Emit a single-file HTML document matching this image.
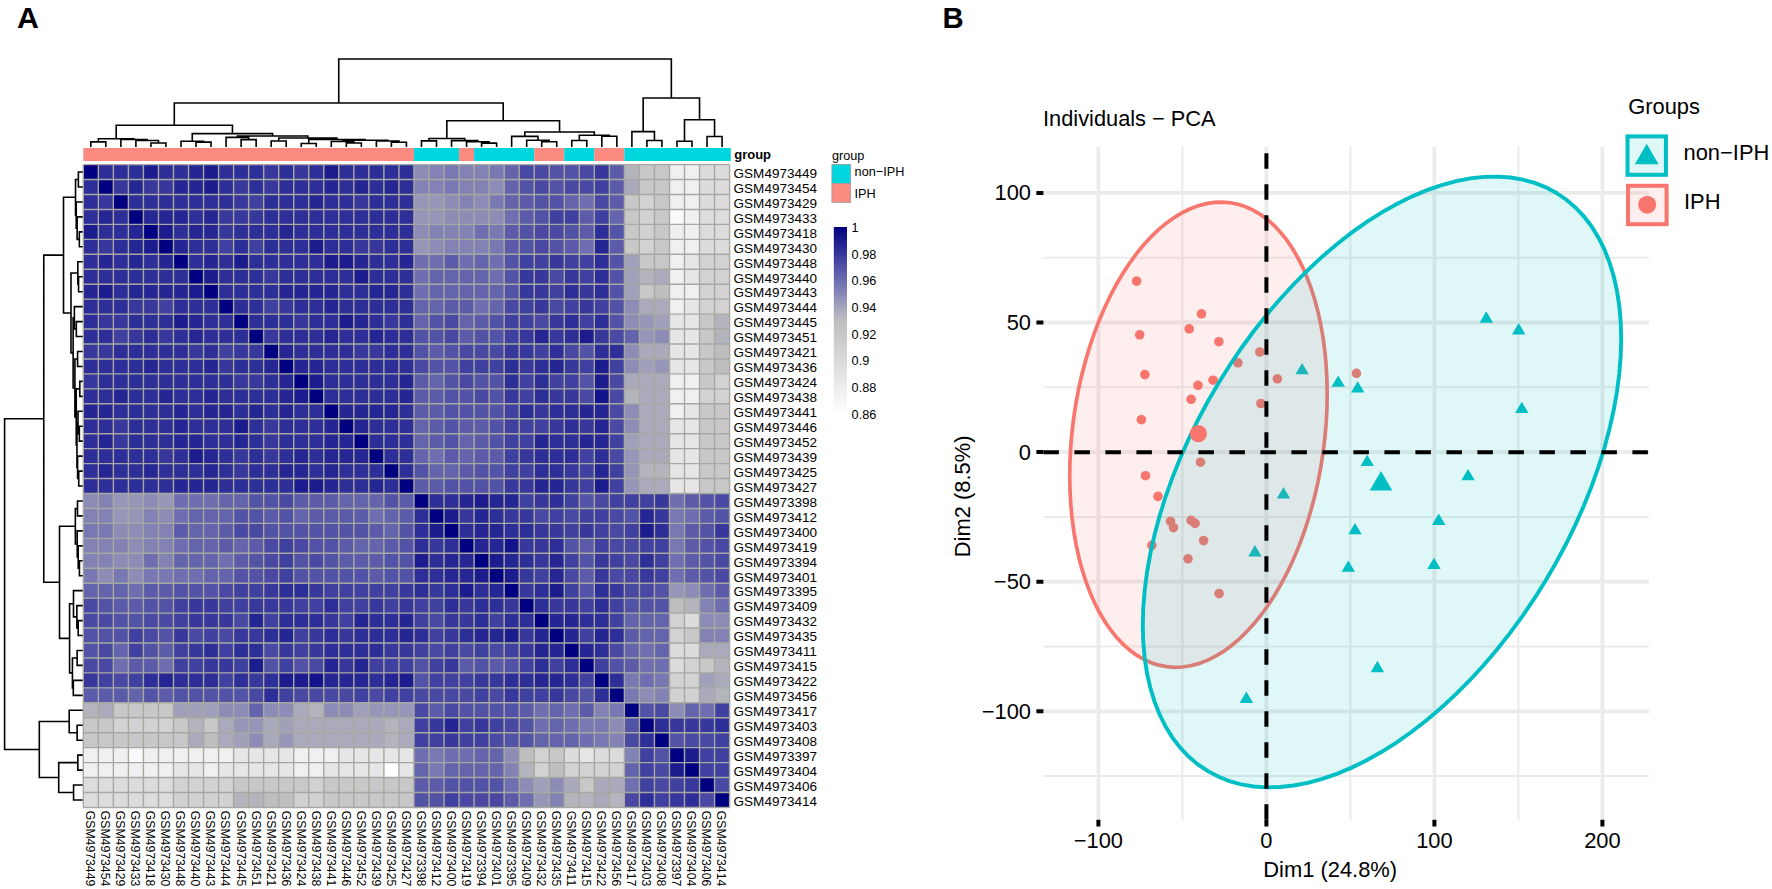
<!DOCTYPE html><html><head><meta charset="utf-8"><title>Figure</title><style>html,body{margin:0;padding:0;background:#fff;}svg{display:block;font-family:"Liberation Sans",Arial,sans-serif;}</style></head><body>
<svg width="1772" height="889" viewBox="0 0 1772 889">
<rect width="1772" height="889" fill="#fff"/>
<text x="17" y="28.1" font-size="30.3" font-weight="bold">A</text>
<text x="942.6" y="28.1" font-size="29.3" font-weight="bold">B</text>
<path d="M90.81 146.30V141.90M105.84 146.30V141.90M90.81 141.90H105.84M150.93 146.30V143.00M165.96 146.30V143.00M150.93 143.00H165.96M135.90 146.30V140.50M158.45 143.00V140.50M135.90 140.50H158.45M120.88 146.30V139.50M147.18 140.50V139.50M120.88 139.50H147.18M98.33 141.90V138.70M134.03 139.50V138.70M98.33 138.70H134.03M196.02 146.30V142.10M211.05 146.30V142.10M196.02 142.10H211.05M180.99 146.30V141.30M203.54 142.10V141.30M180.99 141.30H203.54M241.11 146.30V139.60M256.14 146.30V139.60M241.11 139.60H256.14M226.08 146.30V137.40M248.63 139.60V137.40M226.08 137.40H248.63M271.17 146.30V141.00M286.20 146.30V141.00M271.17 141.00H286.20M301.23 146.30V143.50M316.26 146.30V143.50M301.23 143.50H316.26M346.32 146.30V143.00M361.35 146.30V143.00M346.32 143.00H361.35M331.29 146.30V141.50M353.84 143.00V141.50M331.29 141.50H353.84M391.41 146.30V142.30M406.44 146.30V142.30M391.41 142.30H406.44M376.38 146.30V141.00M398.93 142.30V141.00M376.38 141.00H398.93M342.57 141.50V140.30M387.66 141.00V140.30M342.57 140.30H387.66M308.75 143.50V139.50M365.11 140.30V139.50M308.75 139.50H365.11M278.69 141.00V138.00M336.93 139.50V138.00M278.69 138.00H336.93M237.36 137.40V136.00M307.81 138.00V136.00M237.36 136.00H307.81M192.27 141.30V133.60M272.58 136.00V133.60M192.27 133.60H272.58M116.18 138.70V125.20M232.43 133.60V125.20M116.18 125.20H232.43M421.47 146.30V140.90M436.50 146.30V140.90M421.47 140.90H436.50M481.59 146.30V143.10M496.62 146.30V143.10M481.59 143.10H496.62M466.56 146.30V141.70M489.11 143.10V141.70M466.56 141.70H489.11M451.53 146.30V140.60M477.84 141.70V140.60M451.53 140.60H477.84M428.99 140.90V138.50M464.69 140.60V138.50M428.99 138.50H464.69M541.71 146.30V141.70M556.75 146.30V141.70M541.71 141.70H556.75M526.68 146.30V140.20M549.23 141.70V140.20M526.68 140.20H549.23M511.65 146.30V136.40M537.96 140.20V136.40M511.65 136.40H537.96M571.77 146.30V140.50M586.80 146.30V140.50M571.77 140.50H586.80M601.83 146.30V136.20M616.86 146.30V136.20M601.83 136.20H616.86M579.29 140.50V135.20M609.35 136.20V135.20M579.29 135.20H609.35M524.81 136.40V132.00M594.32 135.20V132.00M524.81 132.00H594.32M446.84 138.50V120.70M559.56 132.00V120.70M446.84 120.70H559.56M174.30 125.20V103.00M503.20 120.70V103.00M174.30 103.00H503.20M646.92 146.30V140.50M661.95 146.30V140.50M646.92 140.50H661.95M631.89 146.30V131.60M654.44 140.50V131.60M631.89 131.60H654.44M676.98 146.30V141.30M692.01 146.30V141.30M676.98 141.30H692.01M707.04 146.30V136.50M722.07 146.30V136.50M707.04 136.50H722.07M684.50 141.30V119.80M714.56 136.50V119.80M684.50 119.80H714.56M643.17 131.60V98.00M699.53 119.80V98.00M643.17 98.00H699.53M338.75 103.00V59.00M671.35 98.00V59.00M338.75 59.00H671.35" stroke="#000" stroke-width="1.6" fill="none" stroke-linecap="square"/>
<path d="M82.30 172.07H78.38M82.30 187.02H78.38M78.38 172.07V187.02M82.30 231.87H79.36M82.30 246.82H79.36M79.36 231.87V246.82M82.30 216.92H77.13M79.36 239.35H77.13M77.13 216.92V239.35M82.30 201.97H76.24M77.13 228.14H76.24M76.24 201.97V228.14M78.38 179.55H75.53M76.24 215.06H75.53M75.53 179.55V215.06M82.30 276.73H78.56M82.30 291.68H78.56M78.56 276.73V291.68M82.30 261.77H77.85M78.56 284.20H77.85M77.85 261.77V284.20M82.30 321.58H76.33M82.30 336.52H76.33M76.33 321.58V336.52M82.30 306.62H74.38M76.33 329.05H74.38M74.38 306.62V329.05M82.30 351.48H77.58M82.30 366.43H77.58M77.58 351.48V366.43M82.30 381.38H79.80M82.30 396.33H79.80M79.80 381.38V396.33M82.30 426.23H79.36M82.30 441.17H79.36M79.36 426.23V441.17M82.30 411.27H78.02M79.36 433.70H78.02M78.02 411.27V433.70M82.30 471.08H78.74M82.30 486.02H78.74M78.74 471.08V486.02M82.30 456.12H77.58M78.74 478.55H77.58M77.58 456.12V478.55M78.02 422.49H76.96M77.58 467.34H76.96M76.96 422.49V467.34M79.80 388.85H76.24M76.96 444.91H76.24M76.24 388.85V444.91M77.58 358.95H74.91M76.24 416.88H74.91M74.91 358.95V416.88M74.38 317.84H73.13M74.91 387.92H73.13M73.13 317.84V387.92M77.85 272.99H70.99M73.13 352.88H70.99M70.99 272.99V352.88M75.53 197.30H63.52M70.99 312.93H63.52M63.52 197.30V312.93M82.30 500.98H77.49M82.30 515.92H77.49M77.49 500.98V515.92M82.30 560.77H79.45M82.30 575.73H79.45M79.45 560.77V575.73M82.30 545.83H78.20M79.45 568.25H78.20M78.20 545.83V568.25M82.30 530.88H77.22M78.20 557.04H77.22M77.22 530.88V557.04M77.49 508.45H75.35M77.22 543.96H75.35M75.35 508.45V543.96M82.30 620.58H78.20M82.30 635.52H78.20M78.20 620.58V635.52M82.30 605.62H76.87M78.20 628.05H76.87M76.87 605.62V628.05M82.30 590.67H73.49M76.87 616.84H73.49M73.49 590.67V616.84M82.30 650.48H77.13M82.30 665.42H77.13M77.13 650.48V665.42M82.30 680.38H73.31M82.30 695.33H73.31M73.31 680.38V695.33M77.13 657.95H72.42M73.31 687.85H72.42M72.42 657.95V687.85M73.49 603.76H69.57M72.42 672.90H69.57M69.57 603.76V672.90M75.35 526.20H59.51M69.57 638.33H59.51M59.51 526.20V638.33M63.52 255.12H43.76M59.51 582.27H43.76M43.76 255.12V582.27M82.30 725.23H77.13M82.30 740.18H77.13M77.13 725.23V740.18M82.30 710.27H69.21M77.13 732.70H69.21M69.21 710.27V732.70M82.30 755.12H77.85M82.30 770.08H77.85M77.85 755.12V770.08M82.30 785.02H73.57M82.30 799.98H73.57M73.57 785.02V799.98M77.85 762.60H58.71M73.57 792.50H58.71M58.71 762.60V792.50M69.21 721.49H39.31M58.71 777.55H39.31M39.31 721.49V777.55M43.76 418.69H4.60M39.31 749.52H4.60M4.60 418.69V749.52" stroke="#000" stroke-width="1.6" fill="none" stroke-linecap="square"/>
<rect x="83.30" y="148.0" width="330.66" height="13.0" fill="#fb8a80"/>
<rect x="413.96" y="148.0" width="45.09" height="13.0" fill="#00d6de"/>
<rect x="459.05" y="148.0" width="15.03" height="13.0" fill="#fb8a80"/>
<rect x="474.08" y="148.0" width="60.12" height="13.0" fill="#00d6de"/>
<rect x="534.20" y="148.0" width="30.06" height="13.0" fill="#fb8a80"/>
<rect x="564.26" y="148.0" width="30.06" height="13.0" fill="#00d6de"/>
<rect x="594.32" y="148.0" width="30.06" height="13.0" fill="#fb8a80"/>
<rect x="624.38" y="148.0" width="106.41" height="13.0" fill="#00d6de"/>
<rect x="83.30" y="164.60" width="15.03" height="14.95" fill="#000080"/>
<rect x="98.33" y="164.60" width="15.03" height="14.95" fill="#2e2e98"/>
<rect x="113.36" y="164.60" width="15.03" height="14.95" fill="#2e2e98"/>
<rect x="128.39" y="164.60" width="15.03" height="14.95" fill="#2e2e98"/>
<rect x="143.42" y="164.60" width="15.03" height="14.95" fill="#1c1c8f"/>
<rect x="158.45" y="164.60" width="15.03" height="14.95" fill="#2e2e98"/>
<rect x="173.48" y="164.60" width="15.03" height="14.95" fill="#2e2e98"/>
<rect x="188.51" y="164.60" width="15.03" height="14.95" fill="#252594"/>
<rect x="203.54" y="164.60" width="15.03" height="14.95" fill="#1c1c8f"/>
<rect x="218.57" y="164.60" width="15.03" height="14.95" fill="#2e2e98"/>
<rect x="233.60" y="164.60" width="15.03" height="14.95" fill="#2e2e98"/>
<rect x="248.63" y="164.60" width="15.03" height="14.95" fill="#2e2e98"/>
<rect x="263.66" y="164.60" width="15.03" height="14.95" fill="#37379c"/>
<rect x="278.69" y="164.60" width="15.03" height="14.95" fill="#2e2e98"/>
<rect x="293.72" y="164.60" width="15.03" height="14.95" fill="#37379c"/>
<rect x="308.75" y="164.60" width="15.03" height="14.95" fill="#2e2e98"/>
<rect x="323.78" y="164.60" width="15.03" height="14.95" fill="#1c1c8f"/>
<rect x="338.81" y="164.60" width="15.03" height="14.95" fill="#2e2e98"/>
<rect x="353.84" y="164.60" width="15.03" height="14.95" fill="#2e2e98"/>
<rect x="368.87" y="164.60" width="15.03" height="14.95" fill="#2e2e98"/>
<rect x="383.90" y="164.60" width="15.03" height="14.95" fill="#2e2e98"/>
<rect x="398.93" y="164.60" width="15.03" height="14.95" fill="#2e2e98"/>
<rect x="413.96" y="164.60" width="15.03" height="14.95" fill="#8c8cb7"/>
<rect x="428.99" y="164.60" width="15.03" height="14.95" fill="#8282b5"/>
<rect x="444.02" y="164.60" width="15.03" height="14.95" fill="#7878b3"/>
<rect x="459.05" y="164.60" width="15.03" height="14.95" fill="#8282b5"/>
<rect x="474.08" y="164.60" width="15.03" height="14.95" fill="#8282b5"/>
<rect x="489.11" y="164.60" width="15.03" height="14.95" fill="#7878b3"/>
<rect x="504.14" y="164.60" width="15.03" height="14.95" fill="#6464ad"/>
<rect x="519.17" y="164.60" width="15.03" height="14.95" fill="#4949a4"/>
<rect x="534.20" y="164.60" width="15.03" height="14.95" fill="#4949a4"/>
<rect x="549.23" y="164.60" width="15.03" height="14.95" fill="#5252a7"/>
<rect x="564.26" y="164.60" width="15.03" height="14.95" fill="#5252a7"/>
<rect x="579.29" y="164.60" width="15.03" height="14.95" fill="#4949a4"/>
<rect x="594.32" y="164.60" width="15.03" height="14.95" fill="#37379c"/>
<rect x="609.35" y="164.60" width="15.03" height="14.95" fill="#5b5baa"/>
<rect x="624.38" y="164.60" width="15.03" height="14.95" fill="#b4b4bd"/>
<rect x="639.41" y="164.60" width="15.03" height="14.95" fill="#c8c8c8"/>
<rect x="654.44" y="164.60" width="15.03" height="14.95" fill="#c8c8c8"/>
<rect x="669.47" y="164.60" width="15.03" height="14.95" fill="#f0f0f0"/>
<rect x="684.50" y="164.60" width="15.03" height="14.95" fill="#f0f0f0"/>
<rect x="699.53" y="164.60" width="15.03" height="14.95" fill="#dcdcdc"/>
<rect x="714.56" y="164.60" width="15.03" height="14.95" fill="#dcdcdc"/>
<rect x="83.30" y="179.55" width="15.03" height="14.95" fill="#2e2e98"/>
<rect x="98.33" y="179.55" width="15.03" height="14.95" fill="#000080"/>
<rect x="113.36" y="179.55" width="15.03" height="14.95" fill="#37379c"/>
<rect x="128.39" y="179.55" width="15.03" height="14.95" fill="#252594"/>
<rect x="143.42" y="179.55" width="15.03" height="14.95" fill="#37379c"/>
<rect x="158.45" y="179.55" width="15.03" height="14.95" fill="#37379c"/>
<rect x="173.48" y="179.55" width="15.03" height="14.95" fill="#252594"/>
<rect x="188.51" y="179.55" width="15.03" height="14.95" fill="#252594"/>
<rect x="203.54" y="179.55" width="15.03" height="14.95" fill="#1c1c8f"/>
<rect x="218.57" y="179.55" width="15.03" height="14.95" fill="#2e2e98"/>
<rect x="233.60" y="179.55" width="15.03" height="14.95" fill="#37379c"/>
<rect x="248.63" y="179.55" width="15.03" height="14.95" fill="#2e2e98"/>
<rect x="263.66" y="179.55" width="15.03" height="14.95" fill="#37379c"/>
<rect x="278.69" y="179.55" width="15.03" height="14.95" fill="#2e2e98"/>
<rect x="293.72" y="179.55" width="15.03" height="14.95" fill="#2e2e98"/>
<rect x="308.75" y="179.55" width="15.03" height="14.95" fill="#2e2e98"/>
<rect x="323.78" y="179.55" width="15.03" height="14.95" fill="#252594"/>
<rect x="338.81" y="179.55" width="15.03" height="14.95" fill="#2e2e98"/>
<rect x="353.84" y="179.55" width="15.03" height="14.95" fill="#252594"/>
<rect x="368.87" y="179.55" width="15.03" height="14.95" fill="#2e2e98"/>
<rect x="383.90" y="179.55" width="15.03" height="14.95" fill="#252594"/>
<rect x="398.93" y="179.55" width="15.03" height="14.95" fill="#2e2e98"/>
<rect x="413.96" y="179.55" width="15.03" height="14.95" fill="#8282b5"/>
<rect x="428.99" y="179.55" width="15.03" height="14.95" fill="#8282b5"/>
<rect x="444.02" y="179.55" width="15.03" height="14.95" fill="#7878b3"/>
<rect x="459.05" y="179.55" width="15.03" height="14.95" fill="#8282b5"/>
<rect x="474.08" y="179.55" width="15.03" height="14.95" fill="#8282b5"/>
<rect x="489.11" y="179.55" width="15.03" height="14.95" fill="#8c8cb7"/>
<rect x="504.14" y="179.55" width="15.03" height="14.95" fill="#6464ad"/>
<rect x="519.17" y="179.55" width="15.03" height="14.95" fill="#5252a7"/>
<rect x="534.20" y="179.55" width="15.03" height="14.95" fill="#4949a4"/>
<rect x="549.23" y="179.55" width="15.03" height="14.95" fill="#5252a7"/>
<rect x="564.26" y="179.55" width="15.03" height="14.95" fill="#4949a4"/>
<rect x="579.29" y="179.55" width="15.03" height="14.95" fill="#4949a4"/>
<rect x="594.32" y="179.55" width="15.03" height="14.95" fill="#4040a0"/>
<rect x="609.35" y="179.55" width="15.03" height="14.95" fill="#5b5baa"/>
<rect x="624.38" y="179.55" width="15.03" height="14.95" fill="#aaaabc"/>
<rect x="639.41" y="179.55" width="15.03" height="14.95" fill="#c8c8c8"/>
<rect x="654.44" y="179.55" width="15.03" height="14.95" fill="#c8c8c8"/>
<rect x="669.47" y="179.55" width="15.03" height="14.95" fill="#f0f0f0"/>
<rect x="684.50" y="179.55" width="15.03" height="14.95" fill="#f0f0f0"/>
<rect x="699.53" y="179.55" width="15.03" height="14.95" fill="#dcdcdc"/>
<rect x="714.56" y="179.55" width="15.03" height="14.95" fill="#dcdcdc"/>
<rect x="83.30" y="194.50" width="15.03" height="14.95" fill="#2e2e98"/>
<rect x="98.33" y="194.50" width="15.03" height="14.95" fill="#37379c"/>
<rect x="113.36" y="194.50" width="15.03" height="14.95" fill="#000080"/>
<rect x="128.39" y="194.50" width="15.03" height="14.95" fill="#2e2e98"/>
<rect x="143.42" y="194.50" width="15.03" height="14.95" fill="#2e2e98"/>
<rect x="158.45" y="194.50" width="15.03" height="14.95" fill="#2e2e98"/>
<rect x="173.48" y="194.50" width="15.03" height="14.95" fill="#2e2e98"/>
<rect x="188.51" y="194.50" width="15.03" height="14.95" fill="#2e2e98"/>
<rect x="203.54" y="194.50" width="15.03" height="14.95" fill="#2e2e98"/>
<rect x="218.57" y="194.50" width="15.03" height="14.95" fill="#2e2e98"/>
<rect x="233.60" y="194.50" width="15.03" height="14.95" fill="#37379c"/>
<rect x="248.63" y="194.50" width="15.03" height="14.95" fill="#4040a0"/>
<rect x="263.66" y="194.50" width="15.03" height="14.95" fill="#2e2e98"/>
<rect x="278.69" y="194.50" width="15.03" height="14.95" fill="#2e2e98"/>
<rect x="293.72" y="194.50" width="15.03" height="14.95" fill="#2e2e98"/>
<rect x="308.75" y="194.50" width="15.03" height="14.95" fill="#252594"/>
<rect x="323.78" y="194.50" width="15.03" height="14.95" fill="#2e2e98"/>
<rect x="338.81" y="194.50" width="15.03" height="14.95" fill="#2e2e98"/>
<rect x="353.84" y="194.50" width="15.03" height="14.95" fill="#37379c"/>
<rect x="368.87" y="194.50" width="15.03" height="14.95" fill="#2e2e98"/>
<rect x="383.90" y="194.50" width="15.03" height="14.95" fill="#2e2e98"/>
<rect x="398.93" y="194.50" width="15.03" height="14.95" fill="#2e2e98"/>
<rect x="413.96" y="194.50" width="15.03" height="14.95" fill="#9696b9"/>
<rect x="428.99" y="194.50" width="15.03" height="14.95" fill="#9696b9"/>
<rect x="444.02" y="194.50" width="15.03" height="14.95" fill="#8c8cb7"/>
<rect x="459.05" y="194.50" width="15.03" height="14.95" fill="#8282b5"/>
<rect x="474.08" y="194.50" width="15.03" height="14.95" fill="#8c8cb7"/>
<rect x="489.11" y="194.50" width="15.03" height="14.95" fill="#7878b3"/>
<rect x="504.14" y="194.50" width="15.03" height="14.95" fill="#6464ad"/>
<rect x="519.17" y="194.50" width="15.03" height="14.95" fill="#5b5baa"/>
<rect x="534.20" y="194.50" width="15.03" height="14.95" fill="#5252a7"/>
<rect x="549.23" y="194.50" width="15.03" height="14.95" fill="#5252a7"/>
<rect x="564.26" y="194.50" width="15.03" height="14.95" fill="#6464ad"/>
<rect x="579.29" y="194.50" width="15.03" height="14.95" fill="#6e6eb0"/>
<rect x="594.32" y="194.50" width="15.03" height="14.95" fill="#4949a4"/>
<rect x="609.35" y="194.50" width="15.03" height="14.95" fill="#5b5baa"/>
<rect x="624.38" y="194.50" width="15.03" height="14.95" fill="#c8c8c8"/>
<rect x="639.41" y="194.50" width="15.03" height="14.95" fill="#d2d2d2"/>
<rect x="654.44" y="194.50" width="15.03" height="14.95" fill="#c8c8c8"/>
<rect x="669.47" y="194.50" width="15.03" height="14.95" fill="#f0f0f0"/>
<rect x="684.50" y="194.50" width="15.03" height="14.95" fill="#f0f0f0"/>
<rect x="699.53" y="194.50" width="15.03" height="14.95" fill="#dcdcdc"/>
<rect x="714.56" y="194.50" width="15.03" height="14.95" fill="#dcdcdc"/>
<rect x="83.30" y="209.45" width="15.03" height="14.95" fill="#2e2e98"/>
<rect x="98.33" y="209.45" width="15.03" height="14.95" fill="#252594"/>
<rect x="113.36" y="209.45" width="15.03" height="14.95" fill="#2e2e98"/>
<rect x="128.39" y="209.45" width="15.03" height="14.95" fill="#000080"/>
<rect x="143.42" y="209.45" width="15.03" height="14.95" fill="#252594"/>
<rect x="158.45" y="209.45" width="15.03" height="14.95" fill="#252594"/>
<rect x="173.48" y="209.45" width="15.03" height="14.95" fill="#252594"/>
<rect x="188.51" y="209.45" width="15.03" height="14.95" fill="#2e2e98"/>
<rect x="203.54" y="209.45" width="15.03" height="14.95" fill="#252594"/>
<rect x="218.57" y="209.45" width="15.03" height="14.95" fill="#37379c"/>
<rect x="233.60" y="209.45" width="15.03" height="14.95" fill="#37379c"/>
<rect x="248.63" y="209.45" width="15.03" height="14.95" fill="#37379c"/>
<rect x="263.66" y="209.45" width="15.03" height="14.95" fill="#2e2e98"/>
<rect x="278.69" y="209.45" width="15.03" height="14.95" fill="#2e2e98"/>
<rect x="293.72" y="209.45" width="15.03" height="14.95" fill="#2e2e98"/>
<rect x="308.75" y="209.45" width="15.03" height="14.95" fill="#2e2e98"/>
<rect x="323.78" y="209.45" width="15.03" height="14.95" fill="#2e2e98"/>
<rect x="338.81" y="209.45" width="15.03" height="14.95" fill="#2e2e98"/>
<rect x="353.84" y="209.45" width="15.03" height="14.95" fill="#2e2e98"/>
<rect x="368.87" y="209.45" width="15.03" height="14.95" fill="#2e2e98"/>
<rect x="383.90" y="209.45" width="15.03" height="14.95" fill="#2e2e98"/>
<rect x="398.93" y="209.45" width="15.03" height="14.95" fill="#2e2e98"/>
<rect x="413.96" y="209.45" width="15.03" height="14.95" fill="#9696b9"/>
<rect x="428.99" y="209.45" width="15.03" height="14.95" fill="#9696b9"/>
<rect x="444.02" y="209.45" width="15.03" height="14.95" fill="#8c8cb7"/>
<rect x="459.05" y="209.45" width="15.03" height="14.95" fill="#8c8cb7"/>
<rect x="474.08" y="209.45" width="15.03" height="14.95" fill="#8c8cb7"/>
<rect x="489.11" y="209.45" width="15.03" height="14.95" fill="#8c8cb7"/>
<rect x="504.14" y="209.45" width="15.03" height="14.95" fill="#6e6eb0"/>
<rect x="519.17" y="209.45" width="15.03" height="14.95" fill="#5b5baa"/>
<rect x="534.20" y="209.45" width="15.03" height="14.95" fill="#5252a7"/>
<rect x="549.23" y="209.45" width="15.03" height="14.95" fill="#4040a0"/>
<rect x="564.26" y="209.45" width="15.03" height="14.95" fill="#4040a0"/>
<rect x="579.29" y="209.45" width="15.03" height="14.95" fill="#5b5baa"/>
<rect x="594.32" y="209.45" width="15.03" height="14.95" fill="#4040a0"/>
<rect x="609.35" y="209.45" width="15.03" height="14.95" fill="#6464ad"/>
<rect x="624.38" y="209.45" width="15.03" height="14.95" fill="#c8c8c8"/>
<rect x="639.41" y="209.45" width="15.03" height="14.95" fill="#d2d2d2"/>
<rect x="654.44" y="209.45" width="15.03" height="14.95" fill="#c8c8c8"/>
<rect x="669.47" y="209.45" width="15.03" height="14.95" fill="#fafafa"/>
<rect x="684.50" y="209.45" width="15.03" height="14.95" fill="#f0f0f0"/>
<rect x="699.53" y="209.45" width="15.03" height="14.95" fill="#dcdcdc"/>
<rect x="714.56" y="209.45" width="15.03" height="14.95" fill="#dcdcdc"/>
<rect x="83.30" y="224.40" width="15.03" height="14.95" fill="#1c1c8f"/>
<rect x="98.33" y="224.40" width="15.03" height="14.95" fill="#2e2e98"/>
<rect x="113.36" y="224.40" width="15.03" height="14.95" fill="#2e2e98"/>
<rect x="128.39" y="224.40" width="15.03" height="14.95" fill="#252594"/>
<rect x="143.42" y="224.40" width="15.03" height="14.95" fill="#000080"/>
<rect x="158.45" y="224.40" width="15.03" height="14.95" fill="#1c1c8f"/>
<rect x="173.48" y="224.40" width="15.03" height="14.95" fill="#2e2e98"/>
<rect x="188.51" y="224.40" width="15.03" height="14.95" fill="#252594"/>
<rect x="203.54" y="224.40" width="15.03" height="14.95" fill="#252594"/>
<rect x="218.57" y="224.40" width="15.03" height="14.95" fill="#37379c"/>
<rect x="233.60" y="224.40" width="15.03" height="14.95" fill="#2e2e98"/>
<rect x="248.63" y="224.40" width="15.03" height="14.95" fill="#2e2e98"/>
<rect x="263.66" y="224.40" width="15.03" height="14.95" fill="#2e2e98"/>
<rect x="278.69" y="224.40" width="15.03" height="14.95" fill="#252594"/>
<rect x="293.72" y="224.40" width="15.03" height="14.95" fill="#2e2e98"/>
<rect x="308.75" y="224.40" width="15.03" height="14.95" fill="#2e2e98"/>
<rect x="323.78" y="224.40" width="15.03" height="14.95" fill="#2e2e98"/>
<rect x="338.81" y="224.40" width="15.03" height="14.95" fill="#2e2e98"/>
<rect x="353.84" y="224.40" width="15.03" height="14.95" fill="#2e2e98"/>
<rect x="368.87" y="224.40" width="15.03" height="14.95" fill="#2e2e98"/>
<rect x="383.90" y="224.40" width="15.03" height="14.95" fill="#2e2e98"/>
<rect x="398.93" y="224.40" width="15.03" height="14.95" fill="#2e2e98"/>
<rect x="413.96" y="224.40" width="15.03" height="14.95" fill="#8c8cb7"/>
<rect x="428.99" y="224.40" width="15.03" height="14.95" fill="#8282b5"/>
<rect x="444.02" y="224.40" width="15.03" height="14.95" fill="#8282b5"/>
<rect x="459.05" y="224.40" width="15.03" height="14.95" fill="#8282b5"/>
<rect x="474.08" y="224.40" width="15.03" height="14.95" fill="#6e6eb0"/>
<rect x="489.11" y="224.40" width="15.03" height="14.95" fill="#7878b3"/>
<rect x="504.14" y="224.40" width="15.03" height="14.95" fill="#5b5baa"/>
<rect x="519.17" y="224.40" width="15.03" height="14.95" fill="#5252a7"/>
<rect x="534.20" y="224.40" width="15.03" height="14.95" fill="#4949a4"/>
<rect x="549.23" y="224.40" width="15.03" height="14.95" fill="#4949a4"/>
<rect x="564.26" y="224.40" width="15.03" height="14.95" fill="#5252a7"/>
<rect x="579.29" y="224.40" width="15.03" height="14.95" fill="#5b5baa"/>
<rect x="594.32" y="224.40" width="15.03" height="14.95" fill="#2e2e98"/>
<rect x="609.35" y="224.40" width="15.03" height="14.95" fill="#5252a7"/>
<rect x="624.38" y="224.40" width="15.03" height="14.95" fill="#c8c8c8"/>
<rect x="639.41" y="224.40" width="15.03" height="14.95" fill="#d2d2d2"/>
<rect x="654.44" y="224.40" width="15.03" height="14.95" fill="#c8c8c8"/>
<rect x="669.47" y="224.40" width="15.03" height="14.95" fill="#f0f0f0"/>
<rect x="684.50" y="224.40" width="15.03" height="14.95" fill="#f0f0f0"/>
<rect x="699.53" y="224.40" width="15.03" height="14.95" fill="#dcdcdc"/>
<rect x="714.56" y="224.40" width="15.03" height="14.95" fill="#dcdcdc"/>
<rect x="83.30" y="239.35" width="15.03" height="14.95" fill="#2e2e98"/>
<rect x="98.33" y="239.35" width="15.03" height="14.95" fill="#37379c"/>
<rect x="113.36" y="239.35" width="15.03" height="14.95" fill="#2e2e98"/>
<rect x="128.39" y="239.35" width="15.03" height="14.95" fill="#252594"/>
<rect x="143.42" y="239.35" width="15.03" height="14.95" fill="#1c1c8f"/>
<rect x="158.45" y="239.35" width="15.03" height="14.95" fill="#000080"/>
<rect x="173.48" y="239.35" width="15.03" height="14.95" fill="#252594"/>
<rect x="188.51" y="239.35" width="15.03" height="14.95" fill="#2e2e98"/>
<rect x="203.54" y="239.35" width="15.03" height="14.95" fill="#2e2e98"/>
<rect x="218.57" y="239.35" width="15.03" height="14.95" fill="#4040a0"/>
<rect x="233.60" y="239.35" width="15.03" height="14.95" fill="#2e2e98"/>
<rect x="248.63" y="239.35" width="15.03" height="14.95" fill="#4040a0"/>
<rect x="263.66" y="239.35" width="15.03" height="14.95" fill="#2e2e98"/>
<rect x="278.69" y="239.35" width="15.03" height="14.95" fill="#2e2e98"/>
<rect x="293.72" y="239.35" width="15.03" height="14.95" fill="#2e2e98"/>
<rect x="308.75" y="239.35" width="15.03" height="14.95" fill="#1c1c8f"/>
<rect x="323.78" y="239.35" width="15.03" height="14.95" fill="#2e2e98"/>
<rect x="338.81" y="239.35" width="15.03" height="14.95" fill="#2e2e98"/>
<rect x="353.84" y="239.35" width="15.03" height="14.95" fill="#37379c"/>
<rect x="368.87" y="239.35" width="15.03" height="14.95" fill="#37379c"/>
<rect x="383.90" y="239.35" width="15.03" height="14.95" fill="#2e2e98"/>
<rect x="398.93" y="239.35" width="15.03" height="14.95" fill="#2e2e98"/>
<rect x="413.96" y="239.35" width="15.03" height="14.95" fill="#9696b9"/>
<rect x="428.99" y="239.35" width="15.03" height="14.95" fill="#8c8cb7"/>
<rect x="444.02" y="239.35" width="15.03" height="14.95" fill="#8282b5"/>
<rect x="459.05" y="239.35" width="15.03" height="14.95" fill="#8282b5"/>
<rect x="474.08" y="239.35" width="15.03" height="14.95" fill="#8282b5"/>
<rect x="489.11" y="239.35" width="15.03" height="14.95" fill="#7878b3"/>
<rect x="504.14" y="239.35" width="15.03" height="14.95" fill="#5b5baa"/>
<rect x="519.17" y="239.35" width="15.03" height="14.95" fill="#5252a7"/>
<rect x="534.20" y="239.35" width="15.03" height="14.95" fill="#4949a4"/>
<rect x="549.23" y="239.35" width="15.03" height="14.95" fill="#5252a7"/>
<rect x="564.26" y="239.35" width="15.03" height="14.95" fill="#5b5baa"/>
<rect x="579.29" y="239.35" width="15.03" height="14.95" fill="#6e6eb0"/>
<rect x="594.32" y="239.35" width="15.03" height="14.95" fill="#252594"/>
<rect x="609.35" y="239.35" width="15.03" height="14.95" fill="#5b5baa"/>
<rect x="624.38" y="239.35" width="15.03" height="14.95" fill="#c8c8c8"/>
<rect x="639.41" y="239.35" width="15.03" height="14.95" fill="#d2d2d2"/>
<rect x="654.44" y="239.35" width="15.03" height="14.95" fill="#c8c8c8"/>
<rect x="669.47" y="239.35" width="15.03" height="14.95" fill="#f0f0f0"/>
<rect x="684.50" y="239.35" width="15.03" height="14.95" fill="#f0f0f0"/>
<rect x="699.53" y="239.35" width="15.03" height="14.95" fill="#dcdcdc"/>
<rect x="714.56" y="239.35" width="15.03" height="14.95" fill="#dcdcdc"/>
<rect x="83.30" y="254.30" width="15.03" height="14.95" fill="#2e2e98"/>
<rect x="98.33" y="254.30" width="15.03" height="14.95" fill="#252594"/>
<rect x="113.36" y="254.30" width="15.03" height="14.95" fill="#2e2e98"/>
<rect x="128.39" y="254.30" width="15.03" height="14.95" fill="#252594"/>
<rect x="143.42" y="254.30" width="15.03" height="14.95" fill="#2e2e98"/>
<rect x="158.45" y="254.30" width="15.03" height="14.95" fill="#252594"/>
<rect x="173.48" y="254.30" width="15.03" height="14.95" fill="#000080"/>
<rect x="188.51" y="254.30" width="15.03" height="14.95" fill="#2e2e98"/>
<rect x="203.54" y="254.30" width="15.03" height="14.95" fill="#252594"/>
<rect x="218.57" y="254.30" width="15.03" height="14.95" fill="#2e2e98"/>
<rect x="233.60" y="254.30" width="15.03" height="14.95" fill="#1c1c8f"/>
<rect x="248.63" y="254.30" width="15.03" height="14.95" fill="#2e2e98"/>
<rect x="263.66" y="254.30" width="15.03" height="14.95" fill="#2e2e98"/>
<rect x="278.69" y="254.30" width="15.03" height="14.95" fill="#2e2e98"/>
<rect x="293.72" y="254.30" width="15.03" height="14.95" fill="#2e2e98"/>
<rect x="308.75" y="254.30" width="15.03" height="14.95" fill="#2e2e98"/>
<rect x="323.78" y="254.30" width="15.03" height="14.95" fill="#1c1c8f"/>
<rect x="338.81" y="254.30" width="15.03" height="14.95" fill="#1c1c8f"/>
<rect x="353.84" y="254.30" width="15.03" height="14.95" fill="#252594"/>
<rect x="368.87" y="254.30" width="15.03" height="14.95" fill="#2e2e98"/>
<rect x="383.90" y="254.30" width="15.03" height="14.95" fill="#2e2e98"/>
<rect x="398.93" y="254.30" width="15.03" height="14.95" fill="#252594"/>
<rect x="413.96" y="254.30" width="15.03" height="14.95" fill="#6e6eb0"/>
<rect x="428.99" y="254.30" width="15.03" height="14.95" fill="#6e6eb0"/>
<rect x="444.02" y="254.30" width="15.03" height="14.95" fill="#5b5baa"/>
<rect x="459.05" y="254.30" width="15.03" height="14.95" fill="#6e6eb0"/>
<rect x="474.08" y="254.30" width="15.03" height="14.95" fill="#6464ad"/>
<rect x="489.11" y="254.30" width="15.03" height="14.95" fill="#6e6eb0"/>
<rect x="504.14" y="254.30" width="15.03" height="14.95" fill="#5252a7"/>
<rect x="519.17" y="254.30" width="15.03" height="14.95" fill="#4040a0"/>
<rect x="534.20" y="254.30" width="15.03" height="14.95" fill="#4040a0"/>
<rect x="549.23" y="254.30" width="15.03" height="14.95" fill="#37379c"/>
<rect x="564.26" y="254.30" width="15.03" height="14.95" fill="#4040a0"/>
<rect x="579.29" y="254.30" width="15.03" height="14.95" fill="#4040a0"/>
<rect x="594.32" y="254.30" width="15.03" height="14.95" fill="#2e2e98"/>
<rect x="609.35" y="254.30" width="15.03" height="14.95" fill="#5252a7"/>
<rect x="624.38" y="254.30" width="15.03" height="14.95" fill="#a0a0bb"/>
<rect x="639.41" y="254.30" width="15.03" height="14.95" fill="#c8c8c8"/>
<rect x="654.44" y="254.30" width="15.03" height="14.95" fill="#c8c8c8"/>
<rect x="669.47" y="254.30" width="15.03" height="14.95" fill="#f0f0f0"/>
<rect x="684.50" y="254.30" width="15.03" height="14.95" fill="#e6e6e6"/>
<rect x="699.53" y="254.30" width="15.03" height="14.95" fill="#d2d2d2"/>
<rect x="714.56" y="254.30" width="15.03" height="14.95" fill="#d2d2d2"/>
<rect x="83.30" y="269.25" width="15.03" height="14.95" fill="#2e2e98"/>
<rect x="98.33" y="269.25" width="15.03" height="14.95" fill="#2e2e98"/>
<rect x="113.36" y="269.25" width="15.03" height="14.95" fill="#2e2e98"/>
<rect x="128.39" y="269.25" width="15.03" height="14.95" fill="#2e2e98"/>
<rect x="143.42" y="269.25" width="15.03" height="14.95" fill="#2e2e98"/>
<rect x="158.45" y="269.25" width="15.03" height="14.95" fill="#2e2e98"/>
<rect x="173.48" y="269.25" width="15.03" height="14.95" fill="#2e2e98"/>
<rect x="188.51" y="269.25" width="15.03" height="14.95" fill="#000080"/>
<rect x="203.54" y="269.25" width="15.03" height="14.95" fill="#1c1c8f"/>
<rect x="218.57" y="269.25" width="15.03" height="14.95" fill="#2e2e98"/>
<rect x="233.60" y="269.25" width="15.03" height="14.95" fill="#2e2e98"/>
<rect x="248.63" y="269.25" width="15.03" height="14.95" fill="#2e2e98"/>
<rect x="263.66" y="269.25" width="15.03" height="14.95" fill="#37379c"/>
<rect x="278.69" y="269.25" width="15.03" height="14.95" fill="#2e2e98"/>
<rect x="293.72" y="269.25" width="15.03" height="14.95" fill="#2e2e98"/>
<rect x="308.75" y="269.25" width="15.03" height="14.95" fill="#2e2e98"/>
<rect x="323.78" y="269.25" width="15.03" height="14.95" fill="#2e2e98"/>
<rect x="338.81" y="269.25" width="15.03" height="14.95" fill="#2e2e98"/>
<rect x="353.84" y="269.25" width="15.03" height="14.95" fill="#1c1c8f"/>
<rect x="368.87" y="269.25" width="15.03" height="14.95" fill="#2e2e98"/>
<rect x="383.90" y="269.25" width="15.03" height="14.95" fill="#2e2e98"/>
<rect x="398.93" y="269.25" width="15.03" height="14.95" fill="#2e2e98"/>
<rect x="413.96" y="269.25" width="15.03" height="14.95" fill="#6e6eb0"/>
<rect x="428.99" y="269.25" width="15.03" height="14.95" fill="#6464ad"/>
<rect x="444.02" y="269.25" width="15.03" height="14.95" fill="#6464ad"/>
<rect x="459.05" y="269.25" width="15.03" height="14.95" fill="#6464ad"/>
<rect x="474.08" y="269.25" width="15.03" height="14.95" fill="#6464ad"/>
<rect x="489.11" y="269.25" width="15.03" height="14.95" fill="#6e6eb0"/>
<rect x="504.14" y="269.25" width="15.03" height="14.95" fill="#5252a7"/>
<rect x="519.17" y="269.25" width="15.03" height="14.95" fill="#37379c"/>
<rect x="534.20" y="269.25" width="15.03" height="14.95" fill="#37379c"/>
<rect x="549.23" y="269.25" width="15.03" height="14.95" fill="#4949a4"/>
<rect x="564.26" y="269.25" width="15.03" height="14.95" fill="#37379c"/>
<rect x="579.29" y="269.25" width="15.03" height="14.95" fill="#4040a0"/>
<rect x="594.32" y="269.25" width="15.03" height="14.95" fill="#2e2e98"/>
<rect x="609.35" y="269.25" width="15.03" height="14.95" fill="#5252a7"/>
<rect x="624.38" y="269.25" width="15.03" height="14.95" fill="#a0a0bb"/>
<rect x="639.41" y="269.25" width="15.03" height="14.95" fill="#b4b4bd"/>
<rect x="654.44" y="269.25" width="15.03" height="14.95" fill="#aaaabc"/>
<rect x="669.47" y="269.25" width="15.03" height="14.95" fill="#f0f0f0"/>
<rect x="684.50" y="269.25" width="15.03" height="14.95" fill="#e6e6e6"/>
<rect x="699.53" y="269.25" width="15.03" height="14.95" fill="#d2d2d2"/>
<rect x="714.56" y="269.25" width="15.03" height="14.95" fill="#d2d2d2"/>
<rect x="83.30" y="284.20" width="15.03" height="14.95" fill="#252594"/>
<rect x="98.33" y="284.20" width="15.03" height="14.95" fill="#1c1c8f"/>
<rect x="113.36" y="284.20" width="15.03" height="14.95" fill="#2e2e98"/>
<rect x="128.39" y="284.20" width="15.03" height="14.95" fill="#252594"/>
<rect x="143.42" y="284.20" width="15.03" height="14.95" fill="#252594"/>
<rect x="158.45" y="284.20" width="15.03" height="14.95" fill="#252594"/>
<rect x="173.48" y="284.20" width="15.03" height="14.95" fill="#252594"/>
<rect x="188.51" y="284.20" width="15.03" height="14.95" fill="#1c1c8f"/>
<rect x="203.54" y="284.20" width="15.03" height="14.95" fill="#000080"/>
<rect x="218.57" y="284.20" width="15.03" height="14.95" fill="#2e2e98"/>
<rect x="233.60" y="284.20" width="15.03" height="14.95" fill="#2e2e98"/>
<rect x="248.63" y="284.20" width="15.03" height="14.95" fill="#2e2e98"/>
<rect x="263.66" y="284.20" width="15.03" height="14.95" fill="#2e2e98"/>
<rect x="278.69" y="284.20" width="15.03" height="14.95" fill="#252594"/>
<rect x="293.72" y="284.20" width="15.03" height="14.95" fill="#252594"/>
<rect x="308.75" y="284.20" width="15.03" height="14.95" fill="#252594"/>
<rect x="323.78" y="284.20" width="15.03" height="14.95" fill="#252594"/>
<rect x="338.81" y="284.20" width="15.03" height="14.95" fill="#2e2e98"/>
<rect x="353.84" y="284.20" width="15.03" height="14.95" fill="#2e2e98"/>
<rect x="368.87" y="284.20" width="15.03" height="14.95" fill="#252594"/>
<rect x="383.90" y="284.20" width="15.03" height="14.95" fill="#252594"/>
<rect x="398.93" y="284.20" width="15.03" height="14.95" fill="#2e2e98"/>
<rect x="413.96" y="284.20" width="15.03" height="14.95" fill="#6e6eb0"/>
<rect x="428.99" y="284.20" width="15.03" height="14.95" fill="#6464ad"/>
<rect x="444.02" y="284.20" width="15.03" height="14.95" fill="#6464ad"/>
<rect x="459.05" y="284.20" width="15.03" height="14.95" fill="#6464ad"/>
<rect x="474.08" y="284.20" width="15.03" height="14.95" fill="#6464ad"/>
<rect x="489.11" y="284.20" width="15.03" height="14.95" fill="#6464ad"/>
<rect x="504.14" y="284.20" width="15.03" height="14.95" fill="#5252a7"/>
<rect x="519.17" y="284.20" width="15.03" height="14.95" fill="#37379c"/>
<rect x="534.20" y="284.20" width="15.03" height="14.95" fill="#37379c"/>
<rect x="549.23" y="284.20" width="15.03" height="14.95" fill="#4040a0"/>
<rect x="564.26" y="284.20" width="15.03" height="14.95" fill="#2e2e98"/>
<rect x="579.29" y="284.20" width="15.03" height="14.95" fill="#37379c"/>
<rect x="594.32" y="284.20" width="15.03" height="14.95" fill="#2e2e98"/>
<rect x="609.35" y="284.20" width="15.03" height="14.95" fill="#5252a7"/>
<rect x="624.38" y="284.20" width="15.03" height="14.95" fill="#a0a0bb"/>
<rect x="639.41" y="284.20" width="15.03" height="14.95" fill="#c8c8c8"/>
<rect x="654.44" y="284.20" width="15.03" height="14.95" fill="#bebebe"/>
<rect x="669.47" y="284.20" width="15.03" height="14.95" fill="#f0f0f0"/>
<rect x="684.50" y="284.20" width="15.03" height="14.95" fill="#f0f0f0"/>
<rect x="699.53" y="284.20" width="15.03" height="14.95" fill="#d2d2d2"/>
<rect x="714.56" y="284.20" width="15.03" height="14.95" fill="#d2d2d2"/>
<rect x="83.30" y="299.15" width="15.03" height="14.95" fill="#2e2e98"/>
<rect x="98.33" y="299.15" width="15.03" height="14.95" fill="#2e2e98"/>
<rect x="113.36" y="299.15" width="15.03" height="14.95" fill="#2e2e98"/>
<rect x="128.39" y="299.15" width="15.03" height="14.95" fill="#37379c"/>
<rect x="143.42" y="299.15" width="15.03" height="14.95" fill="#37379c"/>
<rect x="158.45" y="299.15" width="15.03" height="14.95" fill="#4040a0"/>
<rect x="173.48" y="299.15" width="15.03" height="14.95" fill="#2e2e98"/>
<rect x="188.51" y="299.15" width="15.03" height="14.95" fill="#2e2e98"/>
<rect x="203.54" y="299.15" width="15.03" height="14.95" fill="#2e2e98"/>
<rect x="218.57" y="299.15" width="15.03" height="14.95" fill="#000080"/>
<rect x="233.60" y="299.15" width="15.03" height="14.95" fill="#2e2e98"/>
<rect x="248.63" y="299.15" width="15.03" height="14.95" fill="#2e2e98"/>
<rect x="263.66" y="299.15" width="15.03" height="14.95" fill="#4040a0"/>
<rect x="278.69" y="299.15" width="15.03" height="14.95" fill="#37379c"/>
<rect x="293.72" y="299.15" width="15.03" height="14.95" fill="#2e2e98"/>
<rect x="308.75" y="299.15" width="15.03" height="14.95" fill="#2e2e98"/>
<rect x="323.78" y="299.15" width="15.03" height="14.95" fill="#252594"/>
<rect x="338.81" y="299.15" width="15.03" height="14.95" fill="#2e2e98"/>
<rect x="353.84" y="299.15" width="15.03" height="14.95" fill="#2e2e98"/>
<rect x="368.87" y="299.15" width="15.03" height="14.95" fill="#2e2e98"/>
<rect x="383.90" y="299.15" width="15.03" height="14.95" fill="#2e2e98"/>
<rect x="398.93" y="299.15" width="15.03" height="14.95" fill="#2e2e98"/>
<rect x="413.96" y="299.15" width="15.03" height="14.95" fill="#6464ad"/>
<rect x="428.99" y="299.15" width="15.03" height="14.95" fill="#6464ad"/>
<rect x="444.02" y="299.15" width="15.03" height="14.95" fill="#5b5baa"/>
<rect x="459.05" y="299.15" width="15.03" height="14.95" fill="#5b5baa"/>
<rect x="474.08" y="299.15" width="15.03" height="14.95" fill="#6e6eb0"/>
<rect x="489.11" y="299.15" width="15.03" height="14.95" fill="#6464ad"/>
<rect x="504.14" y="299.15" width="15.03" height="14.95" fill="#4949a4"/>
<rect x="519.17" y="299.15" width="15.03" height="14.95" fill="#4040a0"/>
<rect x="534.20" y="299.15" width="15.03" height="14.95" fill="#37379c"/>
<rect x="549.23" y="299.15" width="15.03" height="14.95" fill="#4949a4"/>
<rect x="564.26" y="299.15" width="15.03" height="14.95" fill="#4040a0"/>
<rect x="579.29" y="299.15" width="15.03" height="14.95" fill="#37379c"/>
<rect x="594.32" y="299.15" width="15.03" height="14.95" fill="#4040a0"/>
<rect x="609.35" y="299.15" width="15.03" height="14.95" fill="#5252a7"/>
<rect x="624.38" y="299.15" width="15.03" height="14.95" fill="#8c8cb7"/>
<rect x="639.41" y="299.15" width="15.03" height="14.95" fill="#aaaabc"/>
<rect x="654.44" y="299.15" width="15.03" height="14.95" fill="#aaaabc"/>
<rect x="669.47" y="299.15" width="15.03" height="14.95" fill="#f0f0f0"/>
<rect x="684.50" y="299.15" width="15.03" height="14.95" fill="#e6e6e6"/>
<rect x="699.53" y="299.15" width="15.03" height="14.95" fill="#d2d2d2"/>
<rect x="714.56" y="299.15" width="15.03" height="14.95" fill="#d2d2d2"/>
<rect x="83.30" y="314.10" width="15.03" height="14.95" fill="#2e2e98"/>
<rect x="98.33" y="314.10" width="15.03" height="14.95" fill="#37379c"/>
<rect x="113.36" y="314.10" width="15.03" height="14.95" fill="#37379c"/>
<rect x="128.39" y="314.10" width="15.03" height="14.95" fill="#2e2e98"/>
<rect x="143.42" y="314.10" width="15.03" height="14.95" fill="#2e2e98"/>
<rect x="158.45" y="314.10" width="15.03" height="14.95" fill="#2e2e98"/>
<rect x="173.48" y="314.10" width="15.03" height="14.95" fill="#1c1c8f"/>
<rect x="188.51" y="314.10" width="15.03" height="14.95" fill="#252594"/>
<rect x="203.54" y="314.10" width="15.03" height="14.95" fill="#2e2e98"/>
<rect x="218.57" y="314.10" width="15.03" height="14.95" fill="#2e2e98"/>
<rect x="233.60" y="314.10" width="15.03" height="14.95" fill="#000080"/>
<rect x="248.63" y="314.10" width="15.03" height="14.95" fill="#2e2e98"/>
<rect x="263.66" y="314.10" width="15.03" height="14.95" fill="#2e2e98"/>
<rect x="278.69" y="314.10" width="15.03" height="14.95" fill="#2e2e98"/>
<rect x="293.72" y="314.10" width="15.03" height="14.95" fill="#37379c"/>
<rect x="308.75" y="314.10" width="15.03" height="14.95" fill="#2e2e98"/>
<rect x="323.78" y="314.10" width="15.03" height="14.95" fill="#2e2e98"/>
<rect x="338.81" y="314.10" width="15.03" height="14.95" fill="#1c1c8f"/>
<rect x="353.84" y="314.10" width="15.03" height="14.95" fill="#252594"/>
<rect x="368.87" y="314.10" width="15.03" height="14.95" fill="#2e2e98"/>
<rect x="383.90" y="314.10" width="15.03" height="14.95" fill="#37379c"/>
<rect x="398.93" y="314.10" width="15.03" height="14.95" fill="#2e2e98"/>
<rect x="413.96" y="314.10" width="15.03" height="14.95" fill="#6464ad"/>
<rect x="428.99" y="314.10" width="15.03" height="14.95" fill="#5252a7"/>
<rect x="444.02" y="314.10" width="15.03" height="14.95" fill="#4949a4"/>
<rect x="459.05" y="314.10" width="15.03" height="14.95" fill="#6464ad"/>
<rect x="474.08" y="314.10" width="15.03" height="14.95" fill="#5b5baa"/>
<rect x="489.11" y="314.10" width="15.03" height="14.95" fill="#5252a7"/>
<rect x="504.14" y="314.10" width="15.03" height="14.95" fill="#4040a0"/>
<rect x="519.17" y="314.10" width="15.03" height="14.95" fill="#4040a0"/>
<rect x="534.20" y="314.10" width="15.03" height="14.95" fill="#4949a4"/>
<rect x="549.23" y="314.10" width="15.03" height="14.95" fill="#37379c"/>
<rect x="564.26" y="314.10" width="15.03" height="14.95" fill="#2e2e98"/>
<rect x="579.29" y="314.10" width="15.03" height="14.95" fill="#4040a0"/>
<rect x="594.32" y="314.10" width="15.03" height="14.95" fill="#2e2e98"/>
<rect x="609.35" y="314.10" width="15.03" height="14.95" fill="#5252a7"/>
<rect x="624.38" y="314.10" width="15.03" height="14.95" fill="#8c8cb7"/>
<rect x="639.41" y="314.10" width="15.03" height="14.95" fill="#9696b9"/>
<rect x="654.44" y="314.10" width="15.03" height="14.95" fill="#a0a0bb"/>
<rect x="669.47" y="314.10" width="15.03" height="14.95" fill="#e6e6e6"/>
<rect x="684.50" y="314.10" width="15.03" height="14.95" fill="#e6e6e6"/>
<rect x="699.53" y="314.10" width="15.03" height="14.95" fill="#c8c8c8"/>
<rect x="714.56" y="314.10" width="15.03" height="14.95" fill="#b4b4bd"/>
<rect x="83.30" y="329.05" width="15.03" height="14.95" fill="#2e2e98"/>
<rect x="98.33" y="329.05" width="15.03" height="14.95" fill="#2e2e98"/>
<rect x="113.36" y="329.05" width="15.03" height="14.95" fill="#4040a0"/>
<rect x="128.39" y="329.05" width="15.03" height="14.95" fill="#37379c"/>
<rect x="143.42" y="329.05" width="15.03" height="14.95" fill="#2e2e98"/>
<rect x="158.45" y="329.05" width="15.03" height="14.95" fill="#37379c"/>
<rect x="173.48" y="329.05" width="15.03" height="14.95" fill="#2e2e98"/>
<rect x="188.51" y="329.05" width="15.03" height="14.95" fill="#252594"/>
<rect x="203.54" y="329.05" width="15.03" height="14.95" fill="#2e2e98"/>
<rect x="218.57" y="329.05" width="15.03" height="14.95" fill="#2e2e98"/>
<rect x="233.60" y="329.05" width="15.03" height="14.95" fill="#2e2e98"/>
<rect x="248.63" y="329.05" width="15.03" height="14.95" fill="#000080"/>
<rect x="263.66" y="329.05" width="15.03" height="14.95" fill="#37379c"/>
<rect x="278.69" y="329.05" width="15.03" height="14.95" fill="#2e2e98"/>
<rect x="293.72" y="329.05" width="15.03" height="14.95" fill="#2e2e98"/>
<rect x="308.75" y="329.05" width="15.03" height="14.95" fill="#2e2e98"/>
<rect x="323.78" y="329.05" width="15.03" height="14.95" fill="#252594"/>
<rect x="338.81" y="329.05" width="15.03" height="14.95" fill="#2e2e98"/>
<rect x="353.84" y="329.05" width="15.03" height="14.95" fill="#2e2e98"/>
<rect x="368.87" y="329.05" width="15.03" height="14.95" fill="#252594"/>
<rect x="383.90" y="329.05" width="15.03" height="14.95" fill="#2e2e98"/>
<rect x="398.93" y="329.05" width="15.03" height="14.95" fill="#2e2e98"/>
<rect x="413.96" y="329.05" width="15.03" height="14.95" fill="#5252a7"/>
<rect x="428.99" y="329.05" width="15.03" height="14.95" fill="#5252a7"/>
<rect x="444.02" y="329.05" width="15.03" height="14.95" fill="#4949a4"/>
<rect x="459.05" y="329.05" width="15.03" height="14.95" fill="#5b5baa"/>
<rect x="474.08" y="329.05" width="15.03" height="14.95" fill="#5252a7"/>
<rect x="489.11" y="329.05" width="15.03" height="14.95" fill="#5252a7"/>
<rect x="504.14" y="329.05" width="15.03" height="14.95" fill="#4040a0"/>
<rect x="519.17" y="329.05" width="15.03" height="14.95" fill="#37379c"/>
<rect x="534.20" y="329.05" width="15.03" height="14.95" fill="#252594"/>
<rect x="549.23" y="329.05" width="15.03" height="14.95" fill="#37379c"/>
<rect x="564.26" y="329.05" width="15.03" height="14.95" fill="#2e2e98"/>
<rect x="579.29" y="329.05" width="15.03" height="14.95" fill="#1c1c8f"/>
<rect x="594.32" y="329.05" width="15.03" height="14.95" fill="#37379c"/>
<rect x="609.35" y="329.05" width="15.03" height="14.95" fill="#4949a4"/>
<rect x="624.38" y="329.05" width="15.03" height="14.95" fill="#6464ad"/>
<rect x="639.41" y="329.05" width="15.03" height="14.95" fill="#9696b9"/>
<rect x="654.44" y="329.05" width="15.03" height="14.95" fill="#8c8cb7"/>
<rect x="669.47" y="329.05" width="15.03" height="14.95" fill="#e6e6e6"/>
<rect x="684.50" y="329.05" width="15.03" height="14.95" fill="#e6e6e6"/>
<rect x="699.53" y="329.05" width="15.03" height="14.95" fill="#c8c8c8"/>
<rect x="714.56" y="329.05" width="15.03" height="14.95" fill="#b4b4bd"/>
<rect x="83.30" y="344.00" width="15.03" height="14.95" fill="#37379c"/>
<rect x="98.33" y="344.00" width="15.03" height="14.95" fill="#37379c"/>
<rect x="113.36" y="344.00" width="15.03" height="14.95" fill="#2e2e98"/>
<rect x="128.39" y="344.00" width="15.03" height="14.95" fill="#2e2e98"/>
<rect x="143.42" y="344.00" width="15.03" height="14.95" fill="#2e2e98"/>
<rect x="158.45" y="344.00" width="15.03" height="14.95" fill="#2e2e98"/>
<rect x="173.48" y="344.00" width="15.03" height="14.95" fill="#2e2e98"/>
<rect x="188.51" y="344.00" width="15.03" height="14.95" fill="#37379c"/>
<rect x="203.54" y="344.00" width="15.03" height="14.95" fill="#2e2e98"/>
<rect x="218.57" y="344.00" width="15.03" height="14.95" fill="#4040a0"/>
<rect x="233.60" y="344.00" width="15.03" height="14.95" fill="#37379c"/>
<rect x="248.63" y="344.00" width="15.03" height="14.95" fill="#37379c"/>
<rect x="263.66" y="344.00" width="15.03" height="14.95" fill="#000080"/>
<rect x="278.69" y="344.00" width="15.03" height="14.95" fill="#252594"/>
<rect x="293.72" y="344.00" width="15.03" height="14.95" fill="#2e2e98"/>
<rect x="308.75" y="344.00" width="15.03" height="14.95" fill="#2e2e98"/>
<rect x="323.78" y="344.00" width="15.03" height="14.95" fill="#2e2e98"/>
<rect x="338.81" y="344.00" width="15.03" height="14.95" fill="#2e2e98"/>
<rect x="353.84" y="344.00" width="15.03" height="14.95" fill="#37379c"/>
<rect x="368.87" y="344.00" width="15.03" height="14.95" fill="#37379c"/>
<rect x="383.90" y="344.00" width="15.03" height="14.95" fill="#2e2e98"/>
<rect x="398.93" y="344.00" width="15.03" height="14.95" fill="#2e2e98"/>
<rect x="413.96" y="344.00" width="15.03" height="14.95" fill="#5252a7"/>
<rect x="428.99" y="344.00" width="15.03" height="14.95" fill="#5b5baa"/>
<rect x="444.02" y="344.00" width="15.03" height="14.95" fill="#5252a7"/>
<rect x="459.05" y="344.00" width="15.03" height="14.95" fill="#4949a4"/>
<rect x="474.08" y="344.00" width="15.03" height="14.95" fill="#4949a4"/>
<rect x="489.11" y="344.00" width="15.03" height="14.95" fill="#4949a4"/>
<rect x="504.14" y="344.00" width="15.03" height="14.95" fill="#37379c"/>
<rect x="519.17" y="344.00" width="15.03" height="14.95" fill="#37379c"/>
<rect x="534.20" y="344.00" width="15.03" height="14.95" fill="#4040a0"/>
<rect x="549.23" y="344.00" width="15.03" height="14.95" fill="#2e2e98"/>
<rect x="564.26" y="344.00" width="15.03" height="14.95" fill="#4949a4"/>
<rect x="579.29" y="344.00" width="15.03" height="14.95" fill="#5252a7"/>
<rect x="594.32" y="344.00" width="15.03" height="14.95" fill="#2e2e98"/>
<rect x="609.35" y="344.00" width="15.03" height="14.95" fill="#2e2e98"/>
<rect x="624.38" y="344.00" width="15.03" height="14.95" fill="#8c8cb7"/>
<rect x="639.41" y="344.00" width="15.03" height="14.95" fill="#aaaabc"/>
<rect x="654.44" y="344.00" width="15.03" height="14.95" fill="#aaaabc"/>
<rect x="669.47" y="344.00" width="15.03" height="14.95" fill="#e6e6e6"/>
<rect x="684.50" y="344.00" width="15.03" height="14.95" fill="#e6e6e6"/>
<rect x="699.53" y="344.00" width="15.03" height="14.95" fill="#c8c8c8"/>
<rect x="714.56" y="344.00" width="15.03" height="14.95" fill="#bebebe"/>
<rect x="83.30" y="358.95" width="15.03" height="14.95" fill="#2e2e98"/>
<rect x="98.33" y="358.95" width="15.03" height="14.95" fill="#2e2e98"/>
<rect x="113.36" y="358.95" width="15.03" height="14.95" fill="#2e2e98"/>
<rect x="128.39" y="358.95" width="15.03" height="14.95" fill="#2e2e98"/>
<rect x="143.42" y="358.95" width="15.03" height="14.95" fill="#252594"/>
<rect x="158.45" y="358.95" width="15.03" height="14.95" fill="#2e2e98"/>
<rect x="173.48" y="358.95" width="15.03" height="14.95" fill="#2e2e98"/>
<rect x="188.51" y="358.95" width="15.03" height="14.95" fill="#2e2e98"/>
<rect x="203.54" y="358.95" width="15.03" height="14.95" fill="#252594"/>
<rect x="218.57" y="358.95" width="15.03" height="14.95" fill="#37379c"/>
<rect x="233.60" y="358.95" width="15.03" height="14.95" fill="#2e2e98"/>
<rect x="248.63" y="358.95" width="15.03" height="14.95" fill="#2e2e98"/>
<rect x="263.66" y="358.95" width="15.03" height="14.95" fill="#252594"/>
<rect x="278.69" y="358.95" width="15.03" height="14.95" fill="#000080"/>
<rect x="293.72" y="358.95" width="15.03" height="14.95" fill="#252594"/>
<rect x="308.75" y="358.95" width="15.03" height="14.95" fill="#252594"/>
<rect x="323.78" y="358.95" width="15.03" height="14.95" fill="#2e2e98"/>
<rect x="338.81" y="358.95" width="15.03" height="14.95" fill="#2e2e98"/>
<rect x="353.84" y="358.95" width="15.03" height="14.95" fill="#2e2e98"/>
<rect x="368.87" y="358.95" width="15.03" height="14.95" fill="#2e2e98"/>
<rect x="383.90" y="358.95" width="15.03" height="14.95" fill="#2e2e98"/>
<rect x="398.93" y="358.95" width="15.03" height="14.95" fill="#2e2e98"/>
<rect x="413.96" y="358.95" width="15.03" height="14.95" fill="#4949a4"/>
<rect x="428.99" y="358.95" width="15.03" height="14.95" fill="#5252a7"/>
<rect x="444.02" y="358.95" width="15.03" height="14.95" fill="#5252a7"/>
<rect x="459.05" y="358.95" width="15.03" height="14.95" fill="#4040a0"/>
<rect x="474.08" y="358.95" width="15.03" height="14.95" fill="#4040a0"/>
<rect x="489.11" y="358.95" width="15.03" height="14.95" fill="#4040a0"/>
<rect x="504.14" y="358.95" width="15.03" height="14.95" fill="#2e2e98"/>
<rect x="519.17" y="358.95" width="15.03" height="14.95" fill="#37379c"/>
<rect x="534.20" y="358.95" width="15.03" height="14.95" fill="#2e2e98"/>
<rect x="549.23" y="358.95" width="15.03" height="14.95" fill="#252594"/>
<rect x="564.26" y="358.95" width="15.03" height="14.95" fill="#37379c"/>
<rect x="579.29" y="358.95" width="15.03" height="14.95" fill="#4040a0"/>
<rect x="594.32" y="358.95" width="15.03" height="14.95" fill="#1c1c8f"/>
<rect x="609.35" y="358.95" width="15.03" height="14.95" fill="#4040a0"/>
<rect x="624.38" y="358.95" width="15.03" height="14.95" fill="#8c8cb7"/>
<rect x="639.41" y="358.95" width="15.03" height="14.95" fill="#a0a0bb"/>
<rect x="654.44" y="358.95" width="15.03" height="14.95" fill="#9696b9"/>
<rect x="669.47" y="358.95" width="15.03" height="14.95" fill="#e6e6e6"/>
<rect x="684.50" y="358.95" width="15.03" height="14.95" fill="#e6e6e6"/>
<rect x="699.53" y="358.95" width="15.03" height="14.95" fill="#c8c8c8"/>
<rect x="714.56" y="358.95" width="15.03" height="14.95" fill="#bebebe"/>
<rect x="83.30" y="373.90" width="15.03" height="14.95" fill="#37379c"/>
<rect x="98.33" y="373.90" width="15.03" height="14.95" fill="#2e2e98"/>
<rect x="113.36" y="373.90" width="15.03" height="14.95" fill="#2e2e98"/>
<rect x="128.39" y="373.90" width="15.03" height="14.95" fill="#2e2e98"/>
<rect x="143.42" y="373.90" width="15.03" height="14.95" fill="#2e2e98"/>
<rect x="158.45" y="373.90" width="15.03" height="14.95" fill="#2e2e98"/>
<rect x="173.48" y="373.90" width="15.03" height="14.95" fill="#2e2e98"/>
<rect x="188.51" y="373.90" width="15.03" height="14.95" fill="#2e2e98"/>
<rect x="203.54" y="373.90" width="15.03" height="14.95" fill="#2e2e98"/>
<rect x="218.57" y="373.90" width="15.03" height="14.95" fill="#2e2e98"/>
<rect x="233.60" y="373.90" width="15.03" height="14.95" fill="#37379c"/>
<rect x="248.63" y="373.90" width="15.03" height="14.95" fill="#37379c"/>
<rect x="263.66" y="373.90" width="15.03" height="14.95" fill="#2e2e98"/>
<rect x="278.69" y="373.90" width="15.03" height="14.95" fill="#252594"/>
<rect x="293.72" y="373.90" width="15.03" height="14.95" fill="#000080"/>
<rect x="308.75" y="373.90" width="15.03" height="14.95" fill="#1c1c8f"/>
<rect x="323.78" y="373.90" width="15.03" height="14.95" fill="#2e2e98"/>
<rect x="338.81" y="373.90" width="15.03" height="14.95" fill="#2e2e98"/>
<rect x="353.84" y="373.90" width="15.03" height="14.95" fill="#2e2e98"/>
<rect x="368.87" y="373.90" width="15.03" height="14.95" fill="#2e2e98"/>
<rect x="383.90" y="373.90" width="15.03" height="14.95" fill="#2e2e98"/>
<rect x="398.93" y="373.90" width="15.03" height="14.95" fill="#252594"/>
<rect x="413.96" y="373.90" width="15.03" height="14.95" fill="#5b5baa"/>
<rect x="428.99" y="373.90" width="15.03" height="14.95" fill="#6464ad"/>
<rect x="444.02" y="373.90" width="15.03" height="14.95" fill="#5252a7"/>
<rect x="459.05" y="373.90" width="15.03" height="14.95" fill="#4949a4"/>
<rect x="474.08" y="373.90" width="15.03" height="14.95" fill="#5252a7"/>
<rect x="489.11" y="373.90" width="15.03" height="14.95" fill="#5252a7"/>
<rect x="504.14" y="373.90" width="15.03" height="14.95" fill="#2e2e98"/>
<rect x="519.17" y="373.90" width="15.03" height="14.95" fill="#4040a0"/>
<rect x="534.20" y="373.90" width="15.03" height="14.95" fill="#2e2e98"/>
<rect x="549.23" y="373.90" width="15.03" height="14.95" fill="#4040a0"/>
<rect x="564.26" y="373.90" width="15.03" height="14.95" fill="#4040a0"/>
<rect x="579.29" y="373.90" width="15.03" height="14.95" fill="#5252a7"/>
<rect x="594.32" y="373.90" width="15.03" height="14.95" fill="#1c1c8f"/>
<rect x="609.35" y="373.90" width="15.03" height="14.95" fill="#4949a4"/>
<rect x="624.38" y="373.90" width="15.03" height="14.95" fill="#aaaabc"/>
<rect x="639.41" y="373.90" width="15.03" height="14.95" fill="#aaaabc"/>
<rect x="654.44" y="373.90" width="15.03" height="14.95" fill="#aaaabc"/>
<rect x="669.47" y="373.90" width="15.03" height="14.95" fill="#f0f0f0"/>
<rect x="684.50" y="373.90" width="15.03" height="14.95" fill="#f0f0f0"/>
<rect x="699.53" y="373.90" width="15.03" height="14.95" fill="#c8c8c8"/>
<rect x="714.56" y="373.90" width="15.03" height="14.95" fill="#d2d2d2"/>
<rect x="83.30" y="388.85" width="15.03" height="14.95" fill="#2e2e98"/>
<rect x="98.33" y="388.85" width="15.03" height="14.95" fill="#2e2e98"/>
<rect x="113.36" y="388.85" width="15.03" height="14.95" fill="#252594"/>
<rect x="128.39" y="388.85" width="15.03" height="14.95" fill="#2e2e98"/>
<rect x="143.42" y="388.85" width="15.03" height="14.95" fill="#2e2e98"/>
<rect x="158.45" y="388.85" width="15.03" height="14.95" fill="#252594"/>
<rect x="173.48" y="388.85" width="15.03" height="14.95" fill="#2e2e98"/>
<rect x="188.51" y="388.85" width="15.03" height="14.95" fill="#2e2e98"/>
<rect x="203.54" y="388.85" width="15.03" height="14.95" fill="#252594"/>
<rect x="218.57" y="388.85" width="15.03" height="14.95" fill="#2e2e98"/>
<rect x="233.60" y="388.85" width="15.03" height="14.95" fill="#2e2e98"/>
<rect x="248.63" y="388.85" width="15.03" height="14.95" fill="#2e2e98"/>
<rect x="263.66" y="388.85" width="15.03" height="14.95" fill="#2e2e98"/>
<rect x="278.69" y="388.85" width="15.03" height="14.95" fill="#252594"/>
<rect x="293.72" y="388.85" width="15.03" height="14.95" fill="#1c1c8f"/>
<rect x="308.75" y="388.85" width="15.03" height="14.95" fill="#000080"/>
<rect x="323.78" y="388.85" width="15.03" height="14.95" fill="#2e2e98"/>
<rect x="338.81" y="388.85" width="15.03" height="14.95" fill="#2e2e98"/>
<rect x="353.84" y="388.85" width="15.03" height="14.95" fill="#2e2e98"/>
<rect x="368.87" y="388.85" width="15.03" height="14.95" fill="#2e2e98"/>
<rect x="383.90" y="388.85" width="15.03" height="14.95" fill="#2e2e98"/>
<rect x="398.93" y="388.85" width="15.03" height="14.95" fill="#252594"/>
<rect x="413.96" y="388.85" width="15.03" height="14.95" fill="#5b5baa"/>
<rect x="428.99" y="388.85" width="15.03" height="14.95" fill="#5b5baa"/>
<rect x="444.02" y="388.85" width="15.03" height="14.95" fill="#5252a7"/>
<rect x="459.05" y="388.85" width="15.03" height="14.95" fill="#5252a7"/>
<rect x="474.08" y="388.85" width="15.03" height="14.95" fill="#4949a4"/>
<rect x="489.11" y="388.85" width="15.03" height="14.95" fill="#5252a7"/>
<rect x="504.14" y="388.85" width="15.03" height="14.95" fill="#37379c"/>
<rect x="519.17" y="388.85" width="15.03" height="14.95" fill="#4040a0"/>
<rect x="534.20" y="388.85" width="15.03" height="14.95" fill="#2e2e98"/>
<rect x="549.23" y="388.85" width="15.03" height="14.95" fill="#37379c"/>
<rect x="564.26" y="388.85" width="15.03" height="14.95" fill="#37379c"/>
<rect x="579.29" y="388.85" width="15.03" height="14.95" fill="#4949a4"/>
<rect x="594.32" y="388.85" width="15.03" height="14.95" fill="#13138b"/>
<rect x="609.35" y="388.85" width="15.03" height="14.95" fill="#4949a4"/>
<rect x="624.38" y="388.85" width="15.03" height="14.95" fill="#b4b4bd"/>
<rect x="639.41" y="388.85" width="15.03" height="14.95" fill="#aaaabc"/>
<rect x="654.44" y="388.85" width="15.03" height="14.95" fill="#aaaabc"/>
<rect x="669.47" y="388.85" width="15.03" height="14.95" fill="#f0f0f0"/>
<rect x="684.50" y="388.85" width="15.03" height="14.95" fill="#f0f0f0"/>
<rect x="699.53" y="388.85" width="15.03" height="14.95" fill="#d2d2d2"/>
<rect x="714.56" y="388.85" width="15.03" height="14.95" fill="#d2d2d2"/>
<rect x="83.30" y="403.80" width="15.03" height="14.95" fill="#252594"/>
<rect x="98.33" y="403.80" width="15.03" height="14.95" fill="#252594"/>
<rect x="113.36" y="403.80" width="15.03" height="14.95" fill="#2e2e98"/>
<rect x="128.39" y="403.80" width="15.03" height="14.95" fill="#2e2e98"/>
<rect x="143.42" y="403.80" width="15.03" height="14.95" fill="#2e2e98"/>
<rect x="158.45" y="403.80" width="15.03" height="14.95" fill="#2e2e98"/>
<rect x="173.48" y="403.80" width="15.03" height="14.95" fill="#252594"/>
<rect x="188.51" y="403.80" width="15.03" height="14.95" fill="#2e2e98"/>
<rect x="203.54" y="403.80" width="15.03" height="14.95" fill="#252594"/>
<rect x="218.57" y="403.80" width="15.03" height="14.95" fill="#252594"/>
<rect x="233.60" y="403.80" width="15.03" height="14.95" fill="#2e2e98"/>
<rect x="248.63" y="403.80" width="15.03" height="14.95" fill="#252594"/>
<rect x="263.66" y="403.80" width="15.03" height="14.95" fill="#2e2e98"/>
<rect x="278.69" y="403.80" width="15.03" height="14.95" fill="#252594"/>
<rect x="293.72" y="403.80" width="15.03" height="14.95" fill="#2e2e98"/>
<rect x="308.75" y="403.80" width="15.03" height="14.95" fill="#2e2e98"/>
<rect x="323.78" y="403.80" width="15.03" height="14.95" fill="#000080"/>
<rect x="338.81" y="403.80" width="15.03" height="14.95" fill="#252594"/>
<rect x="353.84" y="403.80" width="15.03" height="14.95" fill="#252594"/>
<rect x="368.87" y="403.80" width="15.03" height="14.95" fill="#252594"/>
<rect x="383.90" y="403.80" width="15.03" height="14.95" fill="#252594"/>
<rect x="398.93" y="403.80" width="15.03" height="14.95" fill="#2e2e98"/>
<rect x="413.96" y="403.80" width="15.03" height="14.95" fill="#5b5baa"/>
<rect x="428.99" y="403.80" width="15.03" height="14.95" fill="#5b5baa"/>
<rect x="444.02" y="403.80" width="15.03" height="14.95" fill="#5252a7"/>
<rect x="459.05" y="403.80" width="15.03" height="14.95" fill="#5252a7"/>
<rect x="474.08" y="403.80" width="15.03" height="14.95" fill="#5252a7"/>
<rect x="489.11" y="403.80" width="15.03" height="14.95" fill="#5252a7"/>
<rect x="504.14" y="403.80" width="15.03" height="14.95" fill="#4040a0"/>
<rect x="519.17" y="403.80" width="15.03" height="14.95" fill="#2e2e98"/>
<rect x="534.20" y="403.80" width="15.03" height="14.95" fill="#37379c"/>
<rect x="549.23" y="403.80" width="15.03" height="14.95" fill="#2e2e98"/>
<rect x="564.26" y="403.80" width="15.03" height="14.95" fill="#2e2e98"/>
<rect x="579.29" y="403.80" width="15.03" height="14.95" fill="#252594"/>
<rect x="594.32" y="403.80" width="15.03" height="14.95" fill="#252594"/>
<rect x="609.35" y="403.80" width="15.03" height="14.95" fill="#4949a4"/>
<rect x="624.38" y="403.80" width="15.03" height="14.95" fill="#8c8cb7"/>
<rect x="639.41" y="403.80" width="15.03" height="14.95" fill="#aaaabc"/>
<rect x="654.44" y="403.80" width="15.03" height="14.95" fill="#aaaabc"/>
<rect x="669.47" y="403.80" width="15.03" height="14.95" fill="#f0f0f0"/>
<rect x="684.50" y="403.80" width="15.03" height="14.95" fill="#e6e6e6"/>
<rect x="699.53" y="403.80" width="15.03" height="14.95" fill="#c8c8c8"/>
<rect x="714.56" y="403.80" width="15.03" height="14.95" fill="#c8c8c8"/>
<rect x="83.30" y="418.75" width="15.03" height="14.95" fill="#2e2e98"/>
<rect x="98.33" y="418.75" width="15.03" height="14.95" fill="#2e2e98"/>
<rect x="113.36" y="418.75" width="15.03" height="14.95" fill="#37379c"/>
<rect x="128.39" y="418.75" width="15.03" height="14.95" fill="#2e2e98"/>
<rect x="143.42" y="418.75" width="15.03" height="14.95" fill="#2e2e98"/>
<rect x="158.45" y="418.75" width="15.03" height="14.95" fill="#2e2e98"/>
<rect x="173.48" y="418.75" width="15.03" height="14.95" fill="#252594"/>
<rect x="188.51" y="418.75" width="15.03" height="14.95" fill="#2e2e98"/>
<rect x="203.54" y="418.75" width="15.03" height="14.95" fill="#2e2e98"/>
<rect x="218.57" y="418.75" width="15.03" height="14.95" fill="#2e2e98"/>
<rect x="233.60" y="418.75" width="15.03" height="14.95" fill="#1c1c8f"/>
<rect x="248.63" y="418.75" width="15.03" height="14.95" fill="#2e2e98"/>
<rect x="263.66" y="418.75" width="15.03" height="14.95" fill="#37379c"/>
<rect x="278.69" y="418.75" width="15.03" height="14.95" fill="#2e2e98"/>
<rect x="293.72" y="418.75" width="15.03" height="14.95" fill="#2e2e98"/>
<rect x="308.75" y="418.75" width="15.03" height="14.95" fill="#2e2e98"/>
<rect x="323.78" y="418.75" width="15.03" height="14.95" fill="#252594"/>
<rect x="338.81" y="418.75" width="15.03" height="14.95" fill="#000080"/>
<rect x="353.84" y="418.75" width="15.03" height="14.95" fill="#252594"/>
<rect x="368.87" y="418.75" width="15.03" height="14.95" fill="#2e2e98"/>
<rect x="383.90" y="418.75" width="15.03" height="14.95" fill="#2e2e98"/>
<rect x="398.93" y="418.75" width="15.03" height="14.95" fill="#2e2e98"/>
<rect x="413.96" y="418.75" width="15.03" height="14.95" fill="#6464ad"/>
<rect x="428.99" y="418.75" width="15.03" height="14.95" fill="#5b5baa"/>
<rect x="444.02" y="418.75" width="15.03" height="14.95" fill="#5252a7"/>
<rect x="459.05" y="418.75" width="15.03" height="14.95" fill="#5b5baa"/>
<rect x="474.08" y="418.75" width="15.03" height="14.95" fill="#5b5baa"/>
<rect x="489.11" y="418.75" width="15.03" height="14.95" fill="#5252a7"/>
<rect x="504.14" y="418.75" width="15.03" height="14.95" fill="#4040a0"/>
<rect x="519.17" y="418.75" width="15.03" height="14.95" fill="#4040a0"/>
<rect x="534.20" y="418.75" width="15.03" height="14.95" fill="#4040a0"/>
<rect x="549.23" y="418.75" width="15.03" height="14.95" fill="#37379c"/>
<rect x="564.26" y="418.75" width="15.03" height="14.95" fill="#2e2e98"/>
<rect x="579.29" y="418.75" width="15.03" height="14.95" fill="#37379c"/>
<rect x="594.32" y="418.75" width="15.03" height="14.95" fill="#252594"/>
<rect x="609.35" y="418.75" width="15.03" height="14.95" fill="#4949a4"/>
<rect x="624.38" y="418.75" width="15.03" height="14.95" fill="#8c8cb7"/>
<rect x="639.41" y="418.75" width="15.03" height="14.95" fill="#aaaabc"/>
<rect x="654.44" y="418.75" width="15.03" height="14.95" fill="#aaaabc"/>
<rect x="669.47" y="418.75" width="15.03" height="14.95" fill="#e6e6e6"/>
<rect x="684.50" y="418.75" width="15.03" height="14.95" fill="#e6e6e6"/>
<rect x="699.53" y="418.75" width="15.03" height="14.95" fill="#c8c8c8"/>
<rect x="714.56" y="418.75" width="15.03" height="14.95" fill="#c8c8c8"/>
<rect x="83.30" y="433.70" width="15.03" height="14.95" fill="#2e2e98"/>
<rect x="98.33" y="433.70" width="15.03" height="14.95" fill="#252594"/>
<rect x="113.36" y="433.70" width="15.03" height="14.95" fill="#37379c"/>
<rect x="128.39" y="433.70" width="15.03" height="14.95" fill="#2e2e98"/>
<rect x="143.42" y="433.70" width="15.03" height="14.95" fill="#2e2e98"/>
<rect x="158.45" y="433.70" width="15.03" height="14.95" fill="#2e2e98"/>
<rect x="173.48" y="433.70" width="15.03" height="14.95" fill="#252594"/>
<rect x="188.51" y="433.70" width="15.03" height="14.95" fill="#252594"/>
<rect x="203.54" y="433.70" width="15.03" height="14.95" fill="#2e2e98"/>
<rect x="218.57" y="433.70" width="15.03" height="14.95" fill="#2e2e98"/>
<rect x="233.60" y="433.70" width="15.03" height="14.95" fill="#252594"/>
<rect x="248.63" y="433.70" width="15.03" height="14.95" fill="#2e2e98"/>
<rect x="263.66" y="433.70" width="15.03" height="14.95" fill="#37379c"/>
<rect x="278.69" y="433.70" width="15.03" height="14.95" fill="#2e2e98"/>
<rect x="293.72" y="433.70" width="15.03" height="14.95" fill="#2e2e98"/>
<rect x="308.75" y="433.70" width="15.03" height="14.95" fill="#2e2e98"/>
<rect x="323.78" y="433.70" width="15.03" height="14.95" fill="#252594"/>
<rect x="338.81" y="433.70" width="15.03" height="14.95" fill="#252594"/>
<rect x="353.84" y="433.70" width="15.03" height="14.95" fill="#000080"/>
<rect x="368.87" y="433.70" width="15.03" height="14.95" fill="#2e2e98"/>
<rect x="383.90" y="433.70" width="15.03" height="14.95" fill="#2e2e98"/>
<rect x="398.93" y="433.70" width="15.03" height="14.95" fill="#2e2e98"/>
<rect x="413.96" y="433.70" width="15.03" height="14.95" fill="#6464ad"/>
<rect x="428.99" y="433.70" width="15.03" height="14.95" fill="#5b5baa"/>
<rect x="444.02" y="433.70" width="15.03" height="14.95" fill="#5252a7"/>
<rect x="459.05" y="433.70" width="15.03" height="14.95" fill="#6464ad"/>
<rect x="474.08" y="433.70" width="15.03" height="14.95" fill="#5b5baa"/>
<rect x="489.11" y="433.70" width="15.03" height="14.95" fill="#5252a7"/>
<rect x="504.14" y="433.70" width="15.03" height="14.95" fill="#4040a0"/>
<rect x="519.17" y="433.70" width="15.03" height="14.95" fill="#4040a0"/>
<rect x="534.20" y="433.70" width="15.03" height="14.95" fill="#252594"/>
<rect x="549.23" y="433.70" width="15.03" height="14.95" fill="#2e2e98"/>
<rect x="564.26" y="433.70" width="15.03" height="14.95" fill="#2e2e98"/>
<rect x="579.29" y="433.70" width="15.03" height="14.95" fill="#252594"/>
<rect x="594.32" y="433.70" width="15.03" height="14.95" fill="#252594"/>
<rect x="609.35" y="433.70" width="15.03" height="14.95" fill="#4040a0"/>
<rect x="624.38" y="433.70" width="15.03" height="14.95" fill="#a0a0bb"/>
<rect x="639.41" y="433.70" width="15.03" height="14.95" fill="#aaaabc"/>
<rect x="654.44" y="433.70" width="15.03" height="14.95" fill="#aaaabc"/>
<rect x="669.47" y="433.70" width="15.03" height="14.95" fill="#e6e6e6"/>
<rect x="684.50" y="433.70" width="15.03" height="14.95" fill="#e6e6e6"/>
<rect x="699.53" y="433.70" width="15.03" height="14.95" fill="#c8c8c8"/>
<rect x="714.56" y="433.70" width="15.03" height="14.95" fill="#c8c8c8"/>
<rect x="83.30" y="448.65" width="15.03" height="14.95" fill="#2e2e98"/>
<rect x="98.33" y="448.65" width="15.03" height="14.95" fill="#2e2e98"/>
<rect x="113.36" y="448.65" width="15.03" height="14.95" fill="#2e2e98"/>
<rect x="128.39" y="448.65" width="15.03" height="14.95" fill="#2e2e98"/>
<rect x="143.42" y="448.65" width="15.03" height="14.95" fill="#2e2e98"/>
<rect x="158.45" y="448.65" width="15.03" height="14.95" fill="#37379c"/>
<rect x="173.48" y="448.65" width="15.03" height="14.95" fill="#2e2e98"/>
<rect x="188.51" y="448.65" width="15.03" height="14.95" fill="#1c1c8f"/>
<rect x="203.54" y="448.65" width="15.03" height="14.95" fill="#252594"/>
<rect x="218.57" y="448.65" width="15.03" height="14.95" fill="#2e2e98"/>
<rect x="233.60" y="448.65" width="15.03" height="14.95" fill="#37379c"/>
<rect x="248.63" y="448.65" width="15.03" height="14.95" fill="#2e2e98"/>
<rect x="263.66" y="448.65" width="15.03" height="14.95" fill="#37379c"/>
<rect x="278.69" y="448.65" width="15.03" height="14.95" fill="#2e2e98"/>
<rect x="293.72" y="448.65" width="15.03" height="14.95" fill="#252594"/>
<rect x="308.75" y="448.65" width="15.03" height="14.95" fill="#2e2e98"/>
<rect x="323.78" y="448.65" width="15.03" height="14.95" fill="#252594"/>
<rect x="338.81" y="448.65" width="15.03" height="14.95" fill="#252594"/>
<rect x="353.84" y="448.65" width="15.03" height="14.95" fill="#252594"/>
<rect x="368.87" y="448.65" width="15.03" height="14.95" fill="#000080"/>
<rect x="383.90" y="448.65" width="15.03" height="14.95" fill="#2e2e98"/>
<rect x="398.93" y="448.65" width="15.03" height="14.95" fill="#2e2e98"/>
<rect x="413.96" y="448.65" width="15.03" height="14.95" fill="#6464ad"/>
<rect x="428.99" y="448.65" width="15.03" height="14.95" fill="#6e6eb0"/>
<rect x="444.02" y="448.65" width="15.03" height="14.95" fill="#5b5baa"/>
<rect x="459.05" y="448.65" width="15.03" height="14.95" fill="#6464ad"/>
<rect x="474.08" y="448.65" width="15.03" height="14.95" fill="#5b5baa"/>
<rect x="489.11" y="448.65" width="15.03" height="14.95" fill="#5b5baa"/>
<rect x="504.14" y="448.65" width="15.03" height="14.95" fill="#4040a0"/>
<rect x="519.17" y="448.65" width="15.03" height="14.95" fill="#37379c"/>
<rect x="534.20" y="448.65" width="15.03" height="14.95" fill="#2e2e98"/>
<rect x="549.23" y="448.65" width="15.03" height="14.95" fill="#2e2e98"/>
<rect x="564.26" y="448.65" width="15.03" height="14.95" fill="#2e2e98"/>
<rect x="579.29" y="448.65" width="15.03" height="14.95" fill="#4040a0"/>
<rect x="594.32" y="448.65" width="15.03" height="14.95" fill="#2e2e98"/>
<rect x="609.35" y="448.65" width="15.03" height="14.95" fill="#4949a4"/>
<rect x="624.38" y="448.65" width="15.03" height="14.95" fill="#9696b9"/>
<rect x="639.41" y="448.65" width="15.03" height="14.95" fill="#aaaabc"/>
<rect x="654.44" y="448.65" width="15.03" height="14.95" fill="#aaaabc"/>
<rect x="669.47" y="448.65" width="15.03" height="14.95" fill="#e6e6e6"/>
<rect x="684.50" y="448.65" width="15.03" height="14.95" fill="#e6e6e6"/>
<rect x="699.53" y="448.65" width="15.03" height="14.95" fill="#c8c8c8"/>
<rect x="714.56" y="448.65" width="15.03" height="14.95" fill="#c8c8c8"/>
<rect x="83.30" y="463.60" width="15.03" height="14.95" fill="#2e2e98"/>
<rect x="98.33" y="463.60" width="15.03" height="14.95" fill="#252594"/>
<rect x="113.36" y="463.60" width="15.03" height="14.95" fill="#2e2e98"/>
<rect x="128.39" y="463.60" width="15.03" height="14.95" fill="#2e2e98"/>
<rect x="143.42" y="463.60" width="15.03" height="14.95" fill="#252594"/>
<rect x="158.45" y="463.60" width="15.03" height="14.95" fill="#2e2e98"/>
<rect x="173.48" y="463.60" width="15.03" height="14.95" fill="#2e2e98"/>
<rect x="188.51" y="463.60" width="15.03" height="14.95" fill="#2e2e98"/>
<rect x="203.54" y="463.60" width="15.03" height="14.95" fill="#252594"/>
<rect x="218.57" y="463.60" width="15.03" height="14.95" fill="#2e2e98"/>
<rect x="233.60" y="463.60" width="15.03" height="14.95" fill="#37379c"/>
<rect x="248.63" y="463.60" width="15.03" height="14.95" fill="#2e2e98"/>
<rect x="263.66" y="463.60" width="15.03" height="14.95" fill="#2e2e98"/>
<rect x="278.69" y="463.60" width="15.03" height="14.95" fill="#252594"/>
<rect x="293.72" y="463.60" width="15.03" height="14.95" fill="#252594"/>
<rect x="308.75" y="463.60" width="15.03" height="14.95" fill="#2e2e98"/>
<rect x="323.78" y="463.60" width="15.03" height="14.95" fill="#252594"/>
<rect x="338.81" y="463.60" width="15.03" height="14.95" fill="#2e2e98"/>
<rect x="353.84" y="463.60" width="15.03" height="14.95" fill="#2e2e98"/>
<rect x="368.87" y="463.60" width="15.03" height="14.95" fill="#2e2e98"/>
<rect x="383.90" y="463.60" width="15.03" height="14.95" fill="#000080"/>
<rect x="398.93" y="463.60" width="15.03" height="14.95" fill="#2e2e98"/>
<rect x="413.96" y="463.60" width="15.03" height="14.95" fill="#5252a7"/>
<rect x="428.99" y="463.60" width="15.03" height="14.95" fill="#6464ad"/>
<rect x="444.02" y="463.60" width="15.03" height="14.95" fill="#6464ad"/>
<rect x="459.05" y="463.60" width="15.03" height="14.95" fill="#5b5baa"/>
<rect x="474.08" y="463.60" width="15.03" height="14.95" fill="#5252a7"/>
<rect x="489.11" y="463.60" width="15.03" height="14.95" fill="#5252a7"/>
<rect x="504.14" y="463.60" width="15.03" height="14.95" fill="#4040a0"/>
<rect x="519.17" y="463.60" width="15.03" height="14.95" fill="#4040a0"/>
<rect x="534.20" y="463.60" width="15.03" height="14.95" fill="#2e2e98"/>
<rect x="549.23" y="463.60" width="15.03" height="14.95" fill="#2e2e98"/>
<rect x="564.26" y="463.60" width="15.03" height="14.95" fill="#37379c"/>
<rect x="579.29" y="463.60" width="15.03" height="14.95" fill="#4040a0"/>
<rect x="594.32" y="463.60" width="15.03" height="14.95" fill="#252594"/>
<rect x="609.35" y="463.60" width="15.03" height="14.95" fill="#4040a0"/>
<rect x="624.38" y="463.60" width="15.03" height="14.95" fill="#9696b9"/>
<rect x="639.41" y="463.60" width="15.03" height="14.95" fill="#b4b4bd"/>
<rect x="654.44" y="463.60" width="15.03" height="14.95" fill="#b4b4bd"/>
<rect x="669.47" y="463.60" width="15.03" height="14.95" fill="#e6e6e6"/>
<rect x="684.50" y="463.60" width="15.03" height="14.95" fill="#e6e6e6"/>
<rect x="699.53" y="463.60" width="15.03" height="14.95" fill="#c8c8c8"/>
<rect x="714.56" y="463.60" width="15.03" height="14.95" fill="#c8c8c8"/>
<rect x="83.30" y="478.55" width="15.03" height="14.95" fill="#2e2e98"/>
<rect x="98.33" y="478.55" width="15.03" height="14.95" fill="#2e2e98"/>
<rect x="113.36" y="478.55" width="15.03" height="14.95" fill="#2e2e98"/>
<rect x="128.39" y="478.55" width="15.03" height="14.95" fill="#2e2e98"/>
<rect x="143.42" y="478.55" width="15.03" height="14.95" fill="#2e2e98"/>
<rect x="158.45" y="478.55" width="15.03" height="14.95" fill="#2e2e98"/>
<rect x="173.48" y="478.55" width="15.03" height="14.95" fill="#252594"/>
<rect x="188.51" y="478.55" width="15.03" height="14.95" fill="#252594"/>
<rect x="203.54" y="478.55" width="15.03" height="14.95" fill="#252594"/>
<rect x="218.57" y="478.55" width="15.03" height="14.95" fill="#2e2e98"/>
<rect x="233.60" y="478.55" width="15.03" height="14.95" fill="#2e2e98"/>
<rect x="248.63" y="478.55" width="15.03" height="14.95" fill="#2e2e98"/>
<rect x="263.66" y="478.55" width="15.03" height="14.95" fill="#2e2e98"/>
<rect x="278.69" y="478.55" width="15.03" height="14.95" fill="#2e2e98"/>
<rect x="293.72" y="478.55" width="15.03" height="14.95" fill="#1c1c8f"/>
<rect x="308.75" y="478.55" width="15.03" height="14.95" fill="#1c1c8f"/>
<rect x="323.78" y="478.55" width="15.03" height="14.95" fill="#252594"/>
<rect x="338.81" y="478.55" width="15.03" height="14.95" fill="#2e2e98"/>
<rect x="353.84" y="478.55" width="15.03" height="14.95" fill="#2e2e98"/>
<rect x="368.87" y="478.55" width="15.03" height="14.95" fill="#252594"/>
<rect x="383.90" y="478.55" width="15.03" height="14.95" fill="#2e2e98"/>
<rect x="398.93" y="478.55" width="15.03" height="14.95" fill="#000080"/>
<rect x="413.96" y="478.55" width="15.03" height="14.95" fill="#5b5baa"/>
<rect x="428.99" y="478.55" width="15.03" height="14.95" fill="#5b5baa"/>
<rect x="444.02" y="478.55" width="15.03" height="14.95" fill="#5252a7"/>
<rect x="459.05" y="478.55" width="15.03" height="14.95" fill="#5252a7"/>
<rect x="474.08" y="478.55" width="15.03" height="14.95" fill="#5252a7"/>
<rect x="489.11" y="478.55" width="15.03" height="14.95" fill="#5252a7"/>
<rect x="504.14" y="478.55" width="15.03" height="14.95" fill="#37379c"/>
<rect x="519.17" y="478.55" width="15.03" height="14.95" fill="#37379c"/>
<rect x="534.20" y="478.55" width="15.03" height="14.95" fill="#252594"/>
<rect x="549.23" y="478.55" width="15.03" height="14.95" fill="#252594"/>
<rect x="564.26" y="478.55" width="15.03" height="14.95" fill="#37379c"/>
<rect x="579.29" y="478.55" width="15.03" height="14.95" fill="#4040a0"/>
<rect x="594.32" y="478.55" width="15.03" height="14.95" fill="#1c1c8f"/>
<rect x="609.35" y="478.55" width="15.03" height="14.95" fill="#4040a0"/>
<rect x="624.38" y="478.55" width="15.03" height="14.95" fill="#9696b9"/>
<rect x="639.41" y="478.55" width="15.03" height="14.95" fill="#aaaabc"/>
<rect x="654.44" y="478.55" width="15.03" height="14.95" fill="#aaaabc"/>
<rect x="669.47" y="478.55" width="15.03" height="14.95" fill="#e6e6e6"/>
<rect x="684.50" y="478.55" width="15.03" height="14.95" fill="#e6e6e6"/>
<rect x="699.53" y="478.55" width="15.03" height="14.95" fill="#c8c8c8"/>
<rect x="714.56" y="478.55" width="15.03" height="14.95" fill="#c8c8c8"/>
<rect x="83.30" y="493.50" width="15.03" height="14.95" fill="#8c8cb7"/>
<rect x="98.33" y="493.50" width="15.03" height="14.95" fill="#8282b5"/>
<rect x="113.36" y="493.50" width="15.03" height="14.95" fill="#9696b9"/>
<rect x="128.39" y="493.50" width="15.03" height="14.95" fill="#9696b9"/>
<rect x="143.42" y="493.50" width="15.03" height="14.95" fill="#8c8cb7"/>
<rect x="158.45" y="493.50" width="15.03" height="14.95" fill="#9696b9"/>
<rect x="173.48" y="493.50" width="15.03" height="14.95" fill="#6e6eb0"/>
<rect x="188.51" y="493.50" width="15.03" height="14.95" fill="#6e6eb0"/>
<rect x="203.54" y="493.50" width="15.03" height="14.95" fill="#6e6eb0"/>
<rect x="218.57" y="493.50" width="15.03" height="14.95" fill="#6464ad"/>
<rect x="233.60" y="493.50" width="15.03" height="14.95" fill="#6464ad"/>
<rect x="248.63" y="493.50" width="15.03" height="14.95" fill="#5252a7"/>
<rect x="263.66" y="493.50" width="15.03" height="14.95" fill="#5252a7"/>
<rect x="278.69" y="493.50" width="15.03" height="14.95" fill="#4949a4"/>
<rect x="293.72" y="493.50" width="15.03" height="14.95" fill="#5b5baa"/>
<rect x="308.75" y="493.50" width="15.03" height="14.95" fill="#5b5baa"/>
<rect x="323.78" y="493.50" width="15.03" height="14.95" fill="#5b5baa"/>
<rect x="338.81" y="493.50" width="15.03" height="14.95" fill="#6464ad"/>
<rect x="353.84" y="493.50" width="15.03" height="14.95" fill="#6464ad"/>
<rect x="368.87" y="493.50" width="15.03" height="14.95" fill="#6464ad"/>
<rect x="383.90" y="493.50" width="15.03" height="14.95" fill="#5252a7"/>
<rect x="398.93" y="493.50" width="15.03" height="14.95" fill="#5b5baa"/>
<rect x="413.96" y="493.50" width="15.03" height="14.95" fill="#000080"/>
<rect x="428.99" y="493.50" width="15.03" height="14.95" fill="#2e2e98"/>
<rect x="444.02" y="493.50" width="15.03" height="14.95" fill="#2e2e98"/>
<rect x="459.05" y="493.50" width="15.03" height="14.95" fill="#252594"/>
<rect x="474.08" y="493.50" width="15.03" height="14.95" fill="#1c1c8f"/>
<rect x="489.11" y="493.50" width="15.03" height="14.95" fill="#252594"/>
<rect x="504.14" y="493.50" width="15.03" height="14.95" fill="#252594"/>
<rect x="519.17" y="493.50" width="15.03" height="14.95" fill="#4040a0"/>
<rect x="534.20" y="493.50" width="15.03" height="14.95" fill="#37379c"/>
<rect x="549.23" y="493.50" width="15.03" height="14.95" fill="#2e2e98"/>
<rect x="564.26" y="493.50" width="15.03" height="14.95" fill="#4040a0"/>
<rect x="579.29" y="493.50" width="15.03" height="14.95" fill="#5252a7"/>
<rect x="594.32" y="493.50" width="15.03" height="14.95" fill="#4949a4"/>
<rect x="609.35" y="493.50" width="15.03" height="14.95" fill="#4040a0"/>
<rect x="624.38" y="493.50" width="15.03" height="14.95" fill="#4040a0"/>
<rect x="639.41" y="493.50" width="15.03" height="14.95" fill="#4040a0"/>
<rect x="654.44" y="493.50" width="15.03" height="14.95" fill="#37379c"/>
<rect x="669.47" y="493.50" width="15.03" height="14.95" fill="#6e6eb0"/>
<rect x="684.50" y="493.50" width="15.03" height="14.95" fill="#5b5baa"/>
<rect x="699.53" y="493.50" width="15.03" height="14.95" fill="#5252a7"/>
<rect x="714.56" y="493.50" width="15.03" height="14.95" fill="#4949a4"/>
<rect x="83.30" y="508.45" width="15.03" height="14.95" fill="#8282b5"/>
<rect x="98.33" y="508.45" width="15.03" height="14.95" fill="#8282b5"/>
<rect x="113.36" y="508.45" width="15.03" height="14.95" fill="#9696b9"/>
<rect x="128.39" y="508.45" width="15.03" height="14.95" fill="#9696b9"/>
<rect x="143.42" y="508.45" width="15.03" height="14.95" fill="#8282b5"/>
<rect x="158.45" y="508.45" width="15.03" height="14.95" fill="#8c8cb7"/>
<rect x="173.48" y="508.45" width="15.03" height="14.95" fill="#6e6eb0"/>
<rect x="188.51" y="508.45" width="15.03" height="14.95" fill="#6464ad"/>
<rect x="203.54" y="508.45" width="15.03" height="14.95" fill="#6464ad"/>
<rect x="218.57" y="508.45" width="15.03" height="14.95" fill="#6464ad"/>
<rect x="233.60" y="508.45" width="15.03" height="14.95" fill="#5252a7"/>
<rect x="248.63" y="508.45" width="15.03" height="14.95" fill="#5252a7"/>
<rect x="263.66" y="508.45" width="15.03" height="14.95" fill="#5b5baa"/>
<rect x="278.69" y="508.45" width="15.03" height="14.95" fill="#5252a7"/>
<rect x="293.72" y="508.45" width="15.03" height="14.95" fill="#6464ad"/>
<rect x="308.75" y="508.45" width="15.03" height="14.95" fill="#5b5baa"/>
<rect x="323.78" y="508.45" width="15.03" height="14.95" fill="#5b5baa"/>
<rect x="338.81" y="508.45" width="15.03" height="14.95" fill="#5b5baa"/>
<rect x="353.84" y="508.45" width="15.03" height="14.95" fill="#5b5baa"/>
<rect x="368.87" y="508.45" width="15.03" height="14.95" fill="#6e6eb0"/>
<rect x="383.90" y="508.45" width="15.03" height="14.95" fill="#6464ad"/>
<rect x="398.93" y="508.45" width="15.03" height="14.95" fill="#5b5baa"/>
<rect x="413.96" y="508.45" width="15.03" height="14.95" fill="#2e2e98"/>
<rect x="428.99" y="508.45" width="15.03" height="14.95" fill="#000080"/>
<rect x="444.02" y="508.45" width="15.03" height="14.95" fill="#1c1c8f"/>
<rect x="459.05" y="508.45" width="15.03" height="14.95" fill="#37379c"/>
<rect x="474.08" y="508.45" width="15.03" height="14.95" fill="#252594"/>
<rect x="489.11" y="508.45" width="15.03" height="14.95" fill="#2e2e98"/>
<rect x="504.14" y="508.45" width="15.03" height="14.95" fill="#37379c"/>
<rect x="519.17" y="508.45" width="15.03" height="14.95" fill="#37379c"/>
<rect x="534.20" y="508.45" width="15.03" height="14.95" fill="#4949a4"/>
<rect x="549.23" y="508.45" width="15.03" height="14.95" fill="#4040a0"/>
<rect x="564.26" y="508.45" width="15.03" height="14.95" fill="#4949a4"/>
<rect x="579.29" y="508.45" width="15.03" height="14.95" fill="#4040a0"/>
<rect x="594.32" y="508.45" width="15.03" height="14.95" fill="#4040a0"/>
<rect x="609.35" y="508.45" width="15.03" height="14.95" fill="#4949a4"/>
<rect x="624.38" y="508.45" width="15.03" height="14.95" fill="#5252a7"/>
<rect x="639.41" y="508.45" width="15.03" height="14.95" fill="#252594"/>
<rect x="654.44" y="508.45" width="15.03" height="14.95" fill="#37379c"/>
<rect x="669.47" y="508.45" width="15.03" height="14.95" fill="#7878b3"/>
<rect x="684.50" y="508.45" width="15.03" height="14.95" fill="#6e6eb0"/>
<rect x="699.53" y="508.45" width="15.03" height="14.95" fill="#5b5baa"/>
<rect x="714.56" y="508.45" width="15.03" height="14.95" fill="#5252a7"/>
<rect x="83.30" y="523.40" width="15.03" height="14.95" fill="#7878b3"/>
<rect x="98.33" y="523.40" width="15.03" height="14.95" fill="#7878b3"/>
<rect x="113.36" y="523.40" width="15.03" height="14.95" fill="#8c8cb7"/>
<rect x="128.39" y="523.40" width="15.03" height="14.95" fill="#8c8cb7"/>
<rect x="143.42" y="523.40" width="15.03" height="14.95" fill="#8282b5"/>
<rect x="158.45" y="523.40" width="15.03" height="14.95" fill="#8282b5"/>
<rect x="173.48" y="523.40" width="15.03" height="14.95" fill="#5b5baa"/>
<rect x="188.51" y="523.40" width="15.03" height="14.95" fill="#6464ad"/>
<rect x="203.54" y="523.40" width="15.03" height="14.95" fill="#6464ad"/>
<rect x="218.57" y="523.40" width="15.03" height="14.95" fill="#5b5baa"/>
<rect x="233.60" y="523.40" width="15.03" height="14.95" fill="#4949a4"/>
<rect x="248.63" y="523.40" width="15.03" height="14.95" fill="#4949a4"/>
<rect x="263.66" y="523.40" width="15.03" height="14.95" fill="#5252a7"/>
<rect x="278.69" y="523.40" width="15.03" height="14.95" fill="#5252a7"/>
<rect x="293.72" y="523.40" width="15.03" height="14.95" fill="#5252a7"/>
<rect x="308.75" y="523.40" width="15.03" height="14.95" fill="#5252a7"/>
<rect x="323.78" y="523.40" width="15.03" height="14.95" fill="#5252a7"/>
<rect x="338.81" y="523.40" width="15.03" height="14.95" fill="#5252a7"/>
<rect x="353.84" y="523.40" width="15.03" height="14.95" fill="#5252a7"/>
<rect x="368.87" y="523.40" width="15.03" height="14.95" fill="#5b5baa"/>
<rect x="383.90" y="523.40" width="15.03" height="14.95" fill="#6464ad"/>
<rect x="398.93" y="523.40" width="15.03" height="14.95" fill="#5252a7"/>
<rect x="413.96" y="523.40" width="15.03" height="14.95" fill="#2e2e98"/>
<rect x="428.99" y="523.40" width="15.03" height="14.95" fill="#1c1c8f"/>
<rect x="444.02" y="523.40" width="15.03" height="14.95" fill="#000080"/>
<rect x="459.05" y="523.40" width="15.03" height="14.95" fill="#2e2e98"/>
<rect x="474.08" y="523.40" width="15.03" height="14.95" fill="#252594"/>
<rect x="489.11" y="523.40" width="15.03" height="14.95" fill="#252594"/>
<rect x="504.14" y="523.40" width="15.03" height="14.95" fill="#2e2e98"/>
<rect x="519.17" y="523.40" width="15.03" height="14.95" fill="#2e2e98"/>
<rect x="534.20" y="523.40" width="15.03" height="14.95" fill="#37379c"/>
<rect x="549.23" y="523.40" width="15.03" height="14.95" fill="#37379c"/>
<rect x="564.26" y="523.40" width="15.03" height="14.95" fill="#4040a0"/>
<rect x="579.29" y="523.40" width="15.03" height="14.95" fill="#37379c"/>
<rect x="594.32" y="523.40" width="15.03" height="14.95" fill="#4040a0"/>
<rect x="609.35" y="523.40" width="15.03" height="14.95" fill="#4949a4"/>
<rect x="624.38" y="523.40" width="15.03" height="14.95" fill="#4040a0"/>
<rect x="639.41" y="523.40" width="15.03" height="14.95" fill="#1c1c8f"/>
<rect x="654.44" y="523.40" width="15.03" height="14.95" fill="#2e2e98"/>
<rect x="669.47" y="523.40" width="15.03" height="14.95" fill="#7878b3"/>
<rect x="684.50" y="523.40" width="15.03" height="14.95" fill="#5b5baa"/>
<rect x="699.53" y="523.40" width="15.03" height="14.95" fill="#5252a7"/>
<rect x="714.56" y="523.40" width="15.03" height="14.95" fill="#37379c"/>
<rect x="83.30" y="538.35" width="15.03" height="14.95" fill="#8282b5"/>
<rect x="98.33" y="538.35" width="15.03" height="14.95" fill="#8282b5"/>
<rect x="113.36" y="538.35" width="15.03" height="14.95" fill="#8282b5"/>
<rect x="128.39" y="538.35" width="15.03" height="14.95" fill="#8c8cb7"/>
<rect x="143.42" y="538.35" width="15.03" height="14.95" fill="#8282b5"/>
<rect x="158.45" y="538.35" width="15.03" height="14.95" fill="#8282b5"/>
<rect x="173.48" y="538.35" width="15.03" height="14.95" fill="#6e6eb0"/>
<rect x="188.51" y="538.35" width="15.03" height="14.95" fill="#6464ad"/>
<rect x="203.54" y="538.35" width="15.03" height="14.95" fill="#6464ad"/>
<rect x="218.57" y="538.35" width="15.03" height="14.95" fill="#5b5baa"/>
<rect x="233.60" y="538.35" width="15.03" height="14.95" fill="#6464ad"/>
<rect x="248.63" y="538.35" width="15.03" height="14.95" fill="#5b5baa"/>
<rect x="263.66" y="538.35" width="15.03" height="14.95" fill="#4949a4"/>
<rect x="278.69" y="538.35" width="15.03" height="14.95" fill="#4040a0"/>
<rect x="293.72" y="538.35" width="15.03" height="14.95" fill="#4949a4"/>
<rect x="308.75" y="538.35" width="15.03" height="14.95" fill="#5252a7"/>
<rect x="323.78" y="538.35" width="15.03" height="14.95" fill="#5252a7"/>
<rect x="338.81" y="538.35" width="15.03" height="14.95" fill="#5b5baa"/>
<rect x="353.84" y="538.35" width="15.03" height="14.95" fill="#6464ad"/>
<rect x="368.87" y="538.35" width="15.03" height="14.95" fill="#6464ad"/>
<rect x="383.90" y="538.35" width="15.03" height="14.95" fill="#5b5baa"/>
<rect x="398.93" y="538.35" width="15.03" height="14.95" fill="#5252a7"/>
<rect x="413.96" y="538.35" width="15.03" height="14.95" fill="#2e2e98"/>
<rect x="428.99" y="538.35" width="15.03" height="14.95" fill="#37379c"/>
<rect x="444.02" y="538.35" width="15.03" height="14.95" fill="#2e2e98"/>
<rect x="459.05" y="538.35" width="15.03" height="14.95" fill="#000080"/>
<rect x="474.08" y="538.35" width="15.03" height="14.95" fill="#252594"/>
<rect x="489.11" y="538.35" width="15.03" height="14.95" fill="#252594"/>
<rect x="504.14" y="538.35" width="15.03" height="14.95" fill="#13138b"/>
<rect x="519.17" y="538.35" width="15.03" height="14.95" fill="#37379c"/>
<rect x="534.20" y="538.35" width="15.03" height="14.95" fill="#37379c"/>
<rect x="549.23" y="538.35" width="15.03" height="14.95" fill="#2e2e98"/>
<rect x="564.26" y="538.35" width="15.03" height="14.95" fill="#5252a7"/>
<rect x="579.29" y="538.35" width="15.03" height="14.95" fill="#5b5baa"/>
<rect x="594.32" y="538.35" width="15.03" height="14.95" fill="#4040a0"/>
<rect x="609.35" y="538.35" width="15.03" height="14.95" fill="#4949a4"/>
<rect x="624.38" y="538.35" width="15.03" height="14.95" fill="#4949a4"/>
<rect x="639.41" y="538.35" width="15.03" height="14.95" fill="#4040a0"/>
<rect x="654.44" y="538.35" width="15.03" height="14.95" fill="#4040a0"/>
<rect x="669.47" y="538.35" width="15.03" height="14.95" fill="#7878b3"/>
<rect x="684.50" y="538.35" width="15.03" height="14.95" fill="#5b5baa"/>
<rect x="699.53" y="538.35" width="15.03" height="14.95" fill="#5252a7"/>
<rect x="714.56" y="538.35" width="15.03" height="14.95" fill="#4949a4"/>
<rect x="83.30" y="553.30" width="15.03" height="14.95" fill="#8282b5"/>
<rect x="98.33" y="553.30" width="15.03" height="14.95" fill="#8282b5"/>
<rect x="113.36" y="553.30" width="15.03" height="14.95" fill="#8c8cb7"/>
<rect x="128.39" y="553.30" width="15.03" height="14.95" fill="#8c8cb7"/>
<rect x="143.42" y="553.30" width="15.03" height="14.95" fill="#6e6eb0"/>
<rect x="158.45" y="553.30" width="15.03" height="14.95" fill="#8282b5"/>
<rect x="173.48" y="553.30" width="15.03" height="14.95" fill="#6464ad"/>
<rect x="188.51" y="553.30" width="15.03" height="14.95" fill="#6464ad"/>
<rect x="203.54" y="553.30" width="15.03" height="14.95" fill="#6464ad"/>
<rect x="218.57" y="553.30" width="15.03" height="14.95" fill="#6e6eb0"/>
<rect x="233.60" y="553.30" width="15.03" height="14.95" fill="#5b5baa"/>
<rect x="248.63" y="553.30" width="15.03" height="14.95" fill="#5252a7"/>
<rect x="263.66" y="553.30" width="15.03" height="14.95" fill="#4949a4"/>
<rect x="278.69" y="553.30" width="15.03" height="14.95" fill="#4040a0"/>
<rect x="293.72" y="553.30" width="15.03" height="14.95" fill="#5252a7"/>
<rect x="308.75" y="553.30" width="15.03" height="14.95" fill="#4949a4"/>
<rect x="323.78" y="553.30" width="15.03" height="14.95" fill="#5252a7"/>
<rect x="338.81" y="553.30" width="15.03" height="14.95" fill="#5b5baa"/>
<rect x="353.84" y="553.30" width="15.03" height="14.95" fill="#5b5baa"/>
<rect x="368.87" y="553.30" width="15.03" height="14.95" fill="#5b5baa"/>
<rect x="383.90" y="553.30" width="15.03" height="14.95" fill="#5252a7"/>
<rect x="398.93" y="553.30" width="15.03" height="14.95" fill="#5252a7"/>
<rect x="413.96" y="553.30" width="15.03" height="14.95" fill="#1c1c8f"/>
<rect x="428.99" y="553.30" width="15.03" height="14.95" fill="#2e2e98"/>
<rect x="444.02" y="553.30" width="15.03" height="14.95" fill="#252594"/>
<rect x="459.05" y="553.30" width="15.03" height="14.95" fill="#252594"/>
<rect x="474.08" y="553.30" width="15.03" height="14.95" fill="#000080"/>
<rect x="489.11" y="553.30" width="15.03" height="14.95" fill="#1c1c8f"/>
<rect x="504.14" y="553.30" width="15.03" height="14.95" fill="#252594"/>
<rect x="519.17" y="553.30" width="15.03" height="14.95" fill="#2e2e98"/>
<rect x="534.20" y="553.30" width="15.03" height="14.95" fill="#37379c"/>
<rect x="549.23" y="553.30" width="15.03" height="14.95" fill="#252594"/>
<rect x="564.26" y="553.30" width="15.03" height="14.95" fill="#4040a0"/>
<rect x="579.29" y="553.30" width="15.03" height="14.95" fill="#5252a7"/>
<rect x="594.32" y="553.30" width="15.03" height="14.95" fill="#37379c"/>
<rect x="609.35" y="553.30" width="15.03" height="14.95" fill="#4040a0"/>
<rect x="624.38" y="553.30" width="15.03" height="14.95" fill="#4949a4"/>
<rect x="639.41" y="553.30" width="15.03" height="14.95" fill="#2e2e98"/>
<rect x="654.44" y="553.30" width="15.03" height="14.95" fill="#4040a0"/>
<rect x="669.47" y="553.30" width="15.03" height="14.95" fill="#6e6eb0"/>
<rect x="684.50" y="553.30" width="15.03" height="14.95" fill="#5b5baa"/>
<rect x="699.53" y="553.30" width="15.03" height="14.95" fill="#5252a7"/>
<rect x="714.56" y="553.30" width="15.03" height="14.95" fill="#4949a4"/>
<rect x="83.30" y="568.25" width="15.03" height="14.95" fill="#7878b3"/>
<rect x="98.33" y="568.25" width="15.03" height="14.95" fill="#8c8cb7"/>
<rect x="113.36" y="568.25" width="15.03" height="14.95" fill="#7878b3"/>
<rect x="128.39" y="568.25" width="15.03" height="14.95" fill="#8c8cb7"/>
<rect x="143.42" y="568.25" width="15.03" height="14.95" fill="#7878b3"/>
<rect x="158.45" y="568.25" width="15.03" height="14.95" fill="#7878b3"/>
<rect x="173.48" y="568.25" width="15.03" height="14.95" fill="#6e6eb0"/>
<rect x="188.51" y="568.25" width="15.03" height="14.95" fill="#6e6eb0"/>
<rect x="203.54" y="568.25" width="15.03" height="14.95" fill="#6464ad"/>
<rect x="218.57" y="568.25" width="15.03" height="14.95" fill="#6464ad"/>
<rect x="233.60" y="568.25" width="15.03" height="14.95" fill="#5252a7"/>
<rect x="248.63" y="568.25" width="15.03" height="14.95" fill="#5252a7"/>
<rect x="263.66" y="568.25" width="15.03" height="14.95" fill="#4949a4"/>
<rect x="278.69" y="568.25" width="15.03" height="14.95" fill="#4040a0"/>
<rect x="293.72" y="568.25" width="15.03" height="14.95" fill="#5252a7"/>
<rect x="308.75" y="568.25" width="15.03" height="14.95" fill="#5252a7"/>
<rect x="323.78" y="568.25" width="15.03" height="14.95" fill="#5252a7"/>
<rect x="338.81" y="568.25" width="15.03" height="14.95" fill="#5252a7"/>
<rect x="353.84" y="568.25" width="15.03" height="14.95" fill="#5252a7"/>
<rect x="368.87" y="568.25" width="15.03" height="14.95" fill="#5b5baa"/>
<rect x="383.90" y="568.25" width="15.03" height="14.95" fill="#5252a7"/>
<rect x="398.93" y="568.25" width="15.03" height="14.95" fill="#5252a7"/>
<rect x="413.96" y="568.25" width="15.03" height="14.95" fill="#2e2e98"/>
<rect x="428.99" y="568.25" width="15.03" height="14.95" fill="#2e2e98"/>
<rect x="444.02" y="568.25" width="15.03" height="14.95" fill="#252594"/>
<rect x="459.05" y="568.25" width="15.03" height="14.95" fill="#252594"/>
<rect x="474.08" y="568.25" width="15.03" height="14.95" fill="#1c1c8f"/>
<rect x="489.11" y="568.25" width="15.03" height="14.95" fill="#000080"/>
<rect x="504.14" y="568.25" width="15.03" height="14.95" fill="#1c1c8f"/>
<rect x="519.17" y="568.25" width="15.03" height="14.95" fill="#37379c"/>
<rect x="534.20" y="568.25" width="15.03" height="14.95" fill="#4040a0"/>
<rect x="549.23" y="568.25" width="15.03" height="14.95" fill="#252594"/>
<rect x="564.26" y="568.25" width="15.03" height="14.95" fill="#4949a4"/>
<rect x="579.29" y="568.25" width="15.03" height="14.95" fill="#5b5baa"/>
<rect x="594.32" y="568.25" width="15.03" height="14.95" fill="#37379c"/>
<rect x="609.35" y="568.25" width="15.03" height="14.95" fill="#4949a4"/>
<rect x="624.38" y="568.25" width="15.03" height="14.95" fill="#4949a4"/>
<rect x="639.41" y="568.25" width="15.03" height="14.95" fill="#37379c"/>
<rect x="654.44" y="568.25" width="15.03" height="14.95" fill="#4040a0"/>
<rect x="669.47" y="568.25" width="15.03" height="14.95" fill="#6e6eb0"/>
<rect x="684.50" y="568.25" width="15.03" height="14.95" fill="#5b5baa"/>
<rect x="699.53" y="568.25" width="15.03" height="14.95" fill="#5252a7"/>
<rect x="714.56" y="568.25" width="15.03" height="14.95" fill="#4949a4"/>
<rect x="83.30" y="583.20" width="15.03" height="14.95" fill="#6464ad"/>
<rect x="98.33" y="583.20" width="15.03" height="14.95" fill="#6464ad"/>
<rect x="113.36" y="583.20" width="15.03" height="14.95" fill="#6464ad"/>
<rect x="128.39" y="583.20" width="15.03" height="14.95" fill="#6e6eb0"/>
<rect x="143.42" y="583.20" width="15.03" height="14.95" fill="#5b5baa"/>
<rect x="158.45" y="583.20" width="15.03" height="14.95" fill="#5b5baa"/>
<rect x="173.48" y="583.20" width="15.03" height="14.95" fill="#5252a7"/>
<rect x="188.51" y="583.20" width="15.03" height="14.95" fill="#5252a7"/>
<rect x="203.54" y="583.20" width="15.03" height="14.95" fill="#5252a7"/>
<rect x="218.57" y="583.20" width="15.03" height="14.95" fill="#4949a4"/>
<rect x="233.60" y="583.20" width="15.03" height="14.95" fill="#4040a0"/>
<rect x="248.63" y="583.20" width="15.03" height="14.95" fill="#4040a0"/>
<rect x="263.66" y="583.20" width="15.03" height="14.95" fill="#37379c"/>
<rect x="278.69" y="583.20" width="15.03" height="14.95" fill="#2e2e98"/>
<rect x="293.72" y="583.20" width="15.03" height="14.95" fill="#2e2e98"/>
<rect x="308.75" y="583.20" width="15.03" height="14.95" fill="#37379c"/>
<rect x="323.78" y="583.20" width="15.03" height="14.95" fill="#4040a0"/>
<rect x="338.81" y="583.20" width="15.03" height="14.95" fill="#4040a0"/>
<rect x="353.84" y="583.20" width="15.03" height="14.95" fill="#4040a0"/>
<rect x="368.87" y="583.20" width="15.03" height="14.95" fill="#4040a0"/>
<rect x="383.90" y="583.20" width="15.03" height="14.95" fill="#4040a0"/>
<rect x="398.93" y="583.20" width="15.03" height="14.95" fill="#37379c"/>
<rect x="413.96" y="583.20" width="15.03" height="14.95" fill="#2e2e98"/>
<rect x="428.99" y="583.20" width="15.03" height="14.95" fill="#37379c"/>
<rect x="444.02" y="583.20" width="15.03" height="14.95" fill="#2e2e98"/>
<rect x="459.05" y="583.20" width="15.03" height="14.95" fill="#1c1c8f"/>
<rect x="474.08" y="583.20" width="15.03" height="14.95" fill="#2e2e98"/>
<rect x="489.11" y="583.20" width="15.03" height="14.95" fill="#252594"/>
<rect x="504.14" y="583.20" width="15.03" height="14.95" fill="#000080"/>
<rect x="519.17" y="583.20" width="15.03" height="14.95" fill="#37379c"/>
<rect x="534.20" y="583.20" width="15.03" height="14.95" fill="#2e2e98"/>
<rect x="549.23" y="583.20" width="15.03" height="14.95" fill="#1c1c8f"/>
<rect x="564.26" y="583.20" width="15.03" height="14.95" fill="#4040a0"/>
<rect x="579.29" y="583.20" width="15.03" height="14.95" fill="#5252a7"/>
<rect x="594.32" y="583.20" width="15.03" height="14.95" fill="#2e2e98"/>
<rect x="609.35" y="583.20" width="15.03" height="14.95" fill="#37379c"/>
<rect x="624.38" y="583.20" width="15.03" height="14.95" fill="#4949a4"/>
<rect x="639.41" y="583.20" width="15.03" height="14.95" fill="#4949a4"/>
<rect x="654.44" y="583.20" width="15.03" height="14.95" fill="#5252a7"/>
<rect x="669.47" y="583.20" width="15.03" height="14.95" fill="#9696b9"/>
<rect x="684.50" y="583.20" width="15.03" height="14.95" fill="#8c8cb7"/>
<rect x="699.53" y="583.20" width="15.03" height="14.95" fill="#6e6eb0"/>
<rect x="714.56" y="583.20" width="15.03" height="14.95" fill="#5b5baa"/>
<rect x="83.30" y="598.15" width="15.03" height="14.95" fill="#4949a4"/>
<rect x="98.33" y="598.15" width="15.03" height="14.95" fill="#5252a7"/>
<rect x="113.36" y="598.15" width="15.03" height="14.95" fill="#5b5baa"/>
<rect x="128.39" y="598.15" width="15.03" height="14.95" fill="#5b5baa"/>
<rect x="143.42" y="598.15" width="15.03" height="14.95" fill="#5252a7"/>
<rect x="158.45" y="598.15" width="15.03" height="14.95" fill="#5252a7"/>
<rect x="173.48" y="598.15" width="15.03" height="14.95" fill="#4040a0"/>
<rect x="188.51" y="598.15" width="15.03" height="14.95" fill="#37379c"/>
<rect x="203.54" y="598.15" width="15.03" height="14.95" fill="#37379c"/>
<rect x="218.57" y="598.15" width="15.03" height="14.95" fill="#4040a0"/>
<rect x="233.60" y="598.15" width="15.03" height="14.95" fill="#4040a0"/>
<rect x="248.63" y="598.15" width="15.03" height="14.95" fill="#37379c"/>
<rect x="263.66" y="598.15" width="15.03" height="14.95" fill="#37379c"/>
<rect x="278.69" y="598.15" width="15.03" height="14.95" fill="#37379c"/>
<rect x="293.72" y="598.15" width="15.03" height="14.95" fill="#4040a0"/>
<rect x="308.75" y="598.15" width="15.03" height="14.95" fill="#4040a0"/>
<rect x="323.78" y="598.15" width="15.03" height="14.95" fill="#2e2e98"/>
<rect x="338.81" y="598.15" width="15.03" height="14.95" fill="#4040a0"/>
<rect x="353.84" y="598.15" width="15.03" height="14.95" fill="#4040a0"/>
<rect x="368.87" y="598.15" width="15.03" height="14.95" fill="#37379c"/>
<rect x="383.90" y="598.15" width="15.03" height="14.95" fill="#4040a0"/>
<rect x="398.93" y="598.15" width="15.03" height="14.95" fill="#37379c"/>
<rect x="413.96" y="598.15" width="15.03" height="14.95" fill="#4040a0"/>
<rect x="428.99" y="598.15" width="15.03" height="14.95" fill="#4040a0"/>
<rect x="444.02" y="598.15" width="15.03" height="14.95" fill="#2e2e98"/>
<rect x="459.05" y="598.15" width="15.03" height="14.95" fill="#37379c"/>
<rect x="474.08" y="598.15" width="15.03" height="14.95" fill="#2e2e98"/>
<rect x="489.11" y="598.15" width="15.03" height="14.95" fill="#2e2e98"/>
<rect x="504.14" y="598.15" width="15.03" height="14.95" fill="#37379c"/>
<rect x="519.17" y="598.15" width="15.03" height="14.95" fill="#000080"/>
<rect x="534.20" y="598.15" width="15.03" height="14.95" fill="#2e2e98"/>
<rect x="549.23" y="598.15" width="15.03" height="14.95" fill="#37379c"/>
<rect x="564.26" y="598.15" width="15.03" height="14.95" fill="#37379c"/>
<rect x="579.29" y="598.15" width="15.03" height="14.95" fill="#4040a0"/>
<rect x="594.32" y="598.15" width="15.03" height="14.95" fill="#2e2e98"/>
<rect x="609.35" y="598.15" width="15.03" height="14.95" fill="#4040a0"/>
<rect x="624.38" y="598.15" width="15.03" height="14.95" fill="#5252a7"/>
<rect x="639.41" y="598.15" width="15.03" height="14.95" fill="#5252a7"/>
<rect x="654.44" y="598.15" width="15.03" height="14.95" fill="#5252a7"/>
<rect x="669.47" y="598.15" width="15.03" height="14.95" fill="#bebebe"/>
<rect x="684.50" y="598.15" width="15.03" height="14.95" fill="#b4b4bd"/>
<rect x="699.53" y="598.15" width="15.03" height="14.95" fill="#8282b5"/>
<rect x="714.56" y="598.15" width="15.03" height="14.95" fill="#6e6eb0"/>
<rect x="83.30" y="613.10" width="15.03" height="14.95" fill="#4949a4"/>
<rect x="98.33" y="613.10" width="15.03" height="14.95" fill="#4949a4"/>
<rect x="113.36" y="613.10" width="15.03" height="14.95" fill="#5252a7"/>
<rect x="128.39" y="613.10" width="15.03" height="14.95" fill="#5252a7"/>
<rect x="143.42" y="613.10" width="15.03" height="14.95" fill="#4949a4"/>
<rect x="158.45" y="613.10" width="15.03" height="14.95" fill="#4949a4"/>
<rect x="173.48" y="613.10" width="15.03" height="14.95" fill="#4040a0"/>
<rect x="188.51" y="613.10" width="15.03" height="14.95" fill="#37379c"/>
<rect x="203.54" y="613.10" width="15.03" height="14.95" fill="#37379c"/>
<rect x="218.57" y="613.10" width="15.03" height="14.95" fill="#37379c"/>
<rect x="233.60" y="613.10" width="15.03" height="14.95" fill="#4949a4"/>
<rect x="248.63" y="613.10" width="15.03" height="14.95" fill="#252594"/>
<rect x="263.66" y="613.10" width="15.03" height="14.95" fill="#4040a0"/>
<rect x="278.69" y="613.10" width="15.03" height="14.95" fill="#2e2e98"/>
<rect x="293.72" y="613.10" width="15.03" height="14.95" fill="#2e2e98"/>
<rect x="308.75" y="613.10" width="15.03" height="14.95" fill="#2e2e98"/>
<rect x="323.78" y="613.10" width="15.03" height="14.95" fill="#37379c"/>
<rect x="338.81" y="613.10" width="15.03" height="14.95" fill="#4040a0"/>
<rect x="353.84" y="613.10" width="15.03" height="14.95" fill="#252594"/>
<rect x="368.87" y="613.10" width="15.03" height="14.95" fill="#2e2e98"/>
<rect x="383.90" y="613.10" width="15.03" height="14.95" fill="#2e2e98"/>
<rect x="398.93" y="613.10" width="15.03" height="14.95" fill="#252594"/>
<rect x="413.96" y="613.10" width="15.03" height="14.95" fill="#4040a0"/>
<rect x="428.99" y="613.10" width="15.03" height="14.95" fill="#4949a4"/>
<rect x="444.02" y="613.10" width="15.03" height="14.95" fill="#37379c"/>
<rect x="459.05" y="613.10" width="15.03" height="14.95" fill="#37379c"/>
<rect x="474.08" y="613.10" width="15.03" height="14.95" fill="#2e2e98"/>
<rect x="489.11" y="613.10" width="15.03" height="14.95" fill="#4040a0"/>
<rect x="504.14" y="613.10" width="15.03" height="14.95" fill="#2e2e98"/>
<rect x="519.17" y="613.10" width="15.03" height="14.95" fill="#2e2e98"/>
<rect x="534.20" y="613.10" width="15.03" height="14.95" fill="#000080"/>
<rect x="549.23" y="613.10" width="15.03" height="14.95" fill="#252594"/>
<rect x="564.26" y="613.10" width="15.03" height="14.95" fill="#252594"/>
<rect x="579.29" y="613.10" width="15.03" height="14.95" fill="#2e2e98"/>
<rect x="594.32" y="613.10" width="15.03" height="14.95" fill="#2e2e98"/>
<rect x="609.35" y="613.10" width="15.03" height="14.95" fill="#4040a0"/>
<rect x="624.38" y="613.10" width="15.03" height="14.95" fill="#6464ad"/>
<rect x="639.41" y="613.10" width="15.03" height="14.95" fill="#6464ad"/>
<rect x="654.44" y="613.10" width="15.03" height="14.95" fill="#6464ad"/>
<rect x="669.47" y="613.10" width="15.03" height="14.95" fill="#d2d2d2"/>
<rect x="684.50" y="613.10" width="15.03" height="14.95" fill="#dcdcdc"/>
<rect x="699.53" y="613.10" width="15.03" height="14.95" fill="#8c8cb7"/>
<rect x="714.56" y="613.10" width="15.03" height="14.95" fill="#8c8cb7"/>
<rect x="83.30" y="628.05" width="15.03" height="14.95" fill="#5252a7"/>
<rect x="98.33" y="628.05" width="15.03" height="14.95" fill="#5252a7"/>
<rect x="113.36" y="628.05" width="15.03" height="14.95" fill="#5252a7"/>
<rect x="128.39" y="628.05" width="15.03" height="14.95" fill="#4040a0"/>
<rect x="143.42" y="628.05" width="15.03" height="14.95" fill="#4949a4"/>
<rect x="158.45" y="628.05" width="15.03" height="14.95" fill="#5252a7"/>
<rect x="173.48" y="628.05" width="15.03" height="14.95" fill="#37379c"/>
<rect x="188.51" y="628.05" width="15.03" height="14.95" fill="#4949a4"/>
<rect x="203.54" y="628.05" width="15.03" height="14.95" fill="#4040a0"/>
<rect x="218.57" y="628.05" width="15.03" height="14.95" fill="#4949a4"/>
<rect x="233.60" y="628.05" width="15.03" height="14.95" fill="#37379c"/>
<rect x="248.63" y="628.05" width="15.03" height="14.95" fill="#37379c"/>
<rect x="263.66" y="628.05" width="15.03" height="14.95" fill="#2e2e98"/>
<rect x="278.69" y="628.05" width="15.03" height="14.95" fill="#252594"/>
<rect x="293.72" y="628.05" width="15.03" height="14.95" fill="#4040a0"/>
<rect x="308.75" y="628.05" width="15.03" height="14.95" fill="#37379c"/>
<rect x="323.78" y="628.05" width="15.03" height="14.95" fill="#2e2e98"/>
<rect x="338.81" y="628.05" width="15.03" height="14.95" fill="#37379c"/>
<rect x="353.84" y="628.05" width="15.03" height="14.95" fill="#2e2e98"/>
<rect x="368.87" y="628.05" width="15.03" height="14.95" fill="#2e2e98"/>
<rect x="383.90" y="628.05" width="15.03" height="14.95" fill="#2e2e98"/>
<rect x="398.93" y="628.05" width="15.03" height="14.95" fill="#252594"/>
<rect x="413.96" y="628.05" width="15.03" height="14.95" fill="#2e2e98"/>
<rect x="428.99" y="628.05" width="15.03" height="14.95" fill="#4040a0"/>
<rect x="444.02" y="628.05" width="15.03" height="14.95" fill="#37379c"/>
<rect x="459.05" y="628.05" width="15.03" height="14.95" fill="#2e2e98"/>
<rect x="474.08" y="628.05" width="15.03" height="14.95" fill="#252594"/>
<rect x="489.11" y="628.05" width="15.03" height="14.95" fill="#252594"/>
<rect x="504.14" y="628.05" width="15.03" height="14.95" fill="#1c1c8f"/>
<rect x="519.17" y="628.05" width="15.03" height="14.95" fill="#37379c"/>
<rect x="534.20" y="628.05" width="15.03" height="14.95" fill="#252594"/>
<rect x="549.23" y="628.05" width="15.03" height="14.95" fill="#000080"/>
<rect x="564.26" y="628.05" width="15.03" height="14.95" fill="#252594"/>
<rect x="579.29" y="628.05" width="15.03" height="14.95" fill="#4040a0"/>
<rect x="594.32" y="628.05" width="15.03" height="14.95" fill="#252594"/>
<rect x="609.35" y="628.05" width="15.03" height="14.95" fill="#2e2e98"/>
<rect x="624.38" y="628.05" width="15.03" height="14.95" fill="#5b5baa"/>
<rect x="639.41" y="628.05" width="15.03" height="14.95" fill="#6464ad"/>
<rect x="654.44" y="628.05" width="15.03" height="14.95" fill="#6464ad"/>
<rect x="669.47" y="628.05" width="15.03" height="14.95" fill="#d2d2d2"/>
<rect x="684.50" y="628.05" width="15.03" height="14.95" fill="#c8c8c8"/>
<rect x="699.53" y="628.05" width="15.03" height="14.95" fill="#8282b5"/>
<rect x="714.56" y="628.05" width="15.03" height="14.95" fill="#8282b5"/>
<rect x="83.30" y="643.00" width="15.03" height="14.95" fill="#5252a7"/>
<rect x="98.33" y="643.00" width="15.03" height="14.95" fill="#4949a4"/>
<rect x="113.36" y="643.00" width="15.03" height="14.95" fill="#6464ad"/>
<rect x="128.39" y="643.00" width="15.03" height="14.95" fill="#4040a0"/>
<rect x="143.42" y="643.00" width="15.03" height="14.95" fill="#5252a7"/>
<rect x="158.45" y="643.00" width="15.03" height="14.95" fill="#5b5baa"/>
<rect x="173.48" y="643.00" width="15.03" height="14.95" fill="#4040a0"/>
<rect x="188.51" y="643.00" width="15.03" height="14.95" fill="#37379c"/>
<rect x="203.54" y="643.00" width="15.03" height="14.95" fill="#2e2e98"/>
<rect x="218.57" y="643.00" width="15.03" height="14.95" fill="#4040a0"/>
<rect x="233.60" y="643.00" width="15.03" height="14.95" fill="#2e2e98"/>
<rect x="248.63" y="643.00" width="15.03" height="14.95" fill="#2e2e98"/>
<rect x="263.66" y="643.00" width="15.03" height="14.95" fill="#4949a4"/>
<rect x="278.69" y="643.00" width="15.03" height="14.95" fill="#37379c"/>
<rect x="293.72" y="643.00" width="15.03" height="14.95" fill="#4040a0"/>
<rect x="308.75" y="643.00" width="15.03" height="14.95" fill="#37379c"/>
<rect x="323.78" y="643.00" width="15.03" height="14.95" fill="#2e2e98"/>
<rect x="338.81" y="643.00" width="15.03" height="14.95" fill="#2e2e98"/>
<rect x="353.84" y="643.00" width="15.03" height="14.95" fill="#2e2e98"/>
<rect x="368.87" y="643.00" width="15.03" height="14.95" fill="#2e2e98"/>
<rect x="383.90" y="643.00" width="15.03" height="14.95" fill="#37379c"/>
<rect x="398.93" y="643.00" width="15.03" height="14.95" fill="#37379c"/>
<rect x="413.96" y="643.00" width="15.03" height="14.95" fill="#4040a0"/>
<rect x="428.99" y="643.00" width="15.03" height="14.95" fill="#4949a4"/>
<rect x="444.02" y="643.00" width="15.03" height="14.95" fill="#4040a0"/>
<rect x="459.05" y="643.00" width="15.03" height="14.95" fill="#4949a4"/>
<rect x="474.08" y="643.00" width="15.03" height="14.95" fill="#4040a0"/>
<rect x="489.11" y="643.00" width="15.03" height="14.95" fill="#4949a4"/>
<rect x="504.14" y="643.00" width="15.03" height="14.95" fill="#4040a0"/>
<rect x="519.17" y="643.00" width="15.03" height="14.95" fill="#37379c"/>
<rect x="534.20" y="643.00" width="15.03" height="14.95" fill="#252594"/>
<rect x="549.23" y="643.00" width="15.03" height="14.95" fill="#252594"/>
<rect x="564.26" y="643.00" width="15.03" height="14.95" fill="#000080"/>
<rect x="579.29" y="643.00" width="15.03" height="14.95" fill="#252594"/>
<rect x="594.32" y="643.00" width="15.03" height="14.95" fill="#2e2e98"/>
<rect x="609.35" y="643.00" width="15.03" height="14.95" fill="#4949a4"/>
<rect x="624.38" y="643.00" width="15.03" height="14.95" fill="#6464ad"/>
<rect x="639.41" y="643.00" width="15.03" height="14.95" fill="#6e6eb0"/>
<rect x="654.44" y="643.00" width="15.03" height="14.95" fill="#6464ad"/>
<rect x="669.47" y="643.00" width="15.03" height="14.95" fill="#dcdcdc"/>
<rect x="684.50" y="643.00" width="15.03" height="14.95" fill="#dcdcdc"/>
<rect x="699.53" y="643.00" width="15.03" height="14.95" fill="#aaaabc"/>
<rect x="714.56" y="643.00" width="15.03" height="14.95" fill="#aaaabc"/>
<rect x="83.30" y="657.95" width="15.03" height="14.95" fill="#4949a4"/>
<rect x="98.33" y="657.95" width="15.03" height="14.95" fill="#4949a4"/>
<rect x="113.36" y="657.95" width="15.03" height="14.95" fill="#6e6eb0"/>
<rect x="128.39" y="657.95" width="15.03" height="14.95" fill="#5b5baa"/>
<rect x="143.42" y="657.95" width="15.03" height="14.95" fill="#5b5baa"/>
<rect x="158.45" y="657.95" width="15.03" height="14.95" fill="#6e6eb0"/>
<rect x="173.48" y="657.95" width="15.03" height="14.95" fill="#4040a0"/>
<rect x="188.51" y="657.95" width="15.03" height="14.95" fill="#4040a0"/>
<rect x="203.54" y="657.95" width="15.03" height="14.95" fill="#37379c"/>
<rect x="218.57" y="657.95" width="15.03" height="14.95" fill="#37379c"/>
<rect x="233.60" y="657.95" width="15.03" height="14.95" fill="#4040a0"/>
<rect x="248.63" y="657.95" width="15.03" height="14.95" fill="#1c1c8f"/>
<rect x="263.66" y="657.95" width="15.03" height="14.95" fill="#5252a7"/>
<rect x="278.69" y="657.95" width="15.03" height="14.95" fill="#4040a0"/>
<rect x="293.72" y="657.95" width="15.03" height="14.95" fill="#5252a7"/>
<rect x="308.75" y="657.95" width="15.03" height="14.95" fill="#4949a4"/>
<rect x="323.78" y="657.95" width="15.03" height="14.95" fill="#252594"/>
<rect x="338.81" y="657.95" width="15.03" height="14.95" fill="#37379c"/>
<rect x="353.84" y="657.95" width="15.03" height="14.95" fill="#252594"/>
<rect x="368.87" y="657.95" width="15.03" height="14.95" fill="#4040a0"/>
<rect x="383.90" y="657.95" width="15.03" height="14.95" fill="#4040a0"/>
<rect x="398.93" y="657.95" width="15.03" height="14.95" fill="#4040a0"/>
<rect x="413.96" y="657.95" width="15.03" height="14.95" fill="#5252a7"/>
<rect x="428.99" y="657.95" width="15.03" height="14.95" fill="#4040a0"/>
<rect x="444.02" y="657.95" width="15.03" height="14.95" fill="#37379c"/>
<rect x="459.05" y="657.95" width="15.03" height="14.95" fill="#5b5baa"/>
<rect x="474.08" y="657.95" width="15.03" height="14.95" fill="#5252a7"/>
<rect x="489.11" y="657.95" width="15.03" height="14.95" fill="#5b5baa"/>
<rect x="504.14" y="657.95" width="15.03" height="14.95" fill="#5252a7"/>
<rect x="519.17" y="657.95" width="15.03" height="14.95" fill="#4040a0"/>
<rect x="534.20" y="657.95" width="15.03" height="14.95" fill="#2e2e98"/>
<rect x="549.23" y="657.95" width="15.03" height="14.95" fill="#4040a0"/>
<rect x="564.26" y="657.95" width="15.03" height="14.95" fill="#2e2e98"/>
<rect x="579.29" y="657.95" width="15.03" height="14.95" fill="#000080"/>
<rect x="594.32" y="657.95" width="15.03" height="14.95" fill="#4040a0"/>
<rect x="609.35" y="657.95" width="15.03" height="14.95" fill="#5252a7"/>
<rect x="624.38" y="657.95" width="15.03" height="14.95" fill="#5b5baa"/>
<rect x="639.41" y="657.95" width="15.03" height="14.95" fill="#6e6eb0"/>
<rect x="654.44" y="657.95" width="15.03" height="14.95" fill="#6e6eb0"/>
<rect x="669.47" y="657.95" width="15.03" height="14.95" fill="#dcdcdc"/>
<rect x="684.50" y="657.95" width="15.03" height="14.95" fill="#d2d2d2"/>
<rect x="699.53" y="657.95" width="15.03" height="14.95" fill="#c8c8c8"/>
<rect x="714.56" y="657.95" width="15.03" height="14.95" fill="#b4b4bd"/>
<rect x="83.30" y="672.90" width="15.03" height="14.95" fill="#37379c"/>
<rect x="98.33" y="672.90" width="15.03" height="14.95" fill="#4040a0"/>
<rect x="113.36" y="672.90" width="15.03" height="14.95" fill="#4949a4"/>
<rect x="128.39" y="672.90" width="15.03" height="14.95" fill="#4040a0"/>
<rect x="143.42" y="672.90" width="15.03" height="14.95" fill="#2e2e98"/>
<rect x="158.45" y="672.90" width="15.03" height="14.95" fill="#252594"/>
<rect x="173.48" y="672.90" width="15.03" height="14.95" fill="#2e2e98"/>
<rect x="188.51" y="672.90" width="15.03" height="14.95" fill="#2e2e98"/>
<rect x="203.54" y="672.90" width="15.03" height="14.95" fill="#2e2e98"/>
<rect x="218.57" y="672.90" width="15.03" height="14.95" fill="#4040a0"/>
<rect x="233.60" y="672.90" width="15.03" height="14.95" fill="#2e2e98"/>
<rect x="248.63" y="672.90" width="15.03" height="14.95" fill="#37379c"/>
<rect x="263.66" y="672.90" width="15.03" height="14.95" fill="#2e2e98"/>
<rect x="278.69" y="672.90" width="15.03" height="14.95" fill="#1c1c8f"/>
<rect x="293.72" y="672.90" width="15.03" height="14.95" fill="#1c1c8f"/>
<rect x="308.75" y="672.90" width="15.03" height="14.95" fill="#13138b"/>
<rect x="323.78" y="672.90" width="15.03" height="14.95" fill="#252594"/>
<rect x="338.81" y="672.90" width="15.03" height="14.95" fill="#252594"/>
<rect x="353.84" y="672.90" width="15.03" height="14.95" fill="#252594"/>
<rect x="368.87" y="672.90" width="15.03" height="14.95" fill="#2e2e98"/>
<rect x="383.90" y="672.90" width="15.03" height="14.95" fill="#252594"/>
<rect x="398.93" y="672.90" width="15.03" height="14.95" fill="#1c1c8f"/>
<rect x="413.96" y="672.90" width="15.03" height="14.95" fill="#5252a7"/>
<rect x="428.99" y="672.90" width="15.03" height="14.95" fill="#4040a0"/>
<rect x="444.02" y="672.90" width="15.03" height="14.95" fill="#4040a0"/>
<rect x="459.05" y="672.90" width="15.03" height="14.95" fill="#4040a0"/>
<rect x="474.08" y="672.90" width="15.03" height="14.95" fill="#37379c"/>
<rect x="489.11" y="672.90" width="15.03" height="14.95" fill="#37379c"/>
<rect x="504.14" y="672.90" width="15.03" height="14.95" fill="#2e2e98"/>
<rect x="519.17" y="672.90" width="15.03" height="14.95" fill="#2e2e98"/>
<rect x="534.20" y="672.90" width="15.03" height="14.95" fill="#252594"/>
<rect x="549.23" y="672.90" width="15.03" height="14.95" fill="#252594"/>
<rect x="564.26" y="672.90" width="15.03" height="14.95" fill="#2e2e98"/>
<rect x="579.29" y="672.90" width="15.03" height="14.95" fill="#4040a0"/>
<rect x="594.32" y="672.90" width="15.03" height="14.95" fill="#000080"/>
<rect x="609.35" y="672.90" width="15.03" height="14.95" fill="#2e2e98"/>
<rect x="624.38" y="672.90" width="15.03" height="14.95" fill="#7878b3"/>
<rect x="639.41" y="672.90" width="15.03" height="14.95" fill="#6e6eb0"/>
<rect x="654.44" y="672.90" width="15.03" height="14.95" fill="#7878b3"/>
<rect x="669.47" y="672.90" width="15.03" height="14.95" fill="#d2d2d2"/>
<rect x="684.50" y="672.90" width="15.03" height="14.95" fill="#d2d2d2"/>
<rect x="699.53" y="672.90" width="15.03" height="14.95" fill="#a0a0bb"/>
<rect x="714.56" y="672.90" width="15.03" height="14.95" fill="#aaaabc"/>
<rect x="83.30" y="687.85" width="15.03" height="14.95" fill="#5b5baa"/>
<rect x="98.33" y="687.85" width="15.03" height="14.95" fill="#5b5baa"/>
<rect x="113.36" y="687.85" width="15.03" height="14.95" fill="#5b5baa"/>
<rect x="128.39" y="687.85" width="15.03" height="14.95" fill="#6464ad"/>
<rect x="143.42" y="687.85" width="15.03" height="14.95" fill="#5252a7"/>
<rect x="158.45" y="687.85" width="15.03" height="14.95" fill="#5b5baa"/>
<rect x="173.48" y="687.85" width="15.03" height="14.95" fill="#5252a7"/>
<rect x="188.51" y="687.85" width="15.03" height="14.95" fill="#5252a7"/>
<rect x="203.54" y="687.85" width="15.03" height="14.95" fill="#5252a7"/>
<rect x="218.57" y="687.85" width="15.03" height="14.95" fill="#5252a7"/>
<rect x="233.60" y="687.85" width="15.03" height="14.95" fill="#5252a7"/>
<rect x="248.63" y="687.85" width="15.03" height="14.95" fill="#4949a4"/>
<rect x="263.66" y="687.85" width="15.03" height="14.95" fill="#2e2e98"/>
<rect x="278.69" y="687.85" width="15.03" height="14.95" fill="#4040a0"/>
<rect x="293.72" y="687.85" width="15.03" height="14.95" fill="#4949a4"/>
<rect x="308.75" y="687.85" width="15.03" height="14.95" fill="#4949a4"/>
<rect x="323.78" y="687.85" width="15.03" height="14.95" fill="#4949a4"/>
<rect x="338.81" y="687.85" width="15.03" height="14.95" fill="#4949a4"/>
<rect x="353.84" y="687.85" width="15.03" height="14.95" fill="#4040a0"/>
<rect x="368.87" y="687.85" width="15.03" height="14.95" fill="#4949a4"/>
<rect x="383.90" y="687.85" width="15.03" height="14.95" fill="#4040a0"/>
<rect x="398.93" y="687.85" width="15.03" height="14.95" fill="#4040a0"/>
<rect x="413.96" y="687.85" width="15.03" height="14.95" fill="#4949a4"/>
<rect x="428.99" y="687.85" width="15.03" height="14.95" fill="#4949a4"/>
<rect x="444.02" y="687.85" width="15.03" height="14.95" fill="#4949a4"/>
<rect x="459.05" y="687.85" width="15.03" height="14.95" fill="#4949a4"/>
<rect x="474.08" y="687.85" width="15.03" height="14.95" fill="#4040a0"/>
<rect x="489.11" y="687.85" width="15.03" height="14.95" fill="#4949a4"/>
<rect x="504.14" y="687.85" width="15.03" height="14.95" fill="#37379c"/>
<rect x="519.17" y="687.85" width="15.03" height="14.95" fill="#4040a0"/>
<rect x="534.20" y="687.85" width="15.03" height="14.95" fill="#4040a0"/>
<rect x="549.23" y="687.85" width="15.03" height="14.95" fill="#37379c"/>
<rect x="564.26" y="687.85" width="15.03" height="14.95" fill="#4949a4"/>
<rect x="579.29" y="687.85" width="15.03" height="14.95" fill="#5252a7"/>
<rect x="594.32" y="687.85" width="15.03" height="14.95" fill="#2e2e98"/>
<rect x="609.35" y="687.85" width="15.03" height="14.95" fill="#000080"/>
<rect x="624.38" y="687.85" width="15.03" height="14.95" fill="#7878b3"/>
<rect x="639.41" y="687.85" width="15.03" height="14.95" fill="#8c8cb7"/>
<rect x="654.44" y="687.85" width="15.03" height="14.95" fill="#8282b5"/>
<rect x="669.47" y="687.85" width="15.03" height="14.95" fill="#d2d2d2"/>
<rect x="684.50" y="687.85" width="15.03" height="14.95" fill="#d2d2d2"/>
<rect x="699.53" y="687.85" width="15.03" height="14.95" fill="#aaaabc"/>
<rect x="714.56" y="687.85" width="15.03" height="14.95" fill="#b4b4bd"/>
<rect x="83.30" y="702.80" width="15.03" height="14.95" fill="#b4b4bd"/>
<rect x="98.33" y="702.80" width="15.03" height="14.95" fill="#aaaabc"/>
<rect x="113.36" y="702.80" width="15.03" height="14.95" fill="#c8c8c8"/>
<rect x="128.39" y="702.80" width="15.03" height="14.95" fill="#c8c8c8"/>
<rect x="143.42" y="702.80" width="15.03" height="14.95" fill="#c8c8c8"/>
<rect x="158.45" y="702.80" width="15.03" height="14.95" fill="#c8c8c8"/>
<rect x="173.48" y="702.80" width="15.03" height="14.95" fill="#a0a0bb"/>
<rect x="188.51" y="702.80" width="15.03" height="14.95" fill="#a0a0bb"/>
<rect x="203.54" y="702.80" width="15.03" height="14.95" fill="#a0a0bb"/>
<rect x="218.57" y="702.80" width="15.03" height="14.95" fill="#8c8cb7"/>
<rect x="233.60" y="702.80" width="15.03" height="14.95" fill="#8c8cb7"/>
<rect x="248.63" y="702.80" width="15.03" height="14.95" fill="#6464ad"/>
<rect x="263.66" y="702.80" width="15.03" height="14.95" fill="#8c8cb7"/>
<rect x="278.69" y="702.80" width="15.03" height="14.95" fill="#8c8cb7"/>
<rect x="293.72" y="702.80" width="15.03" height="14.95" fill="#aaaabc"/>
<rect x="308.75" y="702.80" width="15.03" height="14.95" fill="#b4b4bd"/>
<rect x="323.78" y="702.80" width="15.03" height="14.95" fill="#8c8cb7"/>
<rect x="338.81" y="702.80" width="15.03" height="14.95" fill="#8c8cb7"/>
<rect x="353.84" y="702.80" width="15.03" height="14.95" fill="#a0a0bb"/>
<rect x="368.87" y="702.80" width="15.03" height="14.95" fill="#9696b9"/>
<rect x="383.90" y="702.80" width="15.03" height="14.95" fill="#9696b9"/>
<rect x="398.93" y="702.80" width="15.03" height="14.95" fill="#9696b9"/>
<rect x="413.96" y="702.80" width="15.03" height="14.95" fill="#4949a4"/>
<rect x="428.99" y="702.80" width="15.03" height="14.95" fill="#5b5baa"/>
<rect x="444.02" y="702.80" width="15.03" height="14.95" fill="#4949a4"/>
<rect x="459.05" y="702.80" width="15.03" height="14.95" fill="#5252a7"/>
<rect x="474.08" y="702.80" width="15.03" height="14.95" fill="#5252a7"/>
<rect x="489.11" y="702.80" width="15.03" height="14.95" fill="#5252a7"/>
<rect x="504.14" y="702.80" width="15.03" height="14.95" fill="#5252a7"/>
<rect x="519.17" y="702.80" width="15.03" height="14.95" fill="#5b5baa"/>
<rect x="534.20" y="702.80" width="15.03" height="14.95" fill="#6e6eb0"/>
<rect x="549.23" y="702.80" width="15.03" height="14.95" fill="#6464ad"/>
<rect x="564.26" y="702.80" width="15.03" height="14.95" fill="#6e6eb0"/>
<rect x="579.29" y="702.80" width="15.03" height="14.95" fill="#5b5baa"/>
<rect x="594.32" y="702.80" width="15.03" height="14.95" fill="#8282b5"/>
<rect x="609.35" y="702.80" width="15.03" height="14.95" fill="#7878b3"/>
<rect x="624.38" y="702.80" width="15.03" height="14.95" fill="#000080"/>
<rect x="639.41" y="702.80" width="15.03" height="14.95" fill="#5252a7"/>
<rect x="654.44" y="702.80" width="15.03" height="14.95" fill="#4949a4"/>
<rect x="669.47" y="702.80" width="15.03" height="14.95" fill="#8c8cb7"/>
<rect x="684.50" y="702.80" width="15.03" height="14.95" fill="#6464ad"/>
<rect x="699.53" y="702.80" width="15.03" height="14.95" fill="#6e6eb0"/>
<rect x="714.56" y="702.80" width="15.03" height="14.95" fill="#4040a0"/>
<rect x="83.30" y="717.75" width="15.03" height="14.95" fill="#c8c8c8"/>
<rect x="98.33" y="717.75" width="15.03" height="14.95" fill="#c8c8c8"/>
<rect x="113.36" y="717.75" width="15.03" height="14.95" fill="#d2d2d2"/>
<rect x="128.39" y="717.75" width="15.03" height="14.95" fill="#d2d2d2"/>
<rect x="143.42" y="717.75" width="15.03" height="14.95" fill="#d2d2d2"/>
<rect x="158.45" y="717.75" width="15.03" height="14.95" fill="#d2d2d2"/>
<rect x="173.48" y="717.75" width="15.03" height="14.95" fill="#c8c8c8"/>
<rect x="188.51" y="717.75" width="15.03" height="14.95" fill="#b4b4bd"/>
<rect x="203.54" y="717.75" width="15.03" height="14.95" fill="#c8c8c8"/>
<rect x="218.57" y="717.75" width="15.03" height="14.95" fill="#aaaabc"/>
<rect x="233.60" y="717.75" width="15.03" height="14.95" fill="#9696b9"/>
<rect x="248.63" y="717.75" width="15.03" height="14.95" fill="#9696b9"/>
<rect x="263.66" y="717.75" width="15.03" height="14.95" fill="#aaaabc"/>
<rect x="278.69" y="717.75" width="15.03" height="14.95" fill="#a0a0bb"/>
<rect x="293.72" y="717.75" width="15.03" height="14.95" fill="#aaaabc"/>
<rect x="308.75" y="717.75" width="15.03" height="14.95" fill="#aaaabc"/>
<rect x="323.78" y="717.75" width="15.03" height="14.95" fill="#aaaabc"/>
<rect x="338.81" y="717.75" width="15.03" height="14.95" fill="#aaaabc"/>
<rect x="353.84" y="717.75" width="15.03" height="14.95" fill="#aaaabc"/>
<rect x="368.87" y="717.75" width="15.03" height="14.95" fill="#aaaabc"/>
<rect x="383.90" y="717.75" width="15.03" height="14.95" fill="#b4b4bd"/>
<rect x="398.93" y="717.75" width="15.03" height="14.95" fill="#aaaabc"/>
<rect x="413.96" y="717.75" width="15.03" height="14.95" fill="#4040a0"/>
<rect x="428.99" y="717.75" width="15.03" height="14.95" fill="#37379c"/>
<rect x="444.02" y="717.75" width="15.03" height="14.95" fill="#252594"/>
<rect x="459.05" y="717.75" width="15.03" height="14.95" fill="#4040a0"/>
<rect x="474.08" y="717.75" width="15.03" height="14.95" fill="#37379c"/>
<rect x="489.11" y="717.75" width="15.03" height="14.95" fill="#4040a0"/>
<rect x="504.14" y="717.75" width="15.03" height="14.95" fill="#4949a4"/>
<rect x="519.17" y="717.75" width="15.03" height="14.95" fill="#5252a7"/>
<rect x="534.20" y="717.75" width="15.03" height="14.95" fill="#6e6eb0"/>
<rect x="549.23" y="717.75" width="15.03" height="14.95" fill="#6464ad"/>
<rect x="564.26" y="717.75" width="15.03" height="14.95" fill="#6e6eb0"/>
<rect x="579.29" y="717.75" width="15.03" height="14.95" fill="#7878b3"/>
<rect x="594.32" y="717.75" width="15.03" height="14.95" fill="#7878b3"/>
<rect x="609.35" y="717.75" width="15.03" height="14.95" fill="#8c8cb7"/>
<rect x="624.38" y="717.75" width="15.03" height="14.95" fill="#5252a7"/>
<rect x="639.41" y="717.75" width="15.03" height="14.95" fill="#000080"/>
<rect x="654.44" y="717.75" width="15.03" height="14.95" fill="#2e2e98"/>
<rect x="669.47" y="717.75" width="15.03" height="14.95" fill="#37379c"/>
<rect x="684.50" y="717.75" width="15.03" height="14.95" fill="#37379c"/>
<rect x="699.53" y="717.75" width="15.03" height="14.95" fill="#37379c"/>
<rect x="714.56" y="717.75" width="15.03" height="14.95" fill="#2e2e98"/>
<rect x="83.30" y="732.70" width="15.03" height="14.95" fill="#c8c8c8"/>
<rect x="98.33" y="732.70" width="15.03" height="14.95" fill="#c8c8c8"/>
<rect x="113.36" y="732.70" width="15.03" height="14.95" fill="#c8c8c8"/>
<rect x="128.39" y="732.70" width="15.03" height="14.95" fill="#c8c8c8"/>
<rect x="143.42" y="732.70" width="15.03" height="14.95" fill="#c8c8c8"/>
<rect x="158.45" y="732.70" width="15.03" height="14.95" fill="#c8c8c8"/>
<rect x="173.48" y="732.70" width="15.03" height="14.95" fill="#c8c8c8"/>
<rect x="188.51" y="732.70" width="15.03" height="14.95" fill="#aaaabc"/>
<rect x="203.54" y="732.70" width="15.03" height="14.95" fill="#bebebe"/>
<rect x="218.57" y="732.70" width="15.03" height="14.95" fill="#aaaabc"/>
<rect x="233.60" y="732.70" width="15.03" height="14.95" fill="#a0a0bb"/>
<rect x="248.63" y="732.70" width="15.03" height="14.95" fill="#8c8cb7"/>
<rect x="263.66" y="732.70" width="15.03" height="14.95" fill="#aaaabc"/>
<rect x="278.69" y="732.70" width="15.03" height="14.95" fill="#9696b9"/>
<rect x="293.72" y="732.70" width="15.03" height="14.95" fill="#aaaabc"/>
<rect x="308.75" y="732.70" width="15.03" height="14.95" fill="#aaaabc"/>
<rect x="323.78" y="732.70" width="15.03" height="14.95" fill="#aaaabc"/>
<rect x="338.81" y="732.70" width="15.03" height="14.95" fill="#aaaabc"/>
<rect x="353.84" y="732.70" width="15.03" height="14.95" fill="#aaaabc"/>
<rect x="368.87" y="732.70" width="15.03" height="14.95" fill="#aaaabc"/>
<rect x="383.90" y="732.70" width="15.03" height="14.95" fill="#b4b4bd"/>
<rect x="398.93" y="732.70" width="15.03" height="14.95" fill="#aaaabc"/>
<rect x="413.96" y="732.70" width="15.03" height="14.95" fill="#4040a0"/>
<rect x="428.99" y="732.70" width="15.03" height="14.95" fill="#4040a0"/>
<rect x="444.02" y="732.70" width="15.03" height="14.95" fill="#37379c"/>
<rect x="459.05" y="732.70" width="15.03" height="14.95" fill="#4040a0"/>
<rect x="474.08" y="732.70" width="15.03" height="14.95" fill="#4040a0"/>
<rect x="489.11" y="732.70" width="15.03" height="14.95" fill="#4949a4"/>
<rect x="504.14" y="732.70" width="15.03" height="14.95" fill="#5252a7"/>
<rect x="519.17" y="732.70" width="15.03" height="14.95" fill="#5252a7"/>
<rect x="534.20" y="732.70" width="15.03" height="14.95" fill="#6464ad"/>
<rect x="549.23" y="732.70" width="15.03" height="14.95" fill="#6464ad"/>
<rect x="564.26" y="732.70" width="15.03" height="14.95" fill="#6464ad"/>
<rect x="579.29" y="732.70" width="15.03" height="14.95" fill="#6e6eb0"/>
<rect x="594.32" y="732.70" width="15.03" height="14.95" fill="#7878b3"/>
<rect x="609.35" y="732.70" width="15.03" height="14.95" fill="#8282b5"/>
<rect x="624.38" y="732.70" width="15.03" height="14.95" fill="#4949a4"/>
<rect x="639.41" y="732.70" width="15.03" height="14.95" fill="#2e2e98"/>
<rect x="654.44" y="732.70" width="15.03" height="14.95" fill="#000080"/>
<rect x="669.47" y="732.70" width="15.03" height="14.95" fill="#5252a7"/>
<rect x="684.50" y="732.70" width="15.03" height="14.95" fill="#4949a4"/>
<rect x="699.53" y="732.70" width="15.03" height="14.95" fill="#4949a4"/>
<rect x="714.56" y="732.70" width="15.03" height="14.95" fill="#4040a0"/>
<rect x="83.30" y="747.65" width="15.03" height="14.95" fill="#f0f0f0"/>
<rect x="98.33" y="747.65" width="15.03" height="14.95" fill="#f0f0f0"/>
<rect x="113.36" y="747.65" width="15.03" height="14.95" fill="#f0f0f0"/>
<rect x="128.39" y="747.65" width="15.03" height="14.95" fill="#fafafa"/>
<rect x="143.42" y="747.65" width="15.03" height="14.95" fill="#f0f0f0"/>
<rect x="158.45" y="747.65" width="15.03" height="14.95" fill="#f0f0f0"/>
<rect x="173.48" y="747.65" width="15.03" height="14.95" fill="#f0f0f0"/>
<rect x="188.51" y="747.65" width="15.03" height="14.95" fill="#f0f0f0"/>
<rect x="203.54" y="747.65" width="15.03" height="14.95" fill="#f0f0f0"/>
<rect x="218.57" y="747.65" width="15.03" height="14.95" fill="#f0f0f0"/>
<rect x="233.60" y="747.65" width="15.03" height="14.95" fill="#e6e6e6"/>
<rect x="248.63" y="747.65" width="15.03" height="14.95" fill="#e6e6e6"/>
<rect x="263.66" y="747.65" width="15.03" height="14.95" fill="#e6e6e6"/>
<rect x="278.69" y="747.65" width="15.03" height="14.95" fill="#e6e6e6"/>
<rect x="293.72" y="747.65" width="15.03" height="14.95" fill="#f0f0f0"/>
<rect x="308.75" y="747.65" width="15.03" height="14.95" fill="#f0f0f0"/>
<rect x="323.78" y="747.65" width="15.03" height="14.95" fill="#f0f0f0"/>
<rect x="338.81" y="747.65" width="15.03" height="14.95" fill="#e6e6e6"/>
<rect x="353.84" y="747.65" width="15.03" height="14.95" fill="#e6e6e6"/>
<rect x="368.87" y="747.65" width="15.03" height="14.95" fill="#e6e6e6"/>
<rect x="383.90" y="747.65" width="15.03" height="14.95" fill="#e6e6e6"/>
<rect x="398.93" y="747.65" width="15.03" height="14.95" fill="#e6e6e6"/>
<rect x="413.96" y="747.65" width="15.03" height="14.95" fill="#6e6eb0"/>
<rect x="428.99" y="747.65" width="15.03" height="14.95" fill="#7878b3"/>
<rect x="444.02" y="747.65" width="15.03" height="14.95" fill="#6e6eb0"/>
<rect x="459.05" y="747.65" width="15.03" height="14.95" fill="#6e6eb0"/>
<rect x="474.08" y="747.65" width="15.03" height="14.95" fill="#6464ad"/>
<rect x="489.11" y="747.65" width="15.03" height="14.95" fill="#6464ad"/>
<rect x="504.14" y="747.65" width="15.03" height="14.95" fill="#8c8cb7"/>
<rect x="519.17" y="747.65" width="15.03" height="14.95" fill="#bebebe"/>
<rect x="534.20" y="747.65" width="15.03" height="14.95" fill="#d2d2d2"/>
<rect x="549.23" y="747.65" width="15.03" height="14.95" fill="#c8c8c8"/>
<rect x="564.26" y="747.65" width="15.03" height="14.95" fill="#dcdcdc"/>
<rect x="579.29" y="747.65" width="15.03" height="14.95" fill="#e6e6e6"/>
<rect x="594.32" y="747.65" width="15.03" height="14.95" fill="#dcdcdc"/>
<rect x="609.35" y="747.65" width="15.03" height="14.95" fill="#dcdcdc"/>
<rect x="624.38" y="747.65" width="15.03" height="14.95" fill="#8282b5"/>
<rect x="639.41" y="747.65" width="15.03" height="14.95" fill="#4040a0"/>
<rect x="654.44" y="747.65" width="15.03" height="14.95" fill="#5252a7"/>
<rect x="669.47" y="747.65" width="15.03" height="14.95" fill="#000080"/>
<rect x="684.50" y="747.65" width="15.03" height="14.95" fill="#1c1c8f"/>
<rect x="699.53" y="747.65" width="15.03" height="14.95" fill="#4040a0"/>
<rect x="714.56" y="747.65" width="15.03" height="14.95" fill="#4040a0"/>
<rect x="83.30" y="762.60" width="15.03" height="14.95" fill="#f0f0f0"/>
<rect x="98.33" y="762.60" width="15.03" height="14.95" fill="#f0f0f0"/>
<rect x="113.36" y="762.60" width="15.03" height="14.95" fill="#f0f0f0"/>
<rect x="128.39" y="762.60" width="15.03" height="14.95" fill="#f0f0f0"/>
<rect x="143.42" y="762.60" width="15.03" height="14.95" fill="#f0f0f0"/>
<rect x="158.45" y="762.60" width="15.03" height="14.95" fill="#f0f0f0"/>
<rect x="173.48" y="762.60" width="15.03" height="14.95" fill="#e6e6e6"/>
<rect x="188.51" y="762.60" width="15.03" height="14.95" fill="#e6e6e6"/>
<rect x="203.54" y="762.60" width="15.03" height="14.95" fill="#f0f0f0"/>
<rect x="218.57" y="762.60" width="15.03" height="14.95" fill="#e6e6e6"/>
<rect x="233.60" y="762.60" width="15.03" height="14.95" fill="#e6e6e6"/>
<rect x="248.63" y="762.60" width="15.03" height="14.95" fill="#e6e6e6"/>
<rect x="263.66" y="762.60" width="15.03" height="14.95" fill="#e6e6e6"/>
<rect x="278.69" y="762.60" width="15.03" height="14.95" fill="#e6e6e6"/>
<rect x="293.72" y="762.60" width="15.03" height="14.95" fill="#f0f0f0"/>
<rect x="308.75" y="762.60" width="15.03" height="14.95" fill="#f0f0f0"/>
<rect x="323.78" y="762.60" width="15.03" height="14.95" fill="#e6e6e6"/>
<rect x="338.81" y="762.60" width="15.03" height="14.95" fill="#e6e6e6"/>
<rect x="353.84" y="762.60" width="15.03" height="14.95" fill="#e6e6e6"/>
<rect x="368.87" y="762.60" width="15.03" height="14.95" fill="#e6e6e6"/>
<rect x="383.90" y="762.60" width="15.03" height="14.95" fill="#ffffff"/>
<rect x="398.93" y="762.60" width="15.03" height="14.95" fill="#e6e6e6"/>
<rect x="413.96" y="762.60" width="15.03" height="14.95" fill="#6464ad"/>
<rect x="428.99" y="762.60" width="15.03" height="14.95" fill="#7878b3"/>
<rect x="444.02" y="762.60" width="15.03" height="14.95" fill="#6464ad"/>
<rect x="459.05" y="762.60" width="15.03" height="14.95" fill="#6464ad"/>
<rect x="474.08" y="762.60" width="15.03" height="14.95" fill="#6464ad"/>
<rect x="489.11" y="762.60" width="15.03" height="14.95" fill="#6464ad"/>
<rect x="504.14" y="762.60" width="15.03" height="14.95" fill="#8282b5"/>
<rect x="519.17" y="762.60" width="15.03" height="14.95" fill="#b4b4bd"/>
<rect x="534.20" y="762.60" width="15.03" height="14.95" fill="#d2d2d2"/>
<rect x="549.23" y="762.60" width="15.03" height="14.95" fill="#bebebe"/>
<rect x="564.26" y="762.60" width="15.03" height="14.95" fill="#d2d2d2"/>
<rect x="579.29" y="762.60" width="15.03" height="14.95" fill="#d2d2d2"/>
<rect x="594.32" y="762.60" width="15.03" height="14.95" fill="#d2d2d2"/>
<rect x="609.35" y="762.60" width="15.03" height="14.95" fill="#d2d2d2"/>
<rect x="624.38" y="762.60" width="15.03" height="14.95" fill="#6464ad"/>
<rect x="639.41" y="762.60" width="15.03" height="14.95" fill="#4040a0"/>
<rect x="654.44" y="762.60" width="15.03" height="14.95" fill="#4949a4"/>
<rect x="669.47" y="762.60" width="15.03" height="14.95" fill="#1c1c8f"/>
<rect x="684.50" y="762.60" width="15.03" height="14.95" fill="#000080"/>
<rect x="699.53" y="762.60" width="15.03" height="14.95" fill="#4040a0"/>
<rect x="714.56" y="762.60" width="15.03" height="14.95" fill="#4040a0"/>
<rect x="83.30" y="777.55" width="15.03" height="14.95" fill="#dcdcdc"/>
<rect x="98.33" y="777.55" width="15.03" height="14.95" fill="#dcdcdc"/>
<rect x="113.36" y="777.55" width="15.03" height="14.95" fill="#dcdcdc"/>
<rect x="128.39" y="777.55" width="15.03" height="14.95" fill="#dcdcdc"/>
<rect x="143.42" y="777.55" width="15.03" height="14.95" fill="#dcdcdc"/>
<rect x="158.45" y="777.55" width="15.03" height="14.95" fill="#dcdcdc"/>
<rect x="173.48" y="777.55" width="15.03" height="14.95" fill="#d2d2d2"/>
<rect x="188.51" y="777.55" width="15.03" height="14.95" fill="#d2d2d2"/>
<rect x="203.54" y="777.55" width="15.03" height="14.95" fill="#d2d2d2"/>
<rect x="218.57" y="777.55" width="15.03" height="14.95" fill="#d2d2d2"/>
<rect x="233.60" y="777.55" width="15.03" height="14.95" fill="#c8c8c8"/>
<rect x="248.63" y="777.55" width="15.03" height="14.95" fill="#c8c8c8"/>
<rect x="263.66" y="777.55" width="15.03" height="14.95" fill="#c8c8c8"/>
<rect x="278.69" y="777.55" width="15.03" height="14.95" fill="#c8c8c8"/>
<rect x="293.72" y="777.55" width="15.03" height="14.95" fill="#c8c8c8"/>
<rect x="308.75" y="777.55" width="15.03" height="14.95" fill="#d2d2d2"/>
<rect x="323.78" y="777.55" width="15.03" height="14.95" fill="#c8c8c8"/>
<rect x="338.81" y="777.55" width="15.03" height="14.95" fill="#c8c8c8"/>
<rect x="353.84" y="777.55" width="15.03" height="14.95" fill="#c8c8c8"/>
<rect x="368.87" y="777.55" width="15.03" height="14.95" fill="#c8c8c8"/>
<rect x="383.90" y="777.55" width="15.03" height="14.95" fill="#c8c8c8"/>
<rect x="398.93" y="777.55" width="15.03" height="14.95" fill="#c8c8c8"/>
<rect x="413.96" y="777.55" width="15.03" height="14.95" fill="#5b5baa"/>
<rect x="428.99" y="777.55" width="15.03" height="14.95" fill="#5b5baa"/>
<rect x="444.02" y="777.55" width="15.03" height="14.95" fill="#5252a7"/>
<rect x="459.05" y="777.55" width="15.03" height="14.95" fill="#5252a7"/>
<rect x="474.08" y="777.55" width="15.03" height="14.95" fill="#5252a7"/>
<rect x="489.11" y="777.55" width="15.03" height="14.95" fill="#5252a7"/>
<rect x="504.14" y="777.55" width="15.03" height="14.95" fill="#6e6eb0"/>
<rect x="519.17" y="777.55" width="15.03" height="14.95" fill="#8c8cb7"/>
<rect x="534.20" y="777.55" width="15.03" height="14.95" fill="#a0a0bb"/>
<rect x="549.23" y="777.55" width="15.03" height="14.95" fill="#8c8cb7"/>
<rect x="564.26" y="777.55" width="15.03" height="14.95" fill="#aaaabc"/>
<rect x="579.29" y="777.55" width="15.03" height="14.95" fill="#c8c8c8"/>
<rect x="594.32" y="777.55" width="15.03" height="14.95" fill="#aaaabc"/>
<rect x="609.35" y="777.55" width="15.03" height="14.95" fill="#aaaabc"/>
<rect x="624.38" y="777.55" width="15.03" height="14.95" fill="#6e6eb0"/>
<rect x="639.41" y="777.55" width="15.03" height="14.95" fill="#4040a0"/>
<rect x="654.44" y="777.55" width="15.03" height="14.95" fill="#4949a4"/>
<rect x="669.47" y="777.55" width="15.03" height="14.95" fill="#4040a0"/>
<rect x="684.50" y="777.55" width="15.03" height="14.95" fill="#37379c"/>
<rect x="699.53" y="777.55" width="15.03" height="14.95" fill="#000080"/>
<rect x="714.56" y="777.55" width="15.03" height="14.95" fill="#4949a4"/>
<rect x="83.30" y="792.50" width="15.03" height="14.95" fill="#dcdcdc"/>
<rect x="98.33" y="792.50" width="15.03" height="14.95" fill="#dcdcdc"/>
<rect x="113.36" y="792.50" width="15.03" height="14.95" fill="#dcdcdc"/>
<rect x="128.39" y="792.50" width="15.03" height="14.95" fill="#dcdcdc"/>
<rect x="143.42" y="792.50" width="15.03" height="14.95" fill="#dcdcdc"/>
<rect x="158.45" y="792.50" width="15.03" height="14.95" fill="#dcdcdc"/>
<rect x="173.48" y="792.50" width="15.03" height="14.95" fill="#d2d2d2"/>
<rect x="188.51" y="792.50" width="15.03" height="14.95" fill="#d2d2d2"/>
<rect x="203.54" y="792.50" width="15.03" height="14.95" fill="#d2d2d2"/>
<rect x="218.57" y="792.50" width="15.03" height="14.95" fill="#d2d2d2"/>
<rect x="233.60" y="792.50" width="15.03" height="14.95" fill="#b4b4bd"/>
<rect x="248.63" y="792.50" width="15.03" height="14.95" fill="#b4b4bd"/>
<rect x="263.66" y="792.50" width="15.03" height="14.95" fill="#bebebe"/>
<rect x="278.69" y="792.50" width="15.03" height="14.95" fill="#bebebe"/>
<rect x="293.72" y="792.50" width="15.03" height="14.95" fill="#d2d2d2"/>
<rect x="308.75" y="792.50" width="15.03" height="14.95" fill="#d2d2d2"/>
<rect x="323.78" y="792.50" width="15.03" height="14.95" fill="#c8c8c8"/>
<rect x="338.81" y="792.50" width="15.03" height="14.95" fill="#c8c8c8"/>
<rect x="353.84" y="792.50" width="15.03" height="14.95" fill="#c8c8c8"/>
<rect x="368.87" y="792.50" width="15.03" height="14.95" fill="#c8c8c8"/>
<rect x="383.90" y="792.50" width="15.03" height="14.95" fill="#c8c8c8"/>
<rect x="398.93" y="792.50" width="15.03" height="14.95" fill="#c8c8c8"/>
<rect x="413.96" y="792.50" width="15.03" height="14.95" fill="#5252a7"/>
<rect x="428.99" y="792.50" width="15.03" height="14.95" fill="#5252a7"/>
<rect x="444.02" y="792.50" width="15.03" height="14.95" fill="#4040a0"/>
<rect x="459.05" y="792.50" width="15.03" height="14.95" fill="#4949a4"/>
<rect x="474.08" y="792.50" width="15.03" height="14.95" fill="#4949a4"/>
<rect x="489.11" y="792.50" width="15.03" height="14.95" fill="#4949a4"/>
<rect x="504.14" y="792.50" width="15.03" height="14.95" fill="#5b5baa"/>
<rect x="519.17" y="792.50" width="15.03" height="14.95" fill="#6e6eb0"/>
<rect x="534.20" y="792.50" width="15.03" height="14.95" fill="#9696b9"/>
<rect x="549.23" y="792.50" width="15.03" height="14.95" fill="#8282b5"/>
<rect x="564.26" y="792.50" width="15.03" height="14.95" fill="#b4b4bd"/>
<rect x="579.29" y="792.50" width="15.03" height="14.95" fill="#b4b4bd"/>
<rect x="594.32" y="792.50" width="15.03" height="14.95" fill="#aaaabc"/>
<rect x="609.35" y="792.50" width="15.03" height="14.95" fill="#b4b4bd"/>
<rect x="624.38" y="792.50" width="15.03" height="14.95" fill="#4949a4"/>
<rect x="639.41" y="792.50" width="15.03" height="14.95" fill="#2e2e98"/>
<rect x="654.44" y="792.50" width="15.03" height="14.95" fill="#4040a0"/>
<rect x="669.47" y="792.50" width="15.03" height="14.95" fill="#37379c"/>
<rect x="684.50" y="792.50" width="15.03" height="14.95" fill="#2e2e98"/>
<rect x="699.53" y="792.50" width="15.03" height="14.95" fill="#4949a4"/>
<rect x="714.56" y="792.50" width="15.03" height="14.95" fill="#000080"/>
<path d="M83.30 164.60V807.45M98.33 164.60V807.45M113.36 164.60V807.45M128.39 164.60V807.45M143.42 164.60V807.45M158.45 164.60V807.45M173.48 164.60V807.45M188.51 164.60V807.45M203.54 164.60V807.45M218.57 164.60V807.45M233.60 164.60V807.45M248.63 164.60V807.45M263.66 164.60V807.45M278.69 164.60V807.45M293.72 164.60V807.45M308.75 164.60V807.45M323.78 164.60V807.45M338.81 164.60V807.45M353.84 164.60V807.45M368.87 164.60V807.45M383.90 164.60V807.45M398.93 164.60V807.45M413.96 164.60V807.45M428.99 164.60V807.45M444.02 164.60V807.45M459.05 164.60V807.45M474.08 164.60V807.45M489.11 164.60V807.45M504.14 164.60V807.45M519.17 164.60V807.45M534.20 164.60V807.45M549.23 164.60V807.45M564.26 164.60V807.45M579.29 164.60V807.45M594.32 164.60V807.45M609.35 164.60V807.45M624.38 164.60V807.45M639.41 164.60V807.45M654.44 164.60V807.45M669.47 164.60V807.45M684.50 164.60V807.45M699.53 164.60V807.45M714.56 164.60V807.45M729.59 164.60V807.45M83.30 164.60H729.59M83.30 179.55H729.59M83.30 194.50H729.59M83.30 209.45H729.59M83.30 224.40H729.59M83.30 239.35H729.59M83.30 254.30H729.59M83.30 269.25H729.59M83.30 284.20H729.59M83.30 299.15H729.59M83.30 314.10H729.59M83.30 329.05H729.59M83.30 344.00H729.59M83.30 358.95H729.59M83.30 373.90H729.59M83.30 388.85H729.59M83.30 403.80H729.59M83.30 418.75H729.59M83.30 433.70H729.59M83.30 448.65H729.59M83.30 463.60H729.59M83.30 478.55H729.59M83.30 493.50H729.59M83.30 508.45H729.59M83.30 523.40H729.59M83.30 538.35H729.59M83.30 553.30H729.59M83.30 568.25H729.59M83.30 583.20H729.59M83.30 598.15H729.59M83.30 613.10H729.59M83.30 628.05H729.59M83.30 643.00H729.59M83.30 657.95H729.59M83.30 672.90H729.59M83.30 687.85H729.59M83.30 702.80H729.59M83.30 717.75H729.59M83.30 732.70H729.59M83.30 747.65H729.59M83.30 762.60H729.59M83.30 777.55H729.59M83.30 792.50H729.59M83.30 807.45H729.59" stroke="#a8a8a2" stroke-width="1.4" fill="none"/>
<g font-size="12.7"><text x="733.6" y="177.88" font-size="13.3" textLength="83.4" lengthAdjust="spacingAndGlyphs">GSM4973449</text>
<text x="733.6" y="192.82" font-size="13.3" textLength="83.4" lengthAdjust="spacingAndGlyphs">GSM4973454</text>
<text x="733.6" y="207.78" font-size="13.3" textLength="83.4" lengthAdjust="spacingAndGlyphs">GSM4973429</text>
<text x="733.6" y="222.72" font-size="13.3" textLength="83.4" lengthAdjust="spacingAndGlyphs">GSM4973433</text>
<text x="733.6" y="237.67" font-size="13.3" textLength="83.4" lengthAdjust="spacingAndGlyphs">GSM4973418</text>
<text x="733.6" y="252.62" font-size="13.3" textLength="83.4" lengthAdjust="spacingAndGlyphs">GSM4973430</text>
<text x="733.6" y="267.57" font-size="13.3" textLength="83.4" lengthAdjust="spacingAndGlyphs">GSM4973448</text>
<text x="733.6" y="282.53" font-size="13.3" textLength="83.4" lengthAdjust="spacingAndGlyphs">GSM4973440</text>
<text x="733.6" y="297.48" font-size="13.3" textLength="83.4" lengthAdjust="spacingAndGlyphs">GSM4973443</text>
<text x="733.6" y="312.43" font-size="13.3" textLength="83.4" lengthAdjust="spacingAndGlyphs">GSM4973444</text>
<text x="733.6" y="327.38" font-size="13.3" textLength="83.4" lengthAdjust="spacingAndGlyphs">GSM4973445</text>
<text x="733.6" y="342.32" font-size="13.3" textLength="83.4" lengthAdjust="spacingAndGlyphs">GSM4973451</text>
<text x="733.6" y="357.28" font-size="13.3" textLength="83.4" lengthAdjust="spacingAndGlyphs">GSM4973421</text>
<text x="733.6" y="372.23" font-size="13.3" textLength="83.4" lengthAdjust="spacingAndGlyphs">GSM4973436</text>
<text x="733.6" y="387.18" font-size="13.3" textLength="83.4" lengthAdjust="spacingAndGlyphs">GSM4973424</text>
<text x="733.6" y="402.13" font-size="13.3" textLength="83.4" lengthAdjust="spacingAndGlyphs">GSM4973438</text>
<text x="733.6" y="417.07" font-size="13.3" textLength="83.4" lengthAdjust="spacingAndGlyphs">GSM4973441</text>
<text x="733.6" y="432.03" font-size="13.3" textLength="83.4" lengthAdjust="spacingAndGlyphs">GSM4973446</text>
<text x="733.6" y="446.97" font-size="13.3" textLength="83.4" lengthAdjust="spacingAndGlyphs">GSM4973452</text>
<text x="733.6" y="461.93" font-size="13.3" textLength="83.4" lengthAdjust="spacingAndGlyphs">GSM4973439</text>
<text x="733.6" y="476.88" font-size="13.3" textLength="83.4" lengthAdjust="spacingAndGlyphs">GSM4973425</text>
<text x="733.6" y="491.82" font-size="13.3" textLength="83.4" lengthAdjust="spacingAndGlyphs">GSM4973427</text>
<text x="733.6" y="506.78" font-size="13.3" textLength="83.4" lengthAdjust="spacingAndGlyphs">GSM4973398</text>
<text x="733.6" y="521.72" font-size="13.3" textLength="83.4" lengthAdjust="spacingAndGlyphs">GSM4973412</text>
<text x="733.6" y="536.67" font-size="13.3" textLength="83.4" lengthAdjust="spacingAndGlyphs">GSM4973400</text>
<text x="733.6" y="551.62" font-size="13.3" textLength="83.4" lengthAdjust="spacingAndGlyphs">GSM4973419</text>
<text x="733.6" y="566.57" font-size="13.3" textLength="83.4" lengthAdjust="spacingAndGlyphs">GSM4973394</text>
<text x="733.6" y="581.52" font-size="13.3" textLength="83.4" lengthAdjust="spacingAndGlyphs">GSM4973401</text>
<text x="733.6" y="596.47" font-size="13.3" textLength="83.4" lengthAdjust="spacingAndGlyphs">GSM4973395</text>
<text x="733.6" y="611.42" font-size="13.3" textLength="83.4" lengthAdjust="spacingAndGlyphs">GSM4973409</text>
<text x="733.6" y="626.38" font-size="13.3" textLength="83.4" lengthAdjust="spacingAndGlyphs">GSM4973432</text>
<text x="733.6" y="641.32" font-size="13.3" textLength="83.4" lengthAdjust="spacingAndGlyphs">GSM4973435</text>
<text x="733.6" y="656.27" font-size="13.3" textLength="83.4" lengthAdjust="spacingAndGlyphs">GSM4973411</text>
<text x="733.6" y="671.22" font-size="13.3" textLength="83.4" lengthAdjust="spacingAndGlyphs">GSM4973415</text>
<text x="733.6" y="686.17" font-size="13.3" textLength="83.4" lengthAdjust="spacingAndGlyphs">GSM4973422</text>
<text x="733.6" y="701.12" font-size="13.3" textLength="83.4" lengthAdjust="spacingAndGlyphs">GSM4973456</text>
<text x="733.6" y="716.07" font-size="13.3" textLength="83.4" lengthAdjust="spacingAndGlyphs">GSM4973417</text>
<text x="733.6" y="731.02" font-size="13.3" textLength="83.4" lengthAdjust="spacingAndGlyphs">GSM4973403</text>
<text x="733.6" y="745.98" font-size="13.3" textLength="83.4" lengthAdjust="spacingAndGlyphs">GSM4973408</text>
<text x="733.6" y="760.92" font-size="13.3" textLength="83.4" lengthAdjust="spacingAndGlyphs">GSM4973397</text>
<text x="733.6" y="775.88" font-size="13.3" textLength="83.4" lengthAdjust="spacingAndGlyphs">GSM4973404</text>
<text x="733.6" y="790.82" font-size="13.3" textLength="83.4" lengthAdjust="spacingAndGlyphs">GSM4973406</text>
<text x="733.6" y="805.77" font-size="13.3" textLength="83.4" lengthAdjust="spacingAndGlyphs">GSM4973414</text>
<text transform="translate(86.22 810.7) rotate(90)" x="0" y="0" textLength="75.6" lengthAdjust="spacingAndGlyphs">GSM4973449</text>
<text transform="translate(101.25 810.7) rotate(90)" x="0" y="0" textLength="75.6" lengthAdjust="spacingAndGlyphs">GSM4973454</text>
<text transform="translate(116.28 810.7) rotate(90)" x="0" y="0" textLength="75.6" lengthAdjust="spacingAndGlyphs">GSM4973429</text>
<text transform="translate(131.30 810.7) rotate(90)" x="0" y="0" textLength="75.6" lengthAdjust="spacingAndGlyphs">GSM4973433</text>
<text transform="translate(146.33 810.7) rotate(90)" x="0" y="0" textLength="75.6" lengthAdjust="spacingAndGlyphs">GSM4973418</text>
<text transform="translate(161.36 810.7) rotate(90)" x="0" y="0" textLength="75.6" lengthAdjust="spacingAndGlyphs">GSM4973430</text>
<text transform="translate(176.39 810.7) rotate(90)" x="0" y="0" textLength="75.6" lengthAdjust="spacingAndGlyphs">GSM4973448</text>
<text transform="translate(191.42 810.7) rotate(90)" x="0" y="0" textLength="75.6" lengthAdjust="spacingAndGlyphs">GSM4973440</text>
<text transform="translate(206.45 810.7) rotate(90)" x="0" y="0" textLength="75.6" lengthAdjust="spacingAndGlyphs">GSM4973443</text>
<text transform="translate(221.48 810.7) rotate(90)" x="0" y="0" textLength="75.6" lengthAdjust="spacingAndGlyphs">GSM4973444</text>
<text transform="translate(236.51 810.7) rotate(90)" x="0" y="0" textLength="75.6" lengthAdjust="spacingAndGlyphs">GSM4973445</text>
<text transform="translate(251.54 810.7) rotate(90)" x="0" y="0" textLength="75.6" lengthAdjust="spacingAndGlyphs">GSM4973451</text>
<text transform="translate(266.57 810.7) rotate(90)" x="0" y="0" textLength="75.6" lengthAdjust="spacingAndGlyphs">GSM4973421</text>
<text transform="translate(281.60 810.7) rotate(90)" x="0" y="0" textLength="75.6" lengthAdjust="spacingAndGlyphs">GSM4973436</text>
<text transform="translate(296.63 810.7) rotate(90)" x="0" y="0" textLength="75.6" lengthAdjust="spacingAndGlyphs">GSM4973424</text>
<text transform="translate(311.66 810.7) rotate(90)" x="0" y="0" textLength="75.6" lengthAdjust="spacingAndGlyphs">GSM4973438</text>
<text transform="translate(326.69 810.7) rotate(90)" x="0" y="0" textLength="75.6" lengthAdjust="spacingAndGlyphs">GSM4973441</text>
<text transform="translate(341.72 810.7) rotate(90)" x="0" y="0" textLength="75.6" lengthAdjust="spacingAndGlyphs">GSM4973446</text>
<text transform="translate(356.75 810.7) rotate(90)" x="0" y="0" textLength="75.6" lengthAdjust="spacingAndGlyphs">GSM4973452</text>
<text transform="translate(371.78 810.7) rotate(90)" x="0" y="0" textLength="75.6" lengthAdjust="spacingAndGlyphs">GSM4973439</text>
<text transform="translate(386.81 810.7) rotate(90)" x="0" y="0" textLength="75.6" lengthAdjust="spacingAndGlyphs">GSM4973425</text>
<text transform="translate(401.84 810.7) rotate(90)" x="0" y="0" textLength="75.6" lengthAdjust="spacingAndGlyphs">GSM4973427</text>
<text transform="translate(416.87 810.7) rotate(90)" x="0" y="0" textLength="75.6" lengthAdjust="spacingAndGlyphs">GSM4973398</text>
<text transform="translate(431.90 810.7) rotate(90)" x="0" y="0" textLength="75.6" lengthAdjust="spacingAndGlyphs">GSM4973412</text>
<text transform="translate(446.93 810.7) rotate(90)" x="0" y="0" textLength="75.6" lengthAdjust="spacingAndGlyphs">GSM4973400</text>
<text transform="translate(461.96 810.7) rotate(90)" x="0" y="0" textLength="75.6" lengthAdjust="spacingAndGlyphs">GSM4973419</text>
<text transform="translate(476.99 810.7) rotate(90)" x="0" y="0" textLength="75.6" lengthAdjust="spacingAndGlyphs">GSM4973394</text>
<text transform="translate(492.02 810.7) rotate(90)" x="0" y="0" textLength="75.6" lengthAdjust="spacingAndGlyphs">GSM4973401</text>
<text transform="translate(507.05 810.7) rotate(90)" x="0" y="0" textLength="75.6" lengthAdjust="spacingAndGlyphs">GSM4973395</text>
<text transform="translate(522.08 810.7) rotate(90)" x="0" y="0" textLength="75.6" lengthAdjust="spacingAndGlyphs">GSM4973409</text>
<text transform="translate(537.11 810.7) rotate(90)" x="0" y="0" textLength="75.6" lengthAdjust="spacingAndGlyphs">GSM4973432</text>
<text transform="translate(552.14 810.7) rotate(90)" x="0" y="0" textLength="75.6" lengthAdjust="spacingAndGlyphs">GSM4973435</text>
<text transform="translate(567.17 810.7) rotate(90)" x="0" y="0" textLength="75.6" lengthAdjust="spacingAndGlyphs">GSM4973411</text>
<text transform="translate(582.20 810.7) rotate(90)" x="0" y="0" textLength="75.6" lengthAdjust="spacingAndGlyphs">GSM4973415</text>
<text transform="translate(597.23 810.7) rotate(90)" x="0" y="0" textLength="75.6" lengthAdjust="spacingAndGlyphs">GSM4973422</text>
<text transform="translate(612.26 810.7) rotate(90)" x="0" y="0" textLength="75.6" lengthAdjust="spacingAndGlyphs">GSM4973456</text>
<text transform="translate(627.29 810.7) rotate(90)" x="0" y="0" textLength="75.6" lengthAdjust="spacingAndGlyphs">GSM4973417</text>
<text transform="translate(642.32 810.7) rotate(90)" x="0" y="0" textLength="75.6" lengthAdjust="spacingAndGlyphs">GSM4973403</text>
<text transform="translate(657.35 810.7) rotate(90)" x="0" y="0" textLength="75.6" lengthAdjust="spacingAndGlyphs">GSM4973408</text>
<text transform="translate(672.38 810.7) rotate(90)" x="0" y="0" textLength="75.6" lengthAdjust="spacingAndGlyphs">GSM4973397</text>
<text transform="translate(687.41 810.7) rotate(90)" x="0" y="0" textLength="75.6" lengthAdjust="spacingAndGlyphs">GSM4973404</text>
<text transform="translate(702.44 810.7) rotate(90)" x="0" y="0" textLength="75.6" lengthAdjust="spacingAndGlyphs">GSM4973406</text>
<text transform="translate(717.47 810.7) rotate(90)" x="0" y="0" textLength="75.6" lengthAdjust="spacingAndGlyphs">GSM4973414</text></g>
<text x="734.2" y="159.2" font-size="13" font-weight="bold">group</text>
<text x="831.9" y="160" font-size="12.7">group</text>
<rect x="831.9" y="164.4" width="18.8" height="19" fill="#00d6de" stroke="#9c9c9c" stroke-width="0.8"/>
<rect x="831.9" y="183.4" width="18.8" height="19" fill="#fb8a80" stroke="#9c9c9c" stroke-width="0.8"/>
<text x="854.6" y="176.1" font-size="12.7">non−IPH</text>
<text x="854.6" y="198" font-size="12.7">IPH</text>
<defs><linearGradient id="cb" x1="0" y1="0" x2="0" y2="1"><stop offset="0.000" stop-color="#000080"/><stop offset="0.050" stop-color="#13138b"/><stop offset="0.100" stop-color="#262694"/><stop offset="0.150" stop-color="#39399d"/><stop offset="0.200" stop-color="#4c4ca5"/><stop offset="0.250" stop-color="#5f5fac"/><stop offset="0.300" stop-color="#7272b1"/><stop offset="0.350" stop-color="#8585b6"/><stop offset="0.400" stop-color="#9898ba"/><stop offset="0.450" stop-color="#ababbc"/><stop offset="0.500" stop-color="#bebebe"/><stop offset="0.550" stop-color="#c4c4c4"/><stop offset="0.600" stop-color="#cbcbcb"/><stop offset="0.650" stop-color="#d2d2d2"/><stop offset="0.700" stop-color="#d8d8d8"/><stop offset="0.750" stop-color="#dedede"/><stop offset="0.800" stop-color="#e5e5e5"/><stop offset="0.850" stop-color="#ececec"/><stop offset="0.900" stop-color="#f2f2f2"/><stop offset="0.950" stop-color="#f8f8f8"/><stop offset="1.000" stop-color="#ffffff"/></linearGradient></defs>
<rect x="833.8" y="227" width="13.2" height="187" fill="url(#cb)"/>
<text x="851.6" y="231.8" font-size="12.7">1</text>
<text x="851.6" y="258.5" font-size="12.7">0.98</text>
<text x="851.6" y="285.2" font-size="12.7">0.96</text>
<text x="851.6" y="311.9" font-size="12.7">0.94</text>
<text x="851.6" y="338.6" font-size="12.7">0.92</text>
<text x="851.6" y="365.3" font-size="12.7">0.9</text>
<text x="851.6" y="392.0" font-size="12.7">0.88</text>
<text x="851.6" y="418.7" font-size="12.7">0.86</text>
<path d="M1182.40 146.5V819.8M1350.40 146.5V819.8M1518.40 146.5V819.8M1043.4 257.70H1648.9M1043.4 387.30H1648.9M1043.4 516.90H1648.9M1043.4 646.50H1648.9M1043.4 776.10H1648.9" stroke="#ebebeb" stroke-width="2" fill="none"/>
<path d="M1098.40 146.5V819.8M1266.40 146.5V819.8M1434.40 146.5V819.8M1602.40 146.5V819.8M1043.4 192.90H1648.9M1043.4 322.50H1648.9M1043.4 452.10H1648.9M1043.4 581.70H1648.9M1043.4 711.30H1648.9" stroke="#ebebeb" stroke-width="3.8" fill="none"/>
<g fill="#f8766d"><circle cx="1136.6" cy="281.1" r="4.8"/><circle cx="1201.5" cy="313.8" r="4.8"/><circle cx="1189.2" cy="328.9" r="4.8"/><circle cx="1139.7" cy="334.8" r="4.8"/><circle cx="1218.9" cy="341.7" r="4.8"/><circle cx="1259.8" cy="352.0" r="4.8"/><circle cx="1238.0" cy="362.8" r="4.8"/><circle cx="1144.9" cy="374.6" r="4.8"/><circle cx="1277.4" cy="378.8" r="4.8"/><circle cx="1213.1" cy="380.2" r="4.8"/><circle cx="1198.0" cy="385.3" r="4.8"/><circle cx="1191.1" cy="399.3" r="4.8"/><circle cx="1260.9" cy="403.5" r="4.8"/><circle cx="1141.4" cy="419.7" r="4.8"/><circle cx="1200.5" cy="462.2" r="4.8"/><circle cx="1145.5" cy="475.7" r="4.8"/><circle cx="1158.0" cy="496.4" r="4.8"/><circle cx="1170.5" cy="521.3" r="4.8"/><circle cx="1173.5" cy="527.7" r="4.8"/><circle cx="1191.1" cy="520.3" r="4.8"/><circle cx="1195.1" cy="523.4" r="4.8"/><circle cx="1203.6" cy="540.6" r="4.8"/><circle cx="1151.9" cy="545.3" r="4.8"/><circle cx="1188.0" cy="558.8" r="4.8"/><circle cx="1219.1" cy="593.6" r="4.8"/><circle cx="1356.4" cy="373.4" r="4.8"/></g>
<path d="M1486.30 311.30L1493.00 322.70L1479.60 322.70ZM1518.70 323.10L1525.40 334.50L1512.00 334.50ZM1302.10 362.90L1308.80 374.30L1295.40 374.30ZM1338.20 375.40L1344.90 386.80L1331.50 386.80ZM1357.70 381.20L1364.40 392.60L1351.00 392.60ZM1521.80 401.70L1528.50 413.10L1515.10 413.10ZM1367.20 454.70L1373.90 466.10L1360.50 466.10ZM1468.10 468.90L1474.80 480.30L1461.40 480.30ZM1283.50 487.10L1290.20 498.50L1276.80 498.50ZM1438.70 513.50L1445.40 524.90L1432.00 524.90ZM1355.00 522.90L1361.70 534.30L1348.30 534.30ZM1254.90 545.00L1261.60 556.40L1248.20 556.40ZM1348.30 560.40L1355.00 571.80L1341.60 571.80ZM1434.00 557.70L1440.70 569.10L1427.30 569.10ZM1377.40 660.80L1384.10 672.20L1370.70 672.20ZM1246.40 691.50L1253.10 702.90L1239.70 702.90Z" fill="#00bfc4"/>
<path d="M1230.32 202.76L1238.09 204.29L1245.70 206.73L1253.13 210.08L1260.34 214.31L1267.30 219.40L1274.00 225.35L1280.39 232.13L1286.47 239.70L1292.19 248.05L1297.55 257.13L1302.51 266.91L1307.07 277.35L1311.19 288.42L1314.87 300.06L1318.09 312.23L1320.84 324.89L1323.11 337.98L1324.88 351.45L1326.16 365.26L1326.93 379.33L1327.19 393.63L1326.95 408.08L1326.20 422.64L1324.94 437.25L1323.19 451.85L1320.94 466.38L1318.21 480.79L1315.01 495.01L1311.35 509.00L1307.24 522.69L1302.70 536.04L1297.75 548.98L1292.41 561.48L1286.70 573.48L1280.64 584.92L1274.26 595.78L1267.58 606.00L1260.62 615.54L1253.42 624.37L1246.00 632.45L1238.40 639.75L1230.63 646.24L1222.74 651.90L1214.76 656.70L1206.71 660.62L1198.62 663.66L1190.54 665.78L1182.49 667.00L1174.50 667.30L1166.60 666.68L1158.83 665.15L1151.22 662.71L1143.79 659.36L1136.58 655.13L1129.62 650.04L1122.92 644.09L1116.53 637.31L1110.45 629.74L1104.73 621.39L1099.37 612.31L1094.41 602.53L1089.85 592.09L1085.73 581.02L1082.05 569.38L1078.83 557.21L1076.08 544.55L1073.81 531.46L1072.04 517.99L1070.76 504.18L1069.99 490.11L1069.73 475.81L1069.97 461.36L1070.72 446.80L1071.98 432.19L1073.73 417.59L1075.98 403.06L1078.71 388.65L1081.91 374.43L1085.57 360.44L1089.68 346.75L1094.22 333.40L1099.17 320.46L1104.51 307.96L1110.22 295.96L1116.28 284.52L1122.66 273.66L1129.34 263.44L1136.30 253.90L1143.50 245.07L1150.92 236.99L1158.52 229.69L1166.29 223.20L1174.18 217.54L1182.16 212.74L1190.21 208.82L1198.30 205.78L1206.38 203.66L1214.43 202.44L1222.42 202.14Z" fill="#f8766d" fill-opacity="0.12" stroke="#f8766d" stroke-width="3.7"/>
<path d="M1556.52 192.99L1566.45 199.76L1575.65 207.65L1584.08 216.61L1591.72 226.63L1598.52 237.66L1604.48 249.64L1609.55 262.55L1613.73 276.32L1616.99 290.90L1619.33 306.24L1620.73 322.27L1621.19 338.93L1620.70 356.16L1619.27 373.88L1616.90 392.03L1613.61 410.53L1609.40 429.32L1604.30 448.31L1598.32 467.44L1591.48 486.62L1583.82 505.78L1575.36 524.85L1566.14 543.76L1556.19 562.41L1545.55 580.75L1534.27 598.71L1522.39 616.20L1509.95 633.16L1497.01 649.52L1483.61 665.22L1469.82 680.20L1455.67 694.40L1441.24 707.76L1426.57 720.22L1411.73 731.75L1396.77 742.29L1381.75 751.80L1366.73 760.25L1351.77 767.60L1336.93 773.83L1322.27 778.90L1307.84 782.80L1293.71 785.51L1279.93 787.03L1266.54 787.34L1253.62 786.44L1241.20 784.35L1229.33 781.06L1218.07 776.59L1207.46 770.95L1197.53 764.18L1188.33 756.29L1179.90 747.33L1172.26 737.31L1165.46 726.28L1159.50 714.30L1154.43 701.39L1150.25 687.62L1146.99 673.04L1144.65 657.70L1143.25 641.67L1142.79 625.01L1143.28 607.78L1144.71 590.06L1147.08 571.91L1150.37 553.41L1154.58 534.62L1159.68 515.63L1165.66 496.50L1172.50 477.32L1180.16 458.16L1188.62 439.09L1197.84 420.18L1207.79 401.53L1218.43 383.19L1229.71 365.23L1241.59 347.74L1254.03 330.78L1266.97 314.42L1280.37 298.72L1294.16 283.74L1308.31 269.54L1322.74 256.18L1337.41 243.72L1352.25 232.19L1367.21 221.65L1382.23 212.14L1397.25 203.69L1412.21 196.34L1427.05 190.11L1441.71 185.04L1456.14 181.14L1470.27 178.43L1484.05 176.91L1497.44 176.60L1510.36 177.50L1522.78 179.59L1534.65 182.88L1545.91 187.35Z" fill="#00bfc4" fill-opacity="0.12" stroke="#00bfc4" stroke-width="3.9"/>
<circle cx="1198.4" cy="433.6" r="8.6" fill="#f8766d"/>
<path d="M1381.00 471.00L1392.30 490.40L1369.70 490.40Z" fill="#00bfc4"/>
<path d="M1043.4 452.3H1648.9" stroke="#000" stroke-width="4" stroke-dasharray="15.5 15.5"/>
<path d="M1266.4 819.8V146.5" stroke="#000" stroke-width="4" stroke-dasharray="15.5 15.5"/>
<path d="M1098.40 819.8V826.40M1266.40 819.8V826.40M1434.40 819.8V826.40M1602.40 819.8V826.40M1036.4 192.90H1043.4M1036.4 322.50H1043.4M1036.4 452.10H1043.4M1036.4 581.70H1043.4M1036.4 711.30H1043.4" stroke="#000" stroke-width="4" fill="none"/>
<text x="1031" y="200.30" text-anchor="end" font-size="21.9">100</text>
<text x="1031" y="329.90" text-anchor="end" font-size="21.9">50</text>
<text x="1031" y="459.50" text-anchor="end" font-size="21.9">0</text>
<text x="1031" y="589.10" text-anchor="end" font-size="21.9">−50</text>
<text x="1031" y="718.70" text-anchor="end" font-size="21.9">−100</text>
<text x="1098.40" y="847.7" text-anchor="middle" font-size="21.9">−100</text>
<text x="1266.40" y="847.7" text-anchor="middle" font-size="21.9">0</text>
<text x="1434.40" y="847.7" text-anchor="middle" font-size="21.9">100</text>
<text x="1602.40" y="847.7" text-anchor="middle" font-size="21.9">200</text>
<text x="1263.3" y="877" font-size="21.9">Dim1 (24.8%)</text>
<text transform="translate(970.3 496.4) rotate(-90)" x="0" y="0" text-anchor="middle" font-size="21.9">Dim2 (8.5%)</text>
<text x="1043" y="125.5" font-size="21.8">Individuals − PCA</text>
<text x="1628.2" y="114.1" font-size="21.9">Groups</text>
<rect x="1627.5" y="136.4" width="38.4" height="38.4" fill="#00bfc4" fill-opacity="0.12" stroke="#00bfc4" stroke-width="4"/>
<path d="M1646.70 143.80L1658.60 164.20L1634.80 164.20Z" fill="#00bfc4"/>
<rect x="1628.0" y="185.8" width="38.6" height="38.4" fill="#f8766d" fill-opacity="0.12" stroke="#f8766d" stroke-width="4"/>
<circle cx="1647.2" cy="204.7" r="9" fill="#f8766d"/>
<text x="1683.5" y="159.8" font-size="21.9">non−IPH</text>
<text x="1684" y="208.8" font-size="21.9">IPH</text>
</svg></body></html>
